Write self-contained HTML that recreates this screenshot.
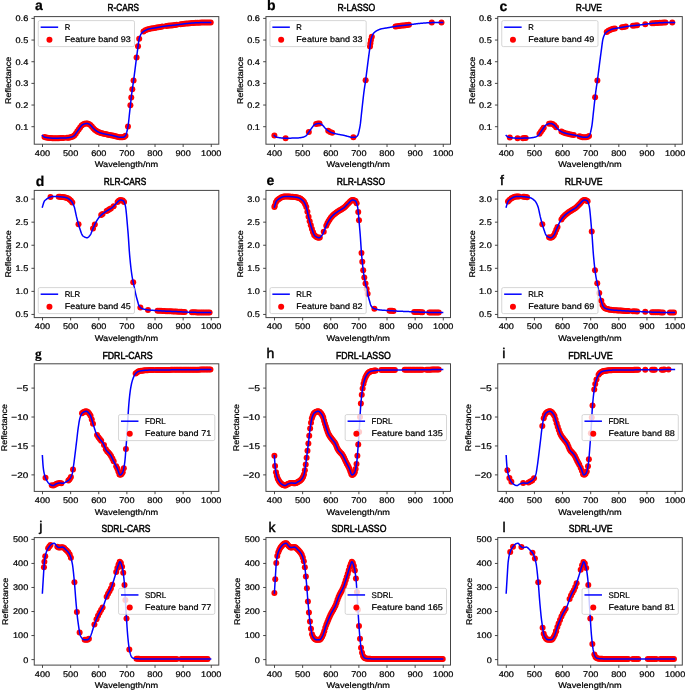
<!DOCTYPE html>
<html><head><meta charset="utf-8"><style>
html,body{margin:0;padding:0;background:#fff;}
svg{display:block;will-change:transform;}
text{text-rendering:geometricPrecision;font-family:"Liberation Sans",sans-serif;stroke:#000;stroke-width:0.22px;}
</style></head><body>
<svg width="685" height="690" viewBox="0 0 685 690" font-family="Liberation Sans, sans-serif" fill="#000">
<rect x="0" y="0" width="685" height="690" fill="#fff"/>
<clipPath id="clipa"><rect x="34.25" y="16.60" width="184.55" height="127.60"/></clipPath>
<g clip-path="url(#clipa)">
<circle cx="44.47" cy="137.12" r="3.0" fill="#f00"/>
<circle cx="46.06" cy="137.47" r="3.0" fill="#f00"/>
<circle cx="47.66" cy="137.74" r="3.0" fill="#f00"/>
<circle cx="49.25" cy="137.95" r="3.0" fill="#f00"/>
<circle cx="50.85" cy="138.09" r="3.0" fill="#f00"/>
<circle cx="52.44" cy="138.17" r="3.0" fill="#f00"/>
<circle cx="54.03" cy="138.18" r="3.0" fill="#f00"/>
<circle cx="55.63" cy="138.17" r="3.0" fill="#f00"/>
<circle cx="57.22" cy="138.16" r="3.0" fill="#f00"/>
<circle cx="58.82" cy="138.13" r="3.0" fill="#f00"/>
<circle cx="60.41" cy="138.10" r="3.0" fill="#f00"/>
<circle cx="62.00" cy="138.06" r="3.0" fill="#f00"/>
<circle cx="63.60" cy="138.02" r="3.0" fill="#f00"/>
<circle cx="66.97" cy="137.85" r="3.0" fill="#f00"/>
<circle cx="68.44" cy="137.66" r="3.0" fill="#f00"/>
<circle cx="69.90" cy="137.41" r="3.0" fill="#f00"/>
<circle cx="71.36" cy="137.09" r="3.0" fill="#f00"/>
<circle cx="72.82" cy="136.50" r="3.0" fill="#f00"/>
<circle cx="74.29" cy="135.57" r="3.0" fill="#f00"/>
<circle cx="75.75" cy="133.69" r="3.0" fill="#f00"/>
<circle cx="77.21" cy="131.57" r="3.0" fill="#f00"/>
<circle cx="78.68" cy="129.47" r="3.0" fill="#f00"/>
<circle cx="80.14" cy="127.49" r="3.0" fill="#f00"/>
<circle cx="81.60" cy="125.51" r="3.0" fill="#f00"/>
<circle cx="83.06" cy="124.39" r="3.0" fill="#f00"/>
<circle cx="84.53" cy="123.87" r="3.0" fill="#f00"/>
<circle cx="85.99" cy="123.53" r="3.0" fill="#f00"/>
<circle cx="87.45" cy="123.48" r="3.0" fill="#f00"/>
<circle cx="88.91" cy="124.06" r="3.0" fill="#f00"/>
<circle cx="90.38" cy="125.00" r="3.0" fill="#f00"/>
<circle cx="91.84" cy="126.62" r="3.0" fill="#f00"/>
<circle cx="93.30" cy="128.23" r="3.0" fill="#f00"/>
<circle cx="94.77" cy="129.66" r="3.0" fill="#f00"/>
<circle cx="96.23" cy="130.78" r="3.0" fill="#f00"/>
<circle cx="97.69" cy="131.66" r="3.0" fill="#f00"/>
<circle cx="99.15" cy="132.37" r="3.0" fill="#f00"/>
<circle cx="100.62" cy="132.92" r="3.0" fill="#f00"/>
<circle cx="102.08" cy="133.35" r="3.0" fill="#f00"/>
<circle cx="103.54" cy="133.72" r="3.0" fill="#f00"/>
<circle cx="105.00" cy="134.05" r="3.0" fill="#f00"/>
<circle cx="106.47" cy="134.36" r="3.0" fill="#f00"/>
<circle cx="107.93" cy="134.63" r="3.0" fill="#f00"/>
<circle cx="109.39" cy="134.88" r="3.0" fill="#f00"/>
<circle cx="110.86" cy="135.14" r="3.0" fill="#f00"/>
<circle cx="112.32" cy="135.44" r="3.0" fill="#f00"/>
<circle cx="113.78" cy="135.83" r="3.0" fill="#f00"/>
<circle cx="115.24" cy="136.23" r="3.0" fill="#f00"/>
<circle cx="116.71" cy="136.61" r="3.0" fill="#f00"/>
<circle cx="118.17" cy="137.01" r="3.0" fill="#f00"/>
<circle cx="119.63" cy="137.31" r="3.0" fill="#f00"/>
<circle cx="121.10" cy="137.35" r="3.0" fill="#f00"/>
<circle cx="122.56" cy="137.25" r="3.0" fill="#f00"/>
<circle cx="124.02" cy="136.93" r="3.0" fill="#f00"/>
<circle cx="125.48" cy="135.74" r="3.0" fill="#f00"/>
<circle cx="127.97" cy="126.48" r="3.0" fill="#f00"/>
<circle cx="130.40" cy="105.26" r="3.0" fill="#f00"/>
<circle cx="131.27" cy="97.46" r="3.0" fill="#f00"/>
<circle cx="132.31" cy="89.23" r="3.0" fill="#f00"/>
<circle cx="133.58" cy="80.56" r="3.0" fill="#f00"/>
<circle cx="136.57" cy="57.39" r="3.0" fill="#f00"/>
<circle cx="138.03" cy="46.34" r="3.0" fill="#f00"/>
<circle cx="139.21" cy="38.76" r="3.0" fill="#f00"/>
<circle cx="143.49" cy="31.50" r="3.0" fill="#f00"/>
<circle cx="145.37" cy="30.37" r="3.0" fill="#f00"/>
<circle cx="147.26" cy="29.49" r="3.0" fill="#f00"/>
<circle cx="149.14" cy="28.90" r="3.0" fill="#f00"/>
<circle cx="151.03" cy="28.50" r="3.0" fill="#f00"/>
<circle cx="152.91" cy="28.20" r="3.0" fill="#f00"/>
<circle cx="154.79" cy="27.91" r="3.0" fill="#f00"/>
<circle cx="156.68" cy="27.59" r="3.0" fill="#f00"/>
<circle cx="158.56" cy="27.25" r="3.0" fill="#f00"/>
<circle cx="160.45" cy="26.90" r="3.0" fill="#f00"/>
<circle cx="162.33" cy="26.57" r="3.0" fill="#f00"/>
<circle cx="166.27" cy="26.00" r="3.0" fill="#f00"/>
<circle cx="168.01" cy="25.79" r="3.0" fill="#f00"/>
<circle cx="169.74" cy="25.61" r="3.0" fill="#f00"/>
<circle cx="171.48" cy="25.43" r="3.0" fill="#f00"/>
<circle cx="173.21" cy="25.25" r="3.0" fill="#f00"/>
<circle cx="174.95" cy="25.07" r="3.0" fill="#f00"/>
<circle cx="176.68" cy="24.86" r="3.0" fill="#f00"/>
<circle cx="180.62" cy="24.33" r="3.0" fill="#f00"/>
<circle cx="182.50" cy="24.06" r="3.0" fill="#f00"/>
<circle cx="184.38" cy="23.80" r="3.0" fill="#f00"/>
<circle cx="186.26" cy="23.57" r="3.0" fill="#f00"/>
<circle cx="188.14" cy="23.38" r="3.0" fill="#f00"/>
<circle cx="190.02" cy="23.21" r="3.0" fill="#f00"/>
<circle cx="191.91" cy="23.06" r="3.0" fill="#f00"/>
<circle cx="193.79" cy="22.91" r="3.0" fill="#f00"/>
<circle cx="195.67" cy="22.79" r="3.0" fill="#f00"/>
<circle cx="197.55" cy="22.69" r="3.0" fill="#f00"/>
<circle cx="199.43" cy="22.63" r="3.0" fill="#f00"/>
<circle cx="201.31" cy="22.60" r="3.0" fill="#f00"/>
<circle cx="203.19" cy="22.57" r="3.0" fill="#f00"/>
<circle cx="205.07" cy="22.55" r="3.0" fill="#f00"/>
<circle cx="206.96" cy="22.53" r="3.0" fill="#f00"/>
<circle cx="208.84" cy="22.52" r="3.0" fill="#f00"/>
<circle cx="210.72" cy="22.52" r="3.0" fill="#f00"/>
<polyline points="42.39,135.55 42.67,135.81 42.95,136.07 43.23,136.32 43.51,136.55 43.79,136.75 44.08,136.93 44.36,137.07 44.64,137.18 44.92,137.24 45.20,137.30 45.48,137.36 45.76,137.42 46.04,137.47 46.33,137.52 46.61,137.57 46.89,137.62 47.17,137.67 47.45,137.71 47.73,137.76 48.01,137.80 48.29,137.83 48.58,137.87 48.86,137.90 49.14,137.94 49.42,137.97 49.70,138.00 49.98,138.02 50.26,138.05 50.55,138.07 50.83,138.09 51.11,138.11 51.39,138.12 51.67,138.14 51.95,138.15 52.23,138.16 52.51,138.17 52.80,138.17 53.08,138.18 53.36,138.18 53.64,138.18 53.92,138.18 54.20,138.18 54.48,138.18 54.76,138.18 55.05,138.18 55.33,138.17 55.61,138.17 55.89,138.17 56.17,138.17 56.45,138.17 56.73,138.16 57.02,138.16 57.30,138.16 57.58,138.15 57.86,138.15 58.14,138.14 58.42,138.14 58.70,138.14 58.98,138.13 59.27,138.13 59.55,138.12 59.83,138.12 60.11,138.11 60.39,138.10 60.67,138.10 60.95,138.09 61.23,138.08 61.52,138.08 61.80,138.07 62.08,138.06 62.36,138.06 62.64,138.05 62.92,138.04 63.20,138.03 63.48,138.02 63.77,138.01 64.05,138.01 64.33,138.00 64.61,137.99 64.89,137.98 65.17,137.97 65.45,137.96 65.74,137.94 66.02,137.93 66.30,137.91 66.58,137.88 66.86,137.86 67.14,137.83 67.42,137.80 67.70,137.77 67.99,137.73 68.27,137.69 68.55,137.65 68.83,137.60 69.11,137.56 69.39,137.51 69.67,137.46 69.95,137.40 70.24,137.35 70.52,137.29 70.80,137.23 71.08,137.17 71.36,137.09 71.64,137.00 71.92,136.90 72.21,136.79 72.49,136.67 72.77,136.53 73.05,136.38 73.33,136.22 73.61,136.05 73.89,135.87 74.17,135.67 74.46,135.41 74.74,135.10 75.02,134.74 75.30,134.35 75.58,133.94 75.86,133.52 76.14,133.09 76.42,132.67 76.71,132.27 76.99,131.88 77.27,131.49 77.55,131.09 77.83,130.69 78.11,130.28 78.39,129.87 78.68,129.47 78.96,129.07 79.24,128.68 79.52,128.30 79.80,127.93 80.08,127.56 80.36,127.18 80.64,126.79 80.93,126.40 81.21,126.01 81.49,125.65 81.77,125.31 82.05,125.02 82.33,124.77 82.61,124.59 82.89,124.46 83.18,124.35 83.46,124.24 83.74,124.13 84.02,124.03 84.30,123.94 84.58,123.85 84.86,123.77 85.15,123.70 85.43,123.63 85.71,123.58 85.99,123.53 86.27,123.50 86.55,123.47 86.83,123.46 87.11,123.45 87.40,123.47 87.68,123.53 87.96,123.61 88.24,123.72 88.52,123.85 88.80,124.00 89.08,124.16 89.36,124.33 89.65,124.50 89.93,124.68 90.21,124.87 90.49,125.10 90.77,125.37 91.05,125.68 91.33,126.00 91.61,126.35 91.90,126.69 92.18,127.03 92.46,127.36 92.74,127.67 93.02,127.95 93.30,128.23 93.58,128.51 93.87,128.79 94.15,129.07 94.43,129.34 94.71,129.60 94.99,129.86 95.27,130.09 95.55,130.32 95.83,130.52 96.12,130.71 96.40,130.89 96.68,131.07 96.96,131.24 97.24,131.40 97.52,131.56 97.80,131.72 98.08,131.86 98.37,132.01 98.65,132.14 98.93,132.27 99.21,132.39 99.49,132.51 99.77,132.62 100.05,132.73 100.34,132.82 100.62,132.92 100.90,133.01 101.18,133.09 101.46,133.18 101.74,133.26 102.02,133.34 102.30,133.41 102.59,133.49 102.87,133.56 103.15,133.63 103.43,133.70 103.71,133.76 103.99,133.83 104.27,133.89 104.55,133.95 104.84,134.02 105.12,134.08 105.40,134.14 105.68,134.20 105.96,134.26 106.24,134.32 106.52,134.37 106.81,134.43 107.09,134.48 107.37,134.53 107.65,134.58 107.93,134.63 108.21,134.68 108.49,134.73 108.77,134.78 109.06,134.82 109.34,134.87 109.62,134.92 109.90,134.97 110.18,135.01 110.46,135.06 110.74,135.12 111.02,135.17 111.31,135.22 111.59,135.28 111.87,135.34 112.15,135.40 112.43,135.47 112.71,135.54 112.99,135.61 113.28,135.69 113.56,135.77 113.84,135.84 114.12,135.92 114.40,136.00 114.68,136.08 114.96,136.16 115.24,136.23 115.53,136.31 115.81,136.38 116.09,136.44 116.37,136.52 116.65,136.59 116.93,136.67 117.21,136.75 117.49,136.83 117.78,136.91 118.06,136.98 118.34,137.06 118.62,137.12 118.90,137.18 119.18,137.24 119.46,137.28 119.74,137.32 120.03,137.34 120.31,137.36 120.59,137.36 120.87,137.35 121.15,137.34 121.43,137.33 121.71,137.32 122.00,137.30 122.28,137.28 122.56,137.25 122.84,137.23 123.12,137.20 123.40,137.16 123.68,137.08 123.96,136.96 124.25,136.81 124.53,136.62 124.81,136.40 125.09,136.15 125.37,135.87 125.65,135.49 125.93,134.92 126.21,134.16 126.50,133.24 126.78,132.17 127.06,130.99 127.34,129.69 127.62,128.31 127.90,126.86 128.18,125.26 128.47,123.17 128.75,120.69 129.03,117.99 129.31,115.22 129.59,112.55 129.87,110.05 130.15,107.52 130.43,104.97 130.72,102.41 131.00,99.87 131.28,97.39 131.56,94.99 131.84,92.71 132.12,90.56 132.40,88.56 132.68,86.65 132.97,84.79 133.25,82.90 133.53,80.95 133.81,78.88 134.09,76.73 134.37,74.52 134.65,72.29 134.94,70.04 135.22,67.81 135.50,65.62 135.78,63.45 136.06,61.27 136.34,59.11 136.62,56.96 136.90,54.83 137.19,52.74 137.47,50.70 137.75,48.55 138.03,46.31 138.31,44.12 138.59,42.08 138.87,40.32 139.15,38.97 139.44,37.99 139.72,37.10 140.00,36.30 140.28,35.59 140.56,34.95 140.84,34.39 141.12,33.91 141.41,33.49 141.69,33.14 141.97,32.82 142.25,32.52 142.53,32.26 142.81,32.01 143.09,31.79 143.37,31.58 143.66,31.39 143.94,31.20 144.22,31.03 144.50,30.86 144.78,30.70 145.06,30.54 145.34,30.39 145.62,30.24 145.91,30.09 146.19,29.96 146.47,29.82 146.75,29.70 147.03,29.58 147.31,29.47 147.59,29.36 147.87,29.26 148.16,29.17 148.44,29.08 148.72,29.01 149.00,28.93 149.28,28.87 149.56,28.80 149.84,28.74 150.13,28.68 150.41,28.62 150.69,28.57 150.97,28.51 151.25,28.46 151.53,28.42 151.81,28.37 152.09,28.32 152.38,28.28 152.66,28.24 152.94,28.19 153.22,28.15 153.50,28.11 153.78,28.07 154.06,28.02 154.34,27.98 154.63,27.94 154.91,27.90 155.19,27.85 155.47,27.80 155.75,27.76 156.03,27.71 156.31,27.66 156.60,27.61 156.88,27.56 157.16,27.51 157.44,27.46 157.72,27.40 158.00,27.35 158.28,27.30 158.56,27.25 158.85,27.19 159.13,27.14 159.41,27.09 159.69,27.04 159.97,26.99 160.25,26.93 160.53,26.88 160.81,26.83 161.10,26.78 161.38,26.73 161.66,26.68 161.94,26.63 162.22,26.59 162.50,26.54 162.78,26.49 163.07,26.45 163.35,26.40 163.63,26.36 163.91,26.31 164.19,26.27 164.47,26.23 164.75,26.19 165.03,26.16 165.32,26.12 165.60,26.08 165.88,26.05 166.16,26.01 166.44,25.98 166.72,25.94 167.00,25.91 167.28,25.88 167.57,25.84 167.85,25.81 168.13,25.78 168.41,25.75 168.69,25.72 168.97,25.69 169.25,25.66 169.54,25.63 169.82,25.60 170.10,25.57 170.38,25.54 170.66,25.51 170.94,25.48 171.22,25.45 171.50,25.43 171.79,25.40 172.07,25.37 172.35,25.34 172.63,25.31 172.91,25.28 173.19,25.25 173.47,25.22 173.75,25.19 174.04,25.16 174.32,25.13 174.60,25.10 174.88,25.07 175.16,25.04 175.44,25.01 175.72,24.98 176.00,24.94 176.29,24.91 176.57,24.88 176.85,24.84 177.13,24.81 177.41,24.77 177.69,24.73 177.97,24.70 178.26,24.66 178.54,24.62 178.82,24.58 179.10,24.54 179.38,24.50 179.66,24.46 179.94,24.42 180.22,24.38 180.51,24.34 180.79,24.30 181.07,24.26 181.35,24.22 181.63,24.18 181.91,24.14 182.19,24.10 182.47,24.06 182.76,24.02 183.04,23.98 183.32,23.94 183.60,23.90 183.88,23.86 184.16,23.83 184.44,23.79 184.73,23.75 185.01,23.72 185.29,23.68 185.57,23.65 185.85,23.61 186.13,23.58 186.41,23.55 186.69,23.52 186.98,23.49 187.26,23.46 187.54,23.43 187.82,23.41 188.10,23.38 188.38,23.36 188.66,23.33 188.94,23.31 189.23,23.28 189.51,23.26 189.79,23.24 190.07,23.21 190.35,23.19 190.63,23.16 190.91,23.14 191.20,23.12 191.48,23.09 191.76,23.07 192.04,23.05 192.32,23.02 192.60,23.00 192.88,22.98 193.16,22.96 193.45,22.94 193.73,22.92 194.01,22.90 194.29,22.88 194.57,22.86 194.85,22.84 195.13,22.82 195.41,22.80 195.70,22.78 195.98,22.77 196.26,22.75 196.54,22.74 196.82,22.72 197.10,22.71 197.38,22.70 197.67,22.69 197.95,22.67 198.23,22.66 198.51,22.65 198.79,22.65 199.07,22.64 199.35,22.63 199.63,22.63 199.92,22.62 200.20,22.62 200.48,22.61 200.76,22.61 201.04,22.60 201.32,22.60 201.60,22.59 201.88,22.59 202.17,22.59 202.45,22.58 202.73,22.58 203.01,22.57 203.29,22.57 203.57,22.57 203.85,22.56 204.13,22.56 204.42,22.56 204.70,22.55 204.98,22.55 205.26,22.55 205.54,22.54 205.82,22.54 206.10,22.54 206.39,22.54 206.67,22.53 206.95,22.53 207.23,22.53 207.51,22.53 207.79,22.52 208.07,22.52 208.35,22.52 208.64,22.52 208.92,22.52 209.20,22.52 209.48,22.52 209.76,22.52 210.04,22.52 210.32,22.52 210.60,22.52" fill="none" stroke="#00f" stroke-width="1.5" stroke-linejoin="round" stroke-linecap="square"/>
</g>
<rect x="34.25" y="16.60" width="184.55" height="127.60" fill="none" stroke="#444" stroke-width="1"/>
<line x1="42.50" y1="144.20" x2="42.50" y2="147.00" stroke="#333" stroke-width="0.9"/>
<text x="42.50" y="155.90" text-anchor="middle" font-size="8.2" textLength="15.27" lengthAdjust="spacingAndGlyphs" >400</text>
<line x1="70.63" y1="144.20" x2="70.63" y2="147.00" stroke="#333" stroke-width="0.9"/>
<text x="70.63" y="155.90" text-anchor="middle" font-size="8.2" textLength="15.27" lengthAdjust="spacingAndGlyphs" >500</text>
<line x1="98.76" y1="144.20" x2="98.76" y2="147.00" stroke="#333" stroke-width="0.9"/>
<text x="98.76" y="155.90" text-anchor="middle" font-size="8.2" textLength="15.27" lengthAdjust="spacingAndGlyphs" >600</text>
<line x1="126.89" y1="144.20" x2="126.89" y2="147.00" stroke="#333" stroke-width="0.9"/>
<text x="126.89" y="155.90" text-anchor="middle" font-size="8.2" textLength="15.27" lengthAdjust="spacingAndGlyphs" >700</text>
<line x1="155.02" y1="144.20" x2="155.02" y2="147.00" stroke="#333" stroke-width="0.9"/>
<text x="155.02" y="155.90" text-anchor="middle" font-size="8.2" textLength="15.27" lengthAdjust="spacingAndGlyphs" >800</text>
<line x1="183.15" y1="144.20" x2="183.15" y2="147.00" stroke="#333" stroke-width="0.9"/>
<text x="183.15" y="155.90" text-anchor="middle" font-size="8.2" textLength="15.27" lengthAdjust="spacingAndGlyphs" >900</text>
<line x1="211.28" y1="144.20" x2="211.28" y2="147.00" stroke="#333" stroke-width="0.9"/>
<text x="211.28" y="155.90" text-anchor="middle" font-size="8.2" textLength="20.36" lengthAdjust="spacingAndGlyphs" >1000</text>
<line x1="31.45" y1="126.70" x2="34.25" y2="126.70" stroke="#333" stroke-width="0.9"/>
<text x="28.25" y="129.60" text-anchor="end" font-size="8.2" textLength="12.72" lengthAdjust="spacingAndGlyphs" >0.1</text>
<line x1="31.45" y1="105.04" x2="34.25" y2="105.04" stroke="#333" stroke-width="0.9"/>
<text x="28.25" y="107.94" text-anchor="end" font-size="8.2" textLength="12.72" lengthAdjust="spacingAndGlyphs" >0.2</text>
<line x1="31.45" y1="83.38" x2="34.25" y2="83.38" stroke="#333" stroke-width="0.9"/>
<text x="28.25" y="86.28" text-anchor="end" font-size="8.2" textLength="12.72" lengthAdjust="spacingAndGlyphs" >0.3</text>
<line x1="31.45" y1="61.72" x2="34.25" y2="61.72" stroke="#333" stroke-width="0.9"/>
<text x="28.25" y="64.62" text-anchor="end" font-size="8.2" textLength="12.72" lengthAdjust="spacingAndGlyphs" >0.4</text>
<line x1="31.45" y1="40.06" x2="34.25" y2="40.06" stroke="#333" stroke-width="0.9"/>
<text x="28.25" y="42.96" text-anchor="end" font-size="8.2" textLength="12.72" lengthAdjust="spacingAndGlyphs" >0.5</text>
<line x1="31.45" y1="18.40" x2="34.25" y2="18.40" stroke="#333" stroke-width="0.9"/>
<text x="28.25" y="21.30" text-anchor="end" font-size="8.2" textLength="12.72" lengthAdjust="spacingAndGlyphs" >0.6</text>
<text x="126.53" y="167.40" text-anchor="middle" font-size="8.2" textLength="63.53" lengthAdjust="spacingAndGlyphs" >Wavelength/nm</text>
<text transform="translate(11.10,80.40) rotate(-90)" x="0" y="0" text-anchor="middle" font-size="8.2" textLength="47.27" lengthAdjust="spacingAndGlyphs">Reflectance</text>
<text x="107.60" y="10.85" font-size="10.3" font-weight="normal" style="stroke-width:0.5px" textLength="31.50" lengthAdjust="spacingAndGlyphs">R-CARS</text>
<text x="35.10" y="9.80" font-size="14" font-weight="bold">a</text>
<rect x="38.25" y="20.60" width="96.24" height="26.00" rx="1.6" fill="#fff" fill-opacity="0.8" stroke="#ccc" stroke-width="0.8"/>
<line x1="40.65" y1="27.20" x2="58.15" y2="27.20" stroke="#00f" stroke-width="1.5"/>
<circle cx="49.45" cy="39.80" r="3.0" fill="#f00"/>
<text x="64.65" y="30.20" text-anchor="start" font-size="8.2" textLength="5.56" lengthAdjust="spacingAndGlyphs" >R</text>
<text x="64.65" y="41.80" text-anchor="start" font-size="8.2" textLength="66.24" lengthAdjust="spacingAndGlyphs" >Feature band 93</text>
<clipPath id="clipb"><rect x="265.95" y="16.60" width="184.55" height="127.60"/></clipPath>
<g clip-path="url(#clipb)">
<circle cx="274.39" cy="135.55" r="3.0" fill="#f00"/>
<circle cx="285.61" cy="138.18" r="3.0" fill="#f00"/>
<circle cx="308.82" cy="132.12" r="3.0" fill="#f00"/>
<circle cx="316.13" cy="123.99" r="3.0" fill="#f00"/>
<circle cx="317.82" cy="123.56" r="3.0" fill="#f00"/>
<circle cx="319.51" cy="123.49" r="3.0" fill="#f00"/>
<circle cx="328.23" cy="130.78" r="3.0" fill="#f00"/>
<circle cx="330.20" cy="131.92" r="3.0" fill="#f00"/>
<circle cx="332.17" cy="132.76" r="3.0" fill="#f00"/>
<circle cx="353.40" cy="137.33" r="3.0" fill="#f00"/>
<circle cx="365.64" cy="80.13" r="3.0" fill="#f00"/>
<circle cx="370.00" cy="46.56" r="3.0" fill="#f00"/>
<circle cx="370.42" cy="43.31" r="3.0" fill="#f00"/>
<circle cx="370.92" cy="40.06" r="3.0" fill="#f00"/>
<circle cx="371.82" cy="36.81" r="3.0" fill="#f00"/>
<circle cx="395.46" cy="26.38" r="3.0" fill="#f00"/>
<circle cx="397.15" cy="26.14" r="3.0" fill="#f00"/>
<circle cx="398.83" cy="25.93" r="3.0" fill="#f00"/>
<circle cx="400.52" cy="25.74" r="3.0" fill="#f00"/>
<circle cx="402.21" cy="25.56" r="3.0" fill="#f00"/>
<circle cx="403.90" cy="25.39" r="3.0" fill="#f00"/>
<circle cx="405.59" cy="25.21" r="3.0" fill="#f00"/>
<circle cx="407.27" cy="25.03" r="3.0" fill="#f00"/>
<circle cx="408.96" cy="24.83" r="3.0" fill="#f00"/>
<circle cx="431.75" cy="22.62" r="3.0" fill="#f00"/>
<circle cx="441.48" cy="22.52" r="3.0" fill="#f00"/>
<polyline points="274.39,135.55 274.67,135.81 274.95,136.07 275.23,136.32 275.51,136.55 275.79,136.75 276.08,136.93 276.36,137.07 276.64,137.18 276.92,137.24 277.20,137.30 277.48,137.36 277.76,137.42 278.04,137.47 278.33,137.52 278.61,137.57 278.89,137.62 279.17,137.67 279.45,137.71 279.73,137.76 280.01,137.80 280.29,137.83 280.58,137.87 280.86,137.90 281.14,137.94 281.42,137.97 281.70,138.00 281.98,138.02 282.26,138.05 282.55,138.07 282.83,138.09 283.11,138.11 283.39,138.12 283.67,138.14 283.95,138.15 284.23,138.16 284.51,138.17 284.80,138.17 285.08,138.18 285.36,138.18 285.64,138.18 285.92,138.18 286.20,138.18 286.48,138.18 286.76,138.18 287.05,138.18 287.33,138.17 287.61,138.17 287.89,138.17 288.17,138.17 288.45,138.17 288.73,138.16 289.02,138.16 289.30,138.16 289.58,138.15 289.86,138.15 290.14,138.14 290.42,138.14 290.70,138.14 290.98,138.13 291.27,138.13 291.55,138.12 291.83,138.12 292.11,138.11 292.39,138.10 292.67,138.10 292.95,138.09 293.23,138.08 293.52,138.08 293.80,138.07 294.08,138.06 294.36,138.06 294.64,138.05 294.92,138.04 295.20,138.03 295.48,138.02 295.77,138.01 296.05,138.01 296.33,138.00 296.61,137.99 296.89,137.98 297.17,137.97 297.45,137.96 297.74,137.94 298.02,137.93 298.30,137.91 298.58,137.88 298.86,137.86 299.14,137.83 299.42,137.80 299.70,137.77 299.99,137.73 300.27,137.69 300.55,137.65 300.83,137.60 301.11,137.56 301.39,137.51 301.67,137.46 301.95,137.40 302.24,137.35 302.52,137.29 302.80,137.23 303.08,137.17 303.36,137.09 303.64,137.00 303.92,136.90 304.21,136.79 304.49,136.67 304.77,136.53 305.05,136.38 305.33,136.22 305.61,136.05 305.89,135.87 306.17,135.67 306.46,135.41 306.74,135.10 307.02,134.74 307.30,134.35 307.58,133.94 307.86,133.52 308.14,133.09 308.42,132.67 308.71,132.27 308.99,131.88 309.27,131.49 309.55,131.09 309.83,130.69 310.11,130.28 310.39,129.87 310.68,129.47 310.96,129.07 311.24,128.68 311.52,128.30 311.80,127.93 312.08,127.56 312.36,127.18 312.64,126.79 312.93,126.40 313.21,126.01 313.49,125.65 313.77,125.31 314.05,125.02 314.33,124.77 314.61,124.59 314.89,124.46 315.18,124.35 315.46,124.24 315.74,124.13 316.02,124.03 316.30,123.94 316.58,123.85 316.86,123.77 317.15,123.70 317.43,123.63 317.71,123.58 317.99,123.53 318.27,123.50 318.55,123.47 318.83,123.46 319.11,123.45 319.40,123.47 319.68,123.53 319.96,123.61 320.24,123.72 320.52,123.85 320.80,124.00 321.08,124.16 321.36,124.33 321.65,124.50 321.93,124.68 322.21,124.87 322.49,125.10 322.77,125.37 323.05,125.68 323.33,126.00 323.61,126.35 323.90,126.69 324.18,127.03 324.46,127.36 324.74,127.67 325.02,127.95 325.30,128.23 325.58,128.51 325.87,128.79 326.15,129.07 326.43,129.34 326.71,129.60 326.99,129.86 327.27,130.09 327.55,130.32 327.83,130.52 328.12,130.71 328.40,130.89 328.68,131.07 328.96,131.24 329.24,131.40 329.52,131.56 329.80,131.72 330.08,131.86 330.37,132.01 330.65,132.14 330.93,132.27 331.21,132.39 331.49,132.51 331.77,132.62 332.05,132.73 332.34,132.82 332.62,132.92 332.90,133.01 333.18,133.09 333.46,133.18 333.74,133.26 334.02,133.34 334.30,133.41 334.59,133.49 334.87,133.56 335.15,133.63 335.43,133.70 335.71,133.76 335.99,133.83 336.27,133.89 336.55,133.95 336.84,134.02 337.12,134.08 337.40,134.14 337.68,134.20 337.96,134.26 338.24,134.32 338.52,134.37 338.81,134.43 339.09,134.48 339.37,134.53 339.65,134.58 339.93,134.63 340.21,134.68 340.49,134.73 340.77,134.78 341.06,134.82 341.34,134.87 341.62,134.92 341.90,134.97 342.18,135.01 342.46,135.06 342.74,135.12 343.02,135.17 343.31,135.22 343.59,135.28 343.87,135.34 344.15,135.40 344.43,135.47 344.71,135.54 344.99,135.61 345.28,135.69 345.56,135.77 345.84,135.84 346.12,135.92 346.40,136.00 346.68,136.08 346.96,136.16 347.24,136.23 347.53,136.31 347.81,136.38 348.09,136.44 348.37,136.52 348.65,136.59 348.93,136.67 349.21,136.75 349.49,136.83 349.78,136.91 350.06,136.98 350.34,137.06 350.62,137.12 350.90,137.18 351.18,137.24 351.46,137.28 351.74,137.32 352.03,137.34 352.31,137.36 352.59,137.36 352.87,137.35 353.15,137.34 353.43,137.33 353.71,137.32 354.00,137.30 354.28,137.28 354.56,137.25 354.84,137.23 355.12,137.20 355.40,137.16 355.68,137.08 355.96,136.96 356.25,136.81 356.53,136.62 356.81,136.40 357.09,136.15 357.37,135.87 357.65,135.49 357.93,134.92 358.21,134.16 358.50,133.24 358.78,132.17 359.06,130.99 359.34,129.69 359.62,128.31 359.90,126.86 360.18,125.26 360.47,123.17 360.75,120.69 361.03,117.99 361.31,115.22 361.59,112.55 361.87,110.05 362.15,107.52 362.43,104.97 362.72,102.41 363.00,99.87 363.28,97.39 363.56,94.99 363.84,92.71 364.12,90.56 364.40,88.56 364.68,86.65 364.97,84.79 365.25,82.90 365.53,80.95 365.81,78.88 366.09,76.73 366.37,74.52 366.65,72.29 366.94,70.04 367.22,67.81 367.50,65.62 367.78,63.45 368.06,61.27 368.34,59.11 368.62,56.96 368.90,54.83 369.19,52.74 369.47,50.70 369.75,48.55 370.03,46.31 370.31,44.12 370.59,42.08 370.87,40.32 371.15,38.97 371.44,37.99 371.72,37.10 372.00,36.30 372.28,35.59 372.56,34.95 372.84,34.39 373.12,33.91 373.41,33.49 373.69,33.14 373.97,32.82 374.25,32.52 374.53,32.26 374.81,32.01 375.09,31.79 375.37,31.58 375.66,31.39 375.94,31.20 376.22,31.03 376.50,30.86 376.78,30.70 377.06,30.54 377.34,30.39 377.62,30.24 377.91,30.09 378.19,29.96 378.47,29.82 378.75,29.70 379.03,29.58 379.31,29.47 379.59,29.36 379.87,29.26 380.16,29.17 380.44,29.08 380.72,29.01 381.00,28.93 381.28,28.87 381.56,28.80 381.84,28.74 382.13,28.68 382.41,28.62 382.69,28.57 382.97,28.51 383.25,28.46 383.53,28.42 383.81,28.37 384.09,28.32 384.38,28.28 384.66,28.24 384.94,28.19 385.22,28.15 385.50,28.11 385.78,28.07 386.06,28.02 386.34,27.98 386.63,27.94 386.91,27.90 387.19,27.85 387.47,27.80 387.75,27.76 388.03,27.71 388.31,27.66 388.60,27.61 388.88,27.56 389.16,27.51 389.44,27.46 389.72,27.40 390.00,27.35 390.28,27.30 390.56,27.25 390.85,27.19 391.13,27.14 391.41,27.09 391.69,27.04 391.97,26.99 392.25,26.93 392.53,26.88 392.81,26.83 393.10,26.78 393.38,26.73 393.66,26.68 393.94,26.63 394.22,26.59 394.50,26.54 394.78,26.49 395.07,26.45 395.35,26.40 395.63,26.36 395.91,26.31 396.19,26.27 396.47,26.23 396.75,26.19 397.03,26.16 397.32,26.12 397.60,26.08 397.88,26.05 398.16,26.01 398.44,25.98 398.72,25.94 399.00,25.91 399.28,25.88 399.57,25.84 399.85,25.81 400.13,25.78 400.41,25.75 400.69,25.72 400.97,25.69 401.25,25.66 401.54,25.63 401.82,25.60 402.10,25.57 402.38,25.54 402.66,25.51 402.94,25.48 403.22,25.45 403.50,25.43 403.79,25.40 404.07,25.37 404.35,25.34 404.63,25.31 404.91,25.28 405.19,25.25 405.47,25.22 405.75,25.19 406.04,25.16 406.32,25.13 406.60,25.10 406.88,25.07 407.16,25.04 407.44,25.01 407.72,24.98 408.00,24.94 408.29,24.91 408.57,24.88 408.85,24.84 409.13,24.81 409.41,24.77 409.69,24.73 409.97,24.70 410.26,24.66 410.54,24.62 410.82,24.58 411.10,24.54 411.38,24.50 411.66,24.46 411.94,24.42 412.22,24.38 412.51,24.34 412.79,24.30 413.07,24.26 413.35,24.22 413.63,24.18 413.91,24.14 414.19,24.10 414.47,24.06 414.76,24.02 415.04,23.98 415.32,23.94 415.60,23.90 415.88,23.86 416.16,23.83 416.44,23.79 416.73,23.75 417.01,23.72 417.29,23.68 417.57,23.65 417.85,23.61 418.13,23.58 418.41,23.55 418.69,23.52 418.98,23.49 419.26,23.46 419.54,23.43 419.82,23.41 420.10,23.38 420.38,23.36 420.66,23.33 420.94,23.31 421.23,23.28 421.51,23.26 421.79,23.24 422.07,23.21 422.35,23.19 422.63,23.16 422.91,23.14 423.20,23.12 423.48,23.09 423.76,23.07 424.04,23.05 424.32,23.02 424.60,23.00 424.88,22.98 425.16,22.96 425.45,22.94 425.73,22.92 426.01,22.90 426.29,22.88 426.57,22.86 426.85,22.84 427.13,22.82 427.41,22.80 427.70,22.78 427.98,22.77 428.26,22.75 428.54,22.74 428.82,22.72 429.10,22.71 429.38,22.70 429.67,22.69 429.95,22.67 430.23,22.66 430.51,22.65 430.79,22.65 431.07,22.64 431.35,22.63 431.63,22.63 431.92,22.62 432.20,22.62 432.48,22.61 432.76,22.61 433.04,22.60 433.32,22.60 433.60,22.59 433.88,22.59 434.17,22.59 434.45,22.58 434.73,22.58 435.01,22.57 435.29,22.57 435.57,22.57 435.85,22.56 436.13,22.56 436.42,22.56 436.70,22.55 436.98,22.55 437.26,22.55 437.54,22.54 437.82,22.54 438.10,22.54 438.39,22.54 438.67,22.53 438.95,22.53 439.23,22.53 439.51,22.53 439.79,22.52 440.07,22.52 440.35,22.52 440.64,22.52 440.92,22.52 441.20,22.52 441.48,22.52 441.76,22.52 442.04,22.52 442.32,22.52 442.60,22.52" fill="none" stroke="#00f" stroke-width="1.5" stroke-linejoin="round" stroke-linecap="square"/>
</g>
<rect x="265.95" y="16.60" width="184.55" height="127.60" fill="none" stroke="#444" stroke-width="1"/>
<line x1="274.50" y1="144.20" x2="274.50" y2="147.00" stroke="#333" stroke-width="0.9"/>
<text x="274.50" y="155.90" text-anchor="middle" font-size="8.2" textLength="15.27" lengthAdjust="spacingAndGlyphs" >400</text>
<line x1="302.63" y1="144.20" x2="302.63" y2="147.00" stroke="#333" stroke-width="0.9"/>
<text x="302.63" y="155.90" text-anchor="middle" font-size="8.2" textLength="15.27" lengthAdjust="spacingAndGlyphs" >500</text>
<line x1="330.76" y1="144.20" x2="330.76" y2="147.00" stroke="#333" stroke-width="0.9"/>
<text x="330.76" y="155.90" text-anchor="middle" font-size="8.2" textLength="15.27" lengthAdjust="spacingAndGlyphs" >600</text>
<line x1="358.89" y1="144.20" x2="358.89" y2="147.00" stroke="#333" stroke-width="0.9"/>
<text x="358.89" y="155.90" text-anchor="middle" font-size="8.2" textLength="15.27" lengthAdjust="spacingAndGlyphs" >700</text>
<line x1="387.02" y1="144.20" x2="387.02" y2="147.00" stroke="#333" stroke-width="0.9"/>
<text x="387.02" y="155.90" text-anchor="middle" font-size="8.2" textLength="15.27" lengthAdjust="spacingAndGlyphs" >800</text>
<line x1="415.15" y1="144.20" x2="415.15" y2="147.00" stroke="#333" stroke-width="0.9"/>
<text x="415.15" y="155.90" text-anchor="middle" font-size="8.2" textLength="15.27" lengthAdjust="spacingAndGlyphs" >900</text>
<line x1="443.28" y1="144.20" x2="443.28" y2="147.00" stroke="#333" stroke-width="0.9"/>
<text x="443.28" y="155.90" text-anchor="middle" font-size="8.2" textLength="20.36" lengthAdjust="spacingAndGlyphs" >1000</text>
<line x1="263.15" y1="126.70" x2="265.95" y2="126.70" stroke="#333" stroke-width="0.9"/>
<text x="259.95" y="129.60" text-anchor="end" font-size="8.2" textLength="12.72" lengthAdjust="spacingAndGlyphs" >0.1</text>
<line x1="263.15" y1="105.04" x2="265.95" y2="105.04" stroke="#333" stroke-width="0.9"/>
<text x="259.95" y="107.94" text-anchor="end" font-size="8.2" textLength="12.72" lengthAdjust="spacingAndGlyphs" >0.2</text>
<line x1="263.15" y1="83.38" x2="265.95" y2="83.38" stroke="#333" stroke-width="0.9"/>
<text x="259.95" y="86.28" text-anchor="end" font-size="8.2" textLength="12.72" lengthAdjust="spacingAndGlyphs" >0.3</text>
<line x1="263.15" y1="61.72" x2="265.95" y2="61.72" stroke="#333" stroke-width="0.9"/>
<text x="259.95" y="64.62" text-anchor="end" font-size="8.2" textLength="12.72" lengthAdjust="spacingAndGlyphs" >0.4</text>
<line x1="263.15" y1="40.06" x2="265.95" y2="40.06" stroke="#333" stroke-width="0.9"/>
<text x="259.95" y="42.96" text-anchor="end" font-size="8.2" textLength="12.72" lengthAdjust="spacingAndGlyphs" >0.5</text>
<line x1="263.15" y1="18.40" x2="265.95" y2="18.40" stroke="#333" stroke-width="0.9"/>
<text x="259.95" y="21.30" text-anchor="end" font-size="8.2" textLength="12.72" lengthAdjust="spacingAndGlyphs" >0.6</text>
<text x="358.23" y="167.40" text-anchor="middle" font-size="8.2" textLength="63.53" lengthAdjust="spacingAndGlyphs" >Wavelength/nm</text>
<text transform="translate(242.80,80.40) rotate(-90)" x="0" y="0" text-anchor="middle" font-size="8.2" textLength="47.27" lengthAdjust="spacingAndGlyphs">Reflectance</text>
<text x="337.40" y="10.85" font-size="10.3" font-weight="normal" style="stroke-width:0.5px" textLength="37.90" lengthAdjust="spacingAndGlyphs">R-LASSO</text>
<text x="267.10" y="10.40" font-size="14" font-weight="bold">b</text>
<rect x="269.95" y="20.60" width="96.24" height="26.00" rx="1.6" fill="#fff" fill-opacity="0.8" stroke="#ccc" stroke-width="0.8"/>
<line x1="272.35" y1="27.20" x2="289.85" y2="27.20" stroke="#00f" stroke-width="1.5"/>
<circle cx="281.15" cy="39.80" r="3.0" fill="#f00"/>
<text x="296.35" y="30.20" text-anchor="start" font-size="8.2" textLength="5.56" lengthAdjust="spacingAndGlyphs" >R</text>
<text x="296.35" y="41.80" text-anchor="start" font-size="8.2" textLength="66.24" lengthAdjust="spacingAndGlyphs" >Feature band 33</text>
<clipPath id="clipc"><rect x="497.75" y="16.60" width="184.55" height="127.60"/></clipPath>
<g clip-path="url(#clipc)">
<circle cx="509.82" cy="137.47" r="3.0" fill="#f00"/>
<circle cx="517.55" cy="138.18" r="3.0" fill="#f00"/>
<circle cx="522.90" cy="138.13" r="3.0" fill="#f00"/>
<circle cx="524.30" cy="138.10" r="3.0" fill="#f00"/>
<circle cx="525.71" cy="138.07" r="3.0" fill="#f00"/>
<circle cx="539.49" cy="133.78" r="3.0" fill="#f00"/>
<circle cx="540.90" cy="131.73" r="3.0" fill="#f00"/>
<circle cx="542.31" cy="129.71" r="3.0" fill="#f00"/>
<circle cx="543.71" cy="127.78" r="3.0" fill="#f00"/>
<circle cx="549.06" cy="123.67" r="3.0" fill="#f00"/>
<circle cx="550.82" cy="123.45" r="3.0" fill="#f00"/>
<circle cx="552.57" cy="123.98" r="3.0" fill="#f00"/>
<circle cx="554.33" cy="125.14" r="3.0" fill="#f00"/>
<circle cx="556.09" cy="127.17" r="3.0" fill="#f00"/>
<circle cx="561.43" cy="131.62" r="3.0" fill="#f00"/>
<circle cx="563.50" cy="132.59" r="3.0" fill="#f00"/>
<circle cx="565.56" cy="133.27" r="3.0" fill="#f00"/>
<circle cx="567.62" cy="133.79" r="3.0" fill="#f00"/>
<circle cx="569.69" cy="134.24" r="3.0" fill="#f00"/>
<circle cx="571.75" cy="134.64" r="3.0" fill="#f00"/>
<circle cx="573.81" cy="134.99" r="3.0" fill="#f00"/>
<circle cx="579.44" cy="136.34" r="3.0" fill="#f00"/>
<circle cx="581.03" cy="136.75" r="3.0" fill="#f00"/>
<circle cx="582.63" cy="137.17" r="3.0" fill="#f00"/>
<circle cx="584.22" cy="137.36" r="3.0" fill="#f00"/>
<circle cx="585.81" cy="137.30" r="3.0" fill="#f00"/>
<circle cx="587.41" cy="137.10" r="3.0" fill="#f00"/>
<circle cx="589.00" cy="136.04" r="3.0" fill="#f00"/>
<circle cx="595.10" cy="97.24" r="3.0" fill="#f00"/>
<circle cx="597.38" cy="80.56" r="3.0" fill="#f00"/>
<circle cx="606.72" cy="31.92" r="3.0" fill="#f00"/>
<circle cx="608.36" cy="30.83" r="3.0" fill="#f00"/>
<circle cx="609.99" cy="29.96" r="3.0" fill="#f00"/>
<circle cx="611.62" cy="29.28" r="3.0" fill="#f00"/>
<circle cx="613.25" cy="28.83" r="3.0" fill="#f00"/>
<circle cx="614.88" cy="28.49" r="3.0" fill="#f00"/>
<circle cx="621.91" cy="27.33" r="3.0" fill="#f00"/>
<circle cx="623.88" cy="26.97" r="3.0" fill="#f00"/>
<circle cx="625.85" cy="26.61" r="3.0" fill="#f00"/>
<circle cx="632.88" cy="25.68" r="3.0" fill="#f00"/>
<circle cx="634.99" cy="25.46" r="3.0" fill="#f00"/>
<circle cx="637.10" cy="25.24" r="3.0" fill="#f00"/>
<circle cx="645.26" cy="24.20" r="3.0" fill="#f00"/>
<circle cx="652.01" cy="23.37" r="3.0" fill="#f00"/>
<circle cx="653.94" cy="23.20" r="3.0" fill="#f00"/>
<circle cx="655.87" cy="23.04" r="3.0" fill="#f00"/>
<circle cx="657.80" cy="22.90" r="3.0" fill="#f00"/>
<circle cx="659.73" cy="22.77" r="3.0" fill="#f00"/>
<circle cx="661.66" cy="22.68" r="3.0" fill="#f00"/>
<circle cx="663.59" cy="22.62" r="3.0" fill="#f00"/>
<circle cx="665.52" cy="22.59" r="3.0" fill="#f00"/>
<circle cx="672.27" cy="22.52" r="3.0" fill="#f00"/>
<polyline points="506.19,135.55 506.47,135.81 506.75,136.07 507.03,136.32 507.31,136.55 507.59,136.75 507.88,136.93 508.16,137.07 508.44,137.18 508.72,137.24 509.00,137.30 509.28,137.36 509.56,137.42 509.84,137.47 510.13,137.52 510.41,137.57 510.69,137.62 510.97,137.67 511.25,137.71 511.53,137.76 511.81,137.80 512.09,137.83 512.38,137.87 512.66,137.90 512.94,137.94 513.22,137.97 513.50,138.00 513.78,138.02 514.06,138.05 514.35,138.07 514.63,138.09 514.91,138.11 515.19,138.12 515.47,138.14 515.75,138.15 516.03,138.16 516.31,138.17 516.60,138.17 516.88,138.18 517.16,138.18 517.44,138.18 517.72,138.18 518.00,138.18 518.28,138.18 518.56,138.18 518.85,138.18 519.13,138.17 519.41,138.17 519.69,138.17 519.97,138.17 520.25,138.17 520.53,138.16 520.82,138.16 521.10,138.16 521.38,138.15 521.66,138.15 521.94,138.14 522.22,138.14 522.50,138.14 522.78,138.13 523.07,138.13 523.35,138.12 523.63,138.12 523.91,138.11 524.19,138.10 524.47,138.10 524.75,138.09 525.03,138.08 525.32,138.08 525.60,138.07 525.88,138.06 526.16,138.06 526.44,138.05 526.72,138.04 527.00,138.03 527.28,138.02 527.57,138.01 527.85,138.01 528.13,138.00 528.41,137.99 528.69,137.98 528.97,137.97 529.25,137.96 529.54,137.94 529.82,137.93 530.10,137.91 530.38,137.88 530.66,137.86 530.94,137.83 531.22,137.80 531.50,137.77 531.79,137.73 532.07,137.69 532.35,137.65 532.63,137.60 532.91,137.56 533.19,137.51 533.47,137.46 533.75,137.40 534.04,137.35 534.32,137.29 534.60,137.23 534.88,137.17 535.16,137.09 535.44,137.00 535.72,136.90 536.01,136.79 536.29,136.67 536.57,136.53 536.85,136.38 537.13,136.22 537.41,136.05 537.69,135.87 537.97,135.67 538.26,135.41 538.54,135.10 538.82,134.74 539.10,134.35 539.38,133.94 539.66,133.52 539.94,133.09 540.22,132.67 540.51,132.27 540.79,131.88 541.07,131.49 541.35,131.09 541.63,130.69 541.91,130.28 542.19,129.87 542.48,129.47 542.76,129.07 543.04,128.68 543.32,128.30 543.60,127.93 543.88,127.56 544.16,127.18 544.44,126.79 544.73,126.40 545.01,126.01 545.29,125.65 545.57,125.31 545.85,125.02 546.13,124.77 546.41,124.59 546.69,124.46 546.98,124.35 547.26,124.24 547.54,124.13 547.82,124.03 548.10,123.94 548.38,123.85 548.66,123.77 548.95,123.70 549.23,123.63 549.51,123.58 549.79,123.53 550.07,123.50 550.35,123.47 550.63,123.46 550.91,123.45 551.20,123.47 551.48,123.53 551.76,123.61 552.04,123.72 552.32,123.85 552.60,124.00 552.88,124.16 553.16,124.33 553.45,124.50 553.73,124.68 554.01,124.87 554.29,125.10 554.57,125.37 554.85,125.68 555.13,126.00 555.41,126.35 555.70,126.69 555.98,127.03 556.26,127.36 556.54,127.67 556.82,127.95 557.10,128.23 557.38,128.51 557.67,128.79 557.95,129.07 558.23,129.34 558.51,129.60 558.79,129.86 559.07,130.09 559.35,130.32 559.63,130.52 559.92,130.71 560.20,130.89 560.48,131.07 560.76,131.24 561.04,131.40 561.32,131.56 561.60,131.72 561.88,131.86 562.17,132.01 562.45,132.14 562.73,132.27 563.01,132.39 563.29,132.51 563.57,132.62 563.85,132.73 564.14,132.82 564.42,132.92 564.70,133.01 564.98,133.09 565.26,133.18 565.54,133.26 565.82,133.34 566.10,133.41 566.39,133.49 566.67,133.56 566.95,133.63 567.23,133.70 567.51,133.76 567.79,133.83 568.07,133.89 568.35,133.95 568.64,134.02 568.92,134.08 569.20,134.14 569.48,134.20 569.76,134.26 570.04,134.32 570.32,134.37 570.61,134.43 570.89,134.48 571.17,134.53 571.45,134.58 571.73,134.63 572.01,134.68 572.29,134.73 572.57,134.78 572.86,134.82 573.14,134.87 573.42,134.92 573.70,134.97 573.98,135.01 574.26,135.06 574.54,135.12 574.82,135.17 575.11,135.22 575.39,135.28 575.67,135.34 575.95,135.40 576.23,135.47 576.51,135.54 576.79,135.61 577.08,135.69 577.36,135.77 577.64,135.84 577.92,135.92 578.20,136.00 578.48,136.08 578.76,136.16 579.04,136.23 579.33,136.31 579.61,136.38 579.89,136.44 580.17,136.52 580.45,136.59 580.73,136.67 581.01,136.75 581.29,136.83 581.58,136.91 581.86,136.98 582.14,137.06 582.42,137.12 582.70,137.18 582.98,137.24 583.26,137.28 583.54,137.32 583.83,137.34 584.11,137.36 584.39,137.36 584.67,137.35 584.95,137.34 585.23,137.33 585.51,137.32 585.80,137.30 586.08,137.28 586.36,137.25 586.64,137.23 586.92,137.20 587.20,137.16 587.48,137.08 587.76,136.96 588.05,136.81 588.33,136.62 588.61,136.40 588.89,136.15 589.17,135.87 589.45,135.49 589.73,134.92 590.01,134.16 590.30,133.24 590.58,132.17 590.86,130.99 591.14,129.69 591.42,128.31 591.70,126.86 591.98,125.26 592.27,123.17 592.55,120.69 592.83,117.99 593.11,115.22 593.39,112.55 593.67,110.05 593.95,107.52 594.23,104.97 594.52,102.41 594.80,99.87 595.08,97.39 595.36,94.99 595.64,92.71 595.92,90.56 596.20,88.56 596.48,86.65 596.77,84.79 597.05,82.90 597.33,80.95 597.61,78.88 597.89,76.73 598.17,74.52 598.45,72.29 598.74,70.04 599.02,67.81 599.30,65.62 599.58,63.45 599.86,61.27 600.14,59.11 600.42,56.96 600.70,54.83 600.99,52.74 601.27,50.70 601.55,48.55 601.83,46.31 602.11,44.12 602.39,42.08 602.67,40.32 602.95,38.97 603.24,37.99 603.52,37.10 603.80,36.30 604.08,35.59 604.36,34.95 604.64,34.39 604.92,33.91 605.21,33.49 605.49,33.14 605.77,32.82 606.05,32.52 606.33,32.26 606.61,32.01 606.89,31.79 607.17,31.58 607.46,31.39 607.74,31.20 608.02,31.03 608.30,30.86 608.58,30.70 608.86,30.54 609.14,30.39 609.42,30.24 609.71,30.09 609.99,29.96 610.27,29.82 610.55,29.70 610.83,29.58 611.11,29.47 611.39,29.36 611.67,29.26 611.96,29.17 612.24,29.08 612.52,29.01 612.80,28.93 613.08,28.87 613.36,28.80 613.64,28.74 613.93,28.68 614.21,28.62 614.49,28.57 614.77,28.51 615.05,28.46 615.33,28.42 615.61,28.37 615.89,28.32 616.18,28.28 616.46,28.24 616.74,28.19 617.02,28.15 617.30,28.11 617.58,28.07 617.86,28.02 618.14,27.98 618.43,27.94 618.71,27.90 618.99,27.85 619.27,27.80 619.55,27.76 619.83,27.71 620.11,27.66 620.40,27.61 620.68,27.56 620.96,27.51 621.24,27.46 621.52,27.40 621.80,27.35 622.08,27.30 622.36,27.25 622.65,27.19 622.93,27.14 623.21,27.09 623.49,27.04 623.77,26.99 624.05,26.93 624.33,26.88 624.61,26.83 624.90,26.78 625.18,26.73 625.46,26.68 625.74,26.63 626.02,26.59 626.30,26.54 626.58,26.49 626.87,26.45 627.15,26.40 627.43,26.36 627.71,26.31 627.99,26.27 628.27,26.23 628.55,26.19 628.83,26.16 629.12,26.12 629.40,26.08 629.68,26.05 629.96,26.01 630.24,25.98 630.52,25.94 630.80,25.91 631.08,25.88 631.37,25.84 631.65,25.81 631.93,25.78 632.21,25.75 632.49,25.72 632.77,25.69 633.05,25.66 633.34,25.63 633.62,25.60 633.90,25.57 634.18,25.54 634.46,25.51 634.74,25.48 635.02,25.45 635.30,25.43 635.59,25.40 635.87,25.37 636.15,25.34 636.43,25.31 636.71,25.28 636.99,25.25 637.27,25.22 637.55,25.19 637.84,25.16 638.12,25.13 638.40,25.10 638.68,25.07 638.96,25.04 639.24,25.01 639.52,24.98 639.80,24.94 640.09,24.91 640.37,24.88 640.65,24.84 640.93,24.81 641.21,24.77 641.49,24.73 641.77,24.70 642.06,24.66 642.34,24.62 642.62,24.58 642.90,24.54 643.18,24.50 643.46,24.46 643.74,24.42 644.02,24.38 644.31,24.34 644.59,24.30 644.87,24.26 645.15,24.22 645.43,24.18 645.71,24.14 645.99,24.10 646.27,24.06 646.56,24.02 646.84,23.98 647.12,23.94 647.40,23.90 647.68,23.86 647.96,23.83 648.24,23.79 648.53,23.75 648.81,23.72 649.09,23.68 649.37,23.65 649.65,23.61 649.93,23.58 650.21,23.55 650.49,23.52 650.78,23.49 651.06,23.46 651.34,23.43 651.62,23.41 651.90,23.38 652.18,23.36 652.46,23.33 652.74,23.31 653.03,23.28 653.31,23.26 653.59,23.24 653.87,23.21 654.15,23.19 654.43,23.16 654.71,23.14 655.00,23.12 655.28,23.09 655.56,23.07 655.84,23.05 656.12,23.02 656.40,23.00 656.68,22.98 656.96,22.96 657.25,22.94 657.53,22.92 657.81,22.90 658.09,22.88 658.37,22.86 658.65,22.84 658.93,22.82 659.21,22.80 659.50,22.78 659.78,22.77 660.06,22.75 660.34,22.74 660.62,22.72 660.90,22.71 661.18,22.70 661.47,22.69 661.75,22.67 662.03,22.66 662.31,22.65 662.59,22.65 662.87,22.64 663.15,22.63 663.43,22.63 663.72,22.62 664.00,22.62 664.28,22.61 664.56,22.61 664.84,22.60 665.12,22.60 665.40,22.59 665.68,22.59 665.97,22.59 666.25,22.58 666.53,22.58 666.81,22.57 667.09,22.57 667.37,22.57 667.65,22.56 667.93,22.56 668.22,22.56 668.50,22.55 668.78,22.55 669.06,22.55 669.34,22.54 669.62,22.54 669.90,22.54 670.19,22.54 670.47,22.53 670.75,22.53 671.03,22.53 671.31,22.53 671.59,22.52 671.87,22.52 672.15,22.52 672.44,22.52 672.72,22.52 673.00,22.52 673.28,22.52 673.56,22.52 673.84,22.52 674.12,22.52 674.40,22.52" fill="none" stroke="#00f" stroke-width="1.5" stroke-linejoin="round" stroke-linecap="square"/>
</g>
<rect x="497.75" y="16.60" width="184.55" height="127.60" fill="none" stroke="#444" stroke-width="1"/>
<line x1="506.30" y1="144.20" x2="506.30" y2="147.00" stroke="#333" stroke-width="0.9"/>
<text x="506.30" y="155.90" text-anchor="middle" font-size="8.2" textLength="15.27" lengthAdjust="spacingAndGlyphs" >400</text>
<line x1="534.43" y1="144.20" x2="534.43" y2="147.00" stroke="#333" stroke-width="0.9"/>
<text x="534.43" y="155.90" text-anchor="middle" font-size="8.2" textLength="15.27" lengthAdjust="spacingAndGlyphs" >500</text>
<line x1="562.56" y1="144.20" x2="562.56" y2="147.00" stroke="#333" stroke-width="0.9"/>
<text x="562.56" y="155.90" text-anchor="middle" font-size="8.2" textLength="15.27" lengthAdjust="spacingAndGlyphs" >600</text>
<line x1="590.69" y1="144.20" x2="590.69" y2="147.00" stroke="#333" stroke-width="0.9"/>
<text x="590.69" y="155.90" text-anchor="middle" font-size="8.2" textLength="15.27" lengthAdjust="spacingAndGlyphs" >700</text>
<line x1="618.82" y1="144.20" x2="618.82" y2="147.00" stroke="#333" stroke-width="0.9"/>
<text x="618.82" y="155.90" text-anchor="middle" font-size="8.2" textLength="15.27" lengthAdjust="spacingAndGlyphs" >800</text>
<line x1="646.95" y1="144.20" x2="646.95" y2="147.00" stroke="#333" stroke-width="0.9"/>
<text x="646.95" y="155.90" text-anchor="middle" font-size="8.2" textLength="15.27" lengthAdjust="spacingAndGlyphs" >900</text>
<line x1="675.08" y1="144.20" x2="675.08" y2="147.00" stroke="#333" stroke-width="0.9"/>
<text x="675.08" y="155.90" text-anchor="middle" font-size="8.2" textLength="20.36" lengthAdjust="spacingAndGlyphs" >1000</text>
<line x1="494.95" y1="126.70" x2="497.75" y2="126.70" stroke="#333" stroke-width="0.9"/>
<text x="491.75" y="129.60" text-anchor="end" font-size="8.2" textLength="12.72" lengthAdjust="spacingAndGlyphs" >0.1</text>
<line x1="494.95" y1="105.04" x2="497.75" y2="105.04" stroke="#333" stroke-width="0.9"/>
<text x="491.75" y="107.94" text-anchor="end" font-size="8.2" textLength="12.72" lengthAdjust="spacingAndGlyphs" >0.2</text>
<line x1="494.95" y1="83.38" x2="497.75" y2="83.38" stroke="#333" stroke-width="0.9"/>
<text x="491.75" y="86.28" text-anchor="end" font-size="8.2" textLength="12.72" lengthAdjust="spacingAndGlyphs" >0.3</text>
<line x1="494.95" y1="61.72" x2="497.75" y2="61.72" stroke="#333" stroke-width="0.9"/>
<text x="491.75" y="64.62" text-anchor="end" font-size="8.2" textLength="12.72" lengthAdjust="spacingAndGlyphs" >0.4</text>
<line x1="494.95" y1="40.06" x2="497.75" y2="40.06" stroke="#333" stroke-width="0.9"/>
<text x="491.75" y="42.96" text-anchor="end" font-size="8.2" textLength="12.72" lengthAdjust="spacingAndGlyphs" >0.5</text>
<line x1="494.95" y1="18.40" x2="497.75" y2="18.40" stroke="#333" stroke-width="0.9"/>
<text x="491.75" y="21.30" text-anchor="end" font-size="8.2" textLength="12.72" lengthAdjust="spacingAndGlyphs" >0.6</text>
<text x="590.02" y="167.40" text-anchor="middle" font-size="8.2" textLength="63.53" lengthAdjust="spacingAndGlyphs" >Wavelength/nm</text>
<text transform="translate(474.60,80.40) rotate(-90)" x="0" y="0" text-anchor="middle" font-size="8.2" textLength="47.27" lengthAdjust="spacingAndGlyphs">Reflectance</text>
<text x="575.80" y="10.85" font-size="10.3" font-weight="normal" style="stroke-width:0.5px" textLength="26.20" lengthAdjust="spacingAndGlyphs">R-UVE</text>
<text x="499.40" y="10.50" font-size="14" font-weight="bold">c</text>
<rect x="501.75" y="20.60" width="96.24" height="26.00" rx="1.6" fill="#fff" fill-opacity="0.8" stroke="#ccc" stroke-width="0.8"/>
<line x1="504.15" y1="27.20" x2="521.65" y2="27.20" stroke="#00f" stroke-width="1.5"/>
<circle cx="512.95" cy="39.80" r="3.0" fill="#f00"/>
<text x="528.15" y="30.20" text-anchor="start" font-size="8.2" textLength="5.56" lengthAdjust="spacingAndGlyphs" >R</text>
<text x="528.15" y="41.80" text-anchor="start" font-size="8.2" textLength="66.24" lengthAdjust="spacingAndGlyphs" >Feature band 49</text>
<clipPath id="clipd"><rect x="34.25" y="190.40" width="184.55" height="127.20"/></clipPath>
<g clip-path="url(#clipd)">
<circle cx="50.52" cy="196.95" r="3.0" fill="#f00"/>
<circle cx="58.70" cy="196.64" r="3.0" fill="#f00"/>
<circle cx="60.06" cy="196.76" r="3.0" fill="#f00"/>
<circle cx="61.43" cy="196.89" r="3.0" fill="#f00"/>
<circle cx="62.79" cy="197.06" r="3.0" fill="#f00"/>
<circle cx="64.15" cy="197.24" r="3.0" fill="#f00"/>
<circle cx="65.51" cy="197.45" r="3.0" fill="#f00"/>
<circle cx="66.87" cy="197.88" r="3.0" fill="#f00"/>
<circle cx="68.23" cy="198.59" r="3.0" fill="#f00"/>
<circle cx="69.59" cy="199.55" r="3.0" fill="#f00"/>
<circle cx="70.96" cy="200.70" r="3.0" fill="#f00"/>
<circle cx="72.32" cy="202.54" r="3.0" fill="#f00"/>
<circle cx="78.51" cy="224.37" r="3.0" fill="#f00"/>
<circle cx="92.99" cy="228.60" r="3.0" fill="#f00"/>
<circle cx="94.82" cy="224.38" r="3.0" fill="#f00"/>
<circle cx="101.21" cy="215.11" r="3.0" fill="#f00"/>
<circle cx="102.59" cy="213.93" r="3.0" fill="#f00"/>
<circle cx="106.64" cy="211.02" r="3.0" fill="#f00"/>
<circle cx="108.04" cy="210.17" r="3.0" fill="#f00"/>
<circle cx="109.45" cy="209.36" r="3.0" fill="#f00"/>
<circle cx="110.86" cy="208.51" r="3.0" fill="#f00"/>
<circle cx="113.67" cy="206.15" r="3.0" fill="#f00"/>
<circle cx="117.61" cy="202.06" r="3.0" fill="#f00"/>
<circle cx="118.90" cy="200.75" r="3.0" fill="#f00"/>
<circle cx="120.20" cy="200.05" r="3.0" fill="#f00"/>
<circle cx="121.49" cy="200.14" r="3.0" fill="#f00"/>
<circle cx="122.78" cy="200.55" r="3.0" fill="#f00"/>
<circle cx="124.08" cy="201.90" r="3.0" fill="#f00"/>
<circle cx="133.21" cy="282.15" r="3.0" fill="#f00"/>
<circle cx="140.39" cy="307.51" r="3.0" fill="#f00"/>
<circle cx="147.99" cy="309.94" r="3.0" fill="#f00"/>
<circle cx="157.55" cy="310.63" r="3.0" fill="#f00"/>
<circle cx="159.26" cy="310.75" r="3.0" fill="#f00"/>
<circle cx="160.96" cy="310.87" r="3.0" fill="#f00"/>
<circle cx="162.67" cy="310.98" r="3.0" fill="#f00"/>
<circle cx="164.37" cy="311.08" r="3.0" fill="#f00"/>
<circle cx="166.08" cy="311.16" r="3.0" fill="#f00"/>
<circle cx="167.78" cy="311.24" r="3.0" fill="#f00"/>
<circle cx="169.49" cy="311.31" r="3.0" fill="#f00"/>
<circle cx="171.19" cy="311.37" r="3.0" fill="#f00"/>
<circle cx="172.90" cy="311.44" r="3.0" fill="#f00"/>
<circle cx="174.61" cy="311.51" r="3.0" fill="#f00"/>
<circle cx="176.31" cy="311.58" r="3.0" fill="#f00"/>
<circle cx="178.02" cy="311.66" r="3.0" fill="#f00"/>
<circle cx="179.72" cy="311.75" r="3.0" fill="#f00"/>
<circle cx="181.43" cy="311.84" r="3.0" fill="#f00"/>
<circle cx="183.13" cy="311.93" r="3.0" fill="#f00"/>
<circle cx="184.84" cy="312.02" r="3.0" fill="#f00"/>
<circle cx="191.87" cy="312.27" r="3.0" fill="#f00"/>
<circle cx="193.64" cy="312.32" r="3.0" fill="#f00"/>
<circle cx="195.41" cy="312.36" r="3.0" fill="#f00"/>
<circle cx="197.19" cy="312.40" r="3.0" fill="#f00"/>
<circle cx="198.96" cy="312.42" r="3.0" fill="#f00"/>
<circle cx="200.73" cy="312.43" r="3.0" fill="#f00"/>
<circle cx="202.50" cy="312.44" r="3.0" fill="#f00"/>
<circle cx="204.28" cy="312.45" r="3.0" fill="#f00"/>
<circle cx="206.05" cy="312.46" r="3.0" fill="#f00"/>
<circle cx="207.82" cy="312.46" r="3.0" fill="#f00"/>
<circle cx="209.59" cy="312.47" r="3.0" fill="#f00"/>
<polyline points="42.39,207.05 42.67,206.09 42.95,205.12 43.23,204.19 43.51,203.30 43.79,202.49 44.08,201.78 44.36,201.20 44.64,200.78 44.92,200.51 45.20,200.26 45.48,200.01 45.76,199.78 46.04,199.55 46.33,199.33 46.61,199.11 46.89,198.90 47.17,198.70 47.45,198.51 47.73,198.33 48.01,198.15 48.29,197.98 48.58,197.82 48.86,197.67 49.14,197.53 49.42,197.39 49.70,197.27 49.98,197.15 50.26,197.04 50.55,196.94 50.83,196.85 51.11,196.77 51.39,196.70 51.67,196.63 51.95,196.58 52.23,196.53 52.51,196.50 52.80,196.47 53.08,196.45 53.36,196.44 53.64,196.44 53.92,196.44 54.20,196.45 54.48,196.45 54.76,196.45 55.05,196.46 55.33,196.47 55.61,196.48 55.89,196.49 56.17,196.50 56.45,196.51 56.73,196.52 57.02,196.53 57.30,196.55 57.58,196.57 57.86,196.58 58.14,196.60 58.42,196.62 58.70,196.64 58.98,196.66 59.27,196.69 59.55,196.71 59.83,196.73 60.11,196.76 60.39,196.79 60.67,196.81 60.95,196.84 61.23,196.87 61.52,196.90 61.80,196.94 62.08,196.97 62.36,197.00 62.64,197.04 62.92,197.07 63.20,197.11 63.48,197.15 63.77,197.19 64.05,197.23 64.33,197.27 64.61,197.31 64.89,197.35 65.17,197.40 65.45,197.44 65.74,197.50 66.02,197.58 66.30,197.66 66.58,197.76 66.86,197.87 67.14,198.00 67.42,198.13 67.70,198.28 67.99,198.44 68.27,198.61 68.55,198.79 68.83,198.98 69.11,199.18 69.39,199.39 69.67,199.61 69.95,199.83 70.24,200.07 70.52,200.31 70.80,200.56 71.08,200.82 71.36,201.13 71.64,201.49 71.92,201.90 72.21,202.34 72.49,202.84 72.77,203.37 73.05,203.94 73.33,204.55 73.61,205.19 73.89,205.87 74.17,206.61 74.46,207.54 74.74,208.65 75.02,209.86 75.30,211.16 75.58,212.50 75.86,213.83 76.14,215.14 76.42,216.39 76.71,217.56 76.99,218.65 77.27,219.74 77.55,220.82 77.83,221.89 78.11,222.94 78.39,223.97 78.68,224.97 78.96,225.93 79.24,226.86 79.52,227.75 79.80,228.59 80.08,229.40 80.36,230.23 80.64,231.08 80.93,231.92 81.21,232.72 81.49,233.47 81.77,234.14 82.05,234.73 82.33,235.21 82.61,235.57 82.89,235.81 83.18,236.04 83.46,236.25 83.74,236.45 84.02,236.64 84.30,236.82 84.58,236.98 84.86,237.13 85.15,237.27 85.43,237.39 85.71,237.49 85.99,237.57 86.27,237.64 86.55,237.69 86.83,237.72 87.11,237.73 87.40,237.69 87.68,237.59 87.96,237.43 88.24,237.23 88.52,236.99 88.80,236.71 89.08,236.40 89.36,236.08 89.65,235.74 89.93,235.39 90.21,235.03 90.49,234.57 90.77,234.03 91.05,233.41 91.33,232.74 91.61,232.03 91.90,231.29 92.18,230.56 92.46,229.84 92.74,229.17 93.02,228.53 93.30,227.89 93.58,227.24 93.87,226.59 94.15,225.93 94.43,225.28 94.71,224.64 94.99,224.01 95.27,223.41 95.55,222.85 95.83,222.32 96.12,221.83 96.40,221.35 96.68,220.89 96.96,220.43 97.24,219.98 97.52,219.55 97.80,219.12 98.08,218.71 98.37,218.32 98.65,217.93 98.93,217.56 99.21,217.21 99.49,216.87 99.77,216.54 100.05,216.24 100.34,215.95 100.62,215.67 100.90,215.40 101.18,215.13 101.46,214.88 101.74,214.63 102.02,214.39 102.30,214.16 102.59,213.93 102.87,213.71 103.15,213.49 103.43,213.28 103.71,213.07 103.99,212.86 104.27,212.66 104.55,212.46 104.84,212.27 105.12,212.07 105.40,211.87 105.68,211.68 105.96,211.48 106.24,211.29 106.52,211.10 106.81,210.91 107.09,210.74 107.37,210.56 107.65,210.40 107.93,210.23 108.21,210.07 108.49,209.91 108.77,209.75 109.06,209.59 109.34,209.43 109.62,209.27 109.90,209.10 110.18,208.93 110.46,208.76 110.74,208.58 111.02,208.40 111.31,208.21 111.59,208.01 111.87,207.80 112.15,207.57 112.43,207.34 112.71,207.09 112.99,206.82 113.28,206.55 113.56,206.26 113.84,205.97 114.12,205.68 114.40,205.38 114.68,205.09 114.96,204.80 115.24,204.51 115.53,204.23 115.81,203.97 116.09,203.70 116.37,203.43 116.65,203.13 116.93,202.82 117.21,202.51 117.49,202.19 117.78,201.88 118.06,201.57 118.34,201.27 118.62,201.00 118.90,200.75 119.18,200.52 119.46,200.33 119.74,200.19 120.03,200.08 120.31,200.03 120.59,200.03 120.87,200.05 121.15,200.08 121.43,200.13 121.71,200.19 122.00,200.27 122.28,200.36 122.56,200.46 122.84,200.57 123.12,200.70 123.40,200.86 123.68,201.19 123.96,201.66 124.25,202.29 124.53,203.03 124.81,203.89 125.09,204.84 125.37,205.88 125.65,207.25 125.93,209.27 126.21,211.80 126.50,214.70 126.78,217.84 127.06,221.11 127.34,224.42 127.62,227.72 127.90,230.93 128.18,234.25 128.47,238.25 128.75,242.58 129.03,246.88 129.31,250.90 129.59,254.48 129.87,257.59 130.15,260.54 130.43,263.34 130.72,265.98 131.00,268.46 131.28,270.76 131.56,272.88 131.84,274.82 132.12,276.57 132.40,278.14 132.68,279.58 132.97,280.96 133.25,282.31 133.53,283.67 133.81,285.06 134.09,286.47 134.37,287.87 134.65,289.24 134.94,290.58 135.22,291.88 135.50,293.12 135.78,294.31 136.06,295.48 136.34,296.61 136.62,297.71 136.90,298.77 137.19,299.79 137.47,300.77 137.75,301.77 138.03,302.79 138.31,303.78 138.59,304.67 138.87,305.43 139.15,306.00 139.44,306.41 139.72,306.78 140.00,307.11 140.28,307.41 140.56,307.66 140.84,307.89 141.12,308.09 141.41,308.25 141.69,308.40 141.97,308.53 142.25,308.64 142.53,308.75 142.81,308.85 143.09,308.93 143.37,309.02 143.66,309.09 143.94,309.16 144.22,309.23 144.50,309.30 144.78,309.36 145.06,309.43 145.34,309.49 145.62,309.54 145.91,309.60 146.19,309.65 146.47,309.70 146.75,309.75 147.03,309.80 147.31,309.84 147.59,309.89 147.87,309.92 148.16,309.96 148.44,309.99 148.72,310.02 149.00,310.05 149.28,310.08 149.56,310.10 149.84,310.13 150.13,310.15 150.41,310.17 150.69,310.19 150.97,310.21 151.25,310.23 151.53,310.25 151.81,310.27 152.09,310.29 152.38,310.30 152.66,310.32 152.94,310.34 153.22,310.35 153.50,310.37 153.78,310.38 154.06,310.40 154.34,310.42 154.63,310.43 154.91,310.45 155.19,310.47 155.47,310.48 155.75,310.50 156.03,310.52 156.31,310.54 156.60,310.56 156.88,310.58 157.16,310.60 157.44,310.62 157.72,310.64 158.00,310.66 158.28,310.68 158.56,310.70 158.85,310.72 159.13,310.74 159.41,310.76 159.69,310.78 159.97,310.80 160.25,310.82 160.53,310.84 160.81,310.86 161.10,310.87 161.38,310.89 161.66,310.91 161.94,310.93 162.22,310.95 162.50,310.97 162.78,310.98 163.07,311.00 163.35,311.02 163.63,311.04 163.91,311.05 164.19,311.07 164.47,311.08 164.75,311.10 165.03,311.11 165.32,311.13 165.60,311.14 165.88,311.15 166.16,311.17 166.44,311.18 166.72,311.19 167.00,311.20 167.28,311.22 167.57,311.23 167.85,311.24 168.13,311.25 168.41,311.26 168.69,311.28 168.97,311.29 169.25,311.30 169.54,311.31 169.82,311.32 170.10,311.33 170.38,311.34 170.66,311.35 170.94,311.36 171.22,311.38 171.50,311.39 171.79,311.40 172.07,311.41 172.35,311.42 172.63,311.43 172.91,311.44 173.19,311.45 173.47,311.46 173.75,311.47 174.04,311.48 174.32,311.50 174.60,311.51 174.88,311.52 175.16,311.53 175.44,311.54 175.72,311.55 176.00,311.57 176.29,311.58 176.57,311.59 176.85,311.60 177.13,311.62 177.41,311.63 177.69,311.64 177.97,311.66 178.26,311.67 178.54,311.69 178.82,311.70 179.10,311.72 179.38,311.73 179.66,311.75 179.94,311.76 180.22,311.78 180.51,311.79 180.79,311.81 181.07,311.82 181.35,311.84 181.63,311.85 181.91,311.87 182.19,311.88 182.47,311.90 182.76,311.91 183.04,311.93 183.32,311.94 183.60,311.95 183.88,311.97 184.16,311.98 184.44,312.00 184.73,312.01 185.01,312.02 185.29,312.04 185.57,312.05 185.85,312.06 186.13,312.07 186.41,312.09 186.69,312.10 186.98,312.11 187.26,312.12 187.54,312.13 187.82,312.14 188.10,312.15 188.38,312.16 188.66,312.17 188.94,312.17 189.23,312.18 189.51,312.19 189.79,312.20 190.07,312.21 190.35,312.22 190.63,312.23 190.91,312.24 191.20,312.25 191.48,312.25 191.76,312.26 192.04,312.27 192.32,312.28 192.60,312.29 192.88,312.30 193.16,312.30 193.45,312.31 193.73,312.32 194.01,312.33 194.29,312.33 194.57,312.34 194.85,312.35 195.13,312.35 195.41,312.36 195.70,312.37 195.98,312.37 196.26,312.38 196.54,312.38 196.82,312.39 197.10,312.39 197.38,312.40 197.67,312.40 197.95,312.41 198.23,312.41 198.51,312.41 198.79,312.42 199.07,312.42 199.35,312.42 199.63,312.43 199.92,312.43 200.20,312.43 200.48,312.43 200.76,312.43 201.04,312.43 201.32,312.44 201.60,312.44 201.88,312.44 202.17,312.44 202.45,312.44 202.73,312.44 203.01,312.44 203.29,312.45 203.57,312.45 203.85,312.45 204.13,312.45 204.42,312.45 204.70,312.45 204.98,312.45 205.26,312.45 205.54,312.46 205.82,312.46 206.10,312.46 206.39,312.46 206.67,312.46 206.95,312.46 207.23,312.46 207.51,312.46 207.79,312.46 208.07,312.46 208.35,312.46 208.64,312.46 208.92,312.46 209.20,312.46 209.48,312.47 209.76,312.47 210.04,312.47 210.32,312.47 210.60,312.47" fill="none" stroke="#00f" stroke-width="1.5" stroke-linejoin="round" stroke-linecap="square"/>
</g>
<rect x="34.25" y="190.40" width="184.55" height="127.20" fill="none" stroke="#444" stroke-width="1"/>
<line x1="42.50" y1="317.60" x2="42.50" y2="320.40" stroke="#333" stroke-width="0.9"/>
<text x="42.50" y="329.30" text-anchor="middle" font-size="8.2" textLength="15.27" lengthAdjust="spacingAndGlyphs" >400</text>
<line x1="70.63" y1="317.60" x2="70.63" y2="320.40" stroke="#333" stroke-width="0.9"/>
<text x="70.63" y="329.30" text-anchor="middle" font-size="8.2" textLength="15.27" lengthAdjust="spacingAndGlyphs" >500</text>
<line x1="98.76" y1="317.60" x2="98.76" y2="320.40" stroke="#333" stroke-width="0.9"/>
<text x="98.76" y="329.30" text-anchor="middle" font-size="8.2" textLength="15.27" lengthAdjust="spacingAndGlyphs" >600</text>
<line x1="126.89" y1="317.60" x2="126.89" y2="320.40" stroke="#333" stroke-width="0.9"/>
<text x="126.89" y="329.30" text-anchor="middle" font-size="8.2" textLength="15.27" lengthAdjust="spacingAndGlyphs" >700</text>
<line x1="155.02" y1="317.60" x2="155.02" y2="320.40" stroke="#333" stroke-width="0.9"/>
<text x="155.02" y="329.30" text-anchor="middle" font-size="8.2" textLength="15.27" lengthAdjust="spacingAndGlyphs" >800</text>
<line x1="183.15" y1="317.60" x2="183.15" y2="320.40" stroke="#333" stroke-width="0.9"/>
<text x="183.15" y="329.30" text-anchor="middle" font-size="8.2" textLength="15.27" lengthAdjust="spacingAndGlyphs" >900</text>
<line x1="211.28" y1="317.60" x2="211.28" y2="320.40" stroke="#333" stroke-width="0.9"/>
<text x="211.28" y="329.30" text-anchor="middle" font-size="8.2" textLength="20.36" lengthAdjust="spacingAndGlyphs" >1000</text>
<line x1="31.45" y1="314.45" x2="34.25" y2="314.45" stroke="#333" stroke-width="0.9"/>
<text x="28.25" y="317.35" text-anchor="end" font-size="8.2" textLength="12.72" lengthAdjust="spacingAndGlyphs" >0.5</text>
<line x1="31.45" y1="291.38" x2="34.25" y2="291.38" stroke="#333" stroke-width="0.9"/>
<text x="28.25" y="294.28" text-anchor="end" font-size="8.2" textLength="12.72" lengthAdjust="spacingAndGlyphs" >1.0</text>
<line x1="31.45" y1="268.31" x2="34.25" y2="268.31" stroke="#333" stroke-width="0.9"/>
<text x="28.25" y="271.21" text-anchor="end" font-size="8.2" textLength="12.72" lengthAdjust="spacingAndGlyphs" >1.5</text>
<line x1="31.45" y1="245.24" x2="34.25" y2="245.24" stroke="#333" stroke-width="0.9"/>
<text x="28.25" y="248.14" text-anchor="end" font-size="8.2" textLength="12.72" lengthAdjust="spacingAndGlyphs" >2.0</text>
<line x1="31.45" y1="222.17" x2="34.25" y2="222.17" stroke="#333" stroke-width="0.9"/>
<text x="28.25" y="225.07" text-anchor="end" font-size="8.2" textLength="12.72" lengthAdjust="spacingAndGlyphs" >2.5</text>
<line x1="31.45" y1="199.10" x2="34.25" y2="199.10" stroke="#333" stroke-width="0.9"/>
<text x="28.25" y="202.00" text-anchor="end" font-size="8.2" textLength="12.72" lengthAdjust="spacingAndGlyphs" >3.0</text>
<text x="126.53" y="340.80" text-anchor="middle" font-size="8.2" textLength="63.53" lengthAdjust="spacingAndGlyphs" >Wavelength/nm</text>
<text transform="translate(11.10,254.00) rotate(-90)" x="0" y="0" text-anchor="middle" font-size="8.2" textLength="47.27" lengthAdjust="spacingAndGlyphs">Reflectance</text>
<text x="103.80" y="185.15" font-size="10.3" font-weight="normal" style="stroke-width:0.5px" textLength="42.40" lengthAdjust="spacingAndGlyphs">RLR-CARS</text>
<text x="35.80" y="185.70" font-size="14" font-weight="bold">d</text>
<rect x="38.25" y="287.60" width="96.24" height="26.00" rx="1.6" fill="#fff" fill-opacity="0.8" stroke="#ccc" stroke-width="0.8"/>
<line x1="40.65" y1="294.20" x2="58.15" y2="294.20" stroke="#00f" stroke-width="1.5"/>
<circle cx="49.45" cy="306.80" r="3.0" fill="#f00"/>
<text x="64.65" y="297.20" text-anchor="start" font-size="8.2" textLength="15.57" lengthAdjust="spacingAndGlyphs" >RLR</text>
<text x="64.65" y="308.80" text-anchor="start" font-size="8.2" textLength="66.24" lengthAdjust="spacingAndGlyphs" >Feature band 45</text>
<clipPath id="clipe"><rect x="265.95" y="190.40" width="184.55" height="127.20"/></clipPath>
<g clip-path="url(#clipe)">
<circle cx="274.39" cy="207.05" r="3.0" fill="#f00"/>
<circle cx="274.78" cy="205.70" r="3.0" fill="#f00"/>
<circle cx="275.91" cy="202.19" r="3.0" fill="#f00"/>
<circle cx="277.03" cy="200.41" r="3.0" fill="#f00"/>
<circle cx="278.16" cy="199.46" r="3.0" fill="#f00"/>
<circle cx="279.28" cy="198.63" r="3.0" fill="#f00"/>
<circle cx="280.41" cy="197.92" r="3.0" fill="#f00"/>
<circle cx="281.53" cy="197.34" r="3.0" fill="#f00"/>
<circle cx="282.66" cy="196.91" r="3.0" fill="#f00"/>
<circle cx="283.78" cy="196.61" r="3.0" fill="#f00"/>
<circle cx="284.91" cy="196.46" r="3.0" fill="#f00"/>
<circle cx="286.03" cy="196.44" r="3.0" fill="#f00"/>
<circle cx="287.16" cy="196.46" r="3.0" fill="#f00"/>
<circle cx="288.28" cy="196.50" r="3.0" fill="#f00"/>
<circle cx="289.41" cy="196.56" r="3.0" fill="#f00"/>
<circle cx="290.53" cy="196.63" r="3.0" fill="#f00"/>
<circle cx="291.66" cy="196.72" r="3.0" fill="#f00"/>
<circle cx="292.78" cy="196.83" r="3.0" fill="#f00"/>
<circle cx="293.91" cy="196.95" r="3.0" fill="#f00"/>
<circle cx="295.03" cy="197.09" r="3.0" fill="#f00"/>
<circle cx="296.16" cy="197.24" r="3.0" fill="#f00"/>
<circle cx="297.29" cy="197.41" r="3.0" fill="#f00"/>
<circle cx="298.41" cy="197.70" r="3.0" fill="#f00"/>
<circle cx="299.54" cy="198.19" r="3.0" fill="#f00"/>
<circle cx="300.66" cy="198.87" r="3.0" fill="#f00"/>
<circle cx="301.79" cy="199.70" r="3.0" fill="#f00"/>
<circle cx="302.91" cy="200.66" r="3.0" fill="#f00"/>
<circle cx="304.04" cy="202.07" r="3.0" fill="#f00"/>
<circle cx="305.16" cy="204.18" r="3.0" fill="#f00"/>
<circle cx="306.29" cy="206.96" r="3.0" fill="#f00"/>
<circle cx="307.41" cy="211.69" r="3.0" fill="#f00"/>
<circle cx="308.54" cy="216.87" r="3.0" fill="#f00"/>
<circle cx="309.66" cy="221.25" r="3.0" fill="#f00"/>
<circle cx="310.79" cy="225.36" r="3.0" fill="#f00"/>
<circle cx="311.91" cy="228.91" r="3.0" fill="#f00"/>
<circle cx="313.04" cy="232.24" r="3.0" fill="#f00"/>
<circle cx="314.16" cy="234.94" r="3.0" fill="#f00"/>
<circle cx="315.29" cy="236.12" r="3.0" fill="#f00"/>
<circle cx="316.41" cy="236.89" r="3.0" fill="#f00"/>
<circle cx="317.54" cy="237.43" r="3.0" fill="#f00"/>
<circle cx="318.66" cy="237.70" r="3.0" fill="#f00"/>
<circle cx="319.79" cy="237.53" r="3.0" fill="#f00"/>
<circle cx="323.73" cy="231.74" r="3.0" fill="#f00"/>
<circle cx="326.26" cy="225.67" r="3.0" fill="#f00"/>
<circle cx="327.38" cy="223.18" r="3.0" fill="#f00"/>
<circle cx="328.51" cy="221.17" r="3.0" fill="#f00"/>
<circle cx="329.63" cy="219.38" r="3.0" fill="#f00"/>
<circle cx="330.76" cy="217.78" r="3.0" fill="#f00"/>
<circle cx="331.89" cy="216.42" r="3.0" fill="#f00"/>
<circle cx="333.01" cy="215.29" r="3.0" fill="#f00"/>
<circle cx="334.14" cy="214.30" r="3.0" fill="#f00"/>
<circle cx="335.26" cy="213.40" r="3.0" fill="#f00"/>
<circle cx="336.39" cy="212.58" r="3.0" fill="#f00"/>
<circle cx="337.51" cy="211.79" r="3.0" fill="#f00"/>
<circle cx="338.64" cy="211.02" r="3.0" fill="#f00"/>
<circle cx="339.76" cy="210.33" r="3.0" fill="#f00"/>
<circle cx="340.89" cy="209.69" r="3.0" fill="#f00"/>
<circle cx="342.01" cy="209.04" r="3.0" fill="#f00"/>
<circle cx="343.14" cy="208.32" r="3.0" fill="#f00"/>
<circle cx="344.26" cy="207.48" r="3.0" fill="#f00"/>
<circle cx="345.39" cy="206.43" r="3.0" fill="#f00"/>
<circle cx="346.51" cy="205.27" r="3.0" fill="#f00"/>
<circle cx="347.64" cy="204.12" r="3.0" fill="#f00"/>
<circle cx="348.76" cy="203.01" r="3.0" fill="#f00"/>
<circle cx="349.89" cy="201.75" r="3.0" fill="#f00"/>
<circle cx="351.01" cy="200.65" r="3.0" fill="#f00"/>
<circle cx="352.14" cy="200.06" r="3.0" fill="#f00"/>
<circle cx="353.26" cy="200.10" r="3.0" fill="#f00"/>
<circle cx="354.39" cy="200.40" r="3.0" fill="#f00"/>
<circle cx="355.51" cy="200.97" r="3.0" fill="#f00"/>
<circle cx="356.64" cy="203.36" r="3.0" fill="#f00"/>
<circle cx="358.24" cy="212.02" r="3.0" fill="#f00"/>
<circle cx="358.99" cy="220.32" r="3.0" fill="#f00"/>
<circle cx="361.48" cy="253.08" r="3.0" fill="#f00"/>
<circle cx="362.28" cy="261.85" r="3.0" fill="#f00"/>
<circle cx="363.20" cy="270.16" r="3.0" fill="#f00"/>
<circle cx="364.29" cy="277.54" r="3.0" fill="#f00"/>
<circle cx="365.50" cy="283.54" r="3.0" fill="#f00"/>
<circle cx="366.62" cy="289.07" r="3.0" fill="#f00"/>
<circle cx="367.63" cy="293.69" r="3.0" fill="#f00"/>
<circle cx="374.36" cy="308.69" r="3.0" fill="#f00"/>
<circle cx="389.55" cy="310.63" r="3.0" fill="#f00"/>
<circle cx="390.86" cy="310.72" r="3.0" fill="#f00"/>
<circle cx="392.18" cy="310.81" r="3.0" fill="#f00"/>
<circle cx="393.49" cy="310.90" r="3.0" fill="#f00"/>
<circle cx="414.19" cy="311.88" r="3.0" fill="#f00"/>
<circle cx="415.85" cy="311.97" r="3.0" fill="#f00"/>
<circle cx="417.50" cy="312.05" r="3.0" fill="#f00"/>
<circle cx="419.16" cy="312.11" r="3.0" fill="#f00"/>
<circle cx="420.81" cy="312.17" r="3.0" fill="#f00"/>
<circle cx="422.46" cy="312.22" r="3.0" fill="#f00"/>
<circle cx="429.22" cy="312.40" r="3.0" fill="#f00"/>
<circle cx="430.81" cy="312.42" r="3.0" fill="#f00"/>
<circle cx="432.40" cy="312.43" r="3.0" fill="#f00"/>
<circle cx="434.00" cy="312.44" r="3.0" fill="#f00"/>
<circle cx="435.59" cy="312.45" r="3.0" fill="#f00"/>
<circle cx="437.19" cy="312.45" r="3.0" fill="#f00"/>
<circle cx="438.78" cy="312.46" r="3.0" fill="#f00"/>
<polyline points="274.39,207.05 274.67,206.09 274.95,205.12 275.23,204.19 275.51,203.30 275.79,202.49 276.08,201.78 276.36,201.20 276.64,200.78 276.92,200.51 277.20,200.26 277.48,200.01 277.76,199.78 278.04,199.55 278.33,199.33 278.61,199.11 278.89,198.90 279.17,198.70 279.45,198.51 279.73,198.33 280.01,198.15 280.29,197.98 280.58,197.82 280.86,197.67 281.14,197.53 281.42,197.39 281.70,197.27 281.98,197.15 282.26,197.04 282.55,196.94 282.83,196.85 283.11,196.77 283.39,196.70 283.67,196.63 283.95,196.58 284.23,196.53 284.51,196.50 284.80,196.47 285.08,196.45 285.36,196.44 285.64,196.44 285.92,196.44 286.20,196.45 286.48,196.45 286.76,196.45 287.05,196.46 287.33,196.47 287.61,196.48 287.89,196.49 288.17,196.50 288.45,196.51 288.73,196.52 289.02,196.53 289.30,196.55 289.58,196.57 289.86,196.58 290.14,196.60 290.42,196.62 290.70,196.64 290.98,196.66 291.27,196.69 291.55,196.71 291.83,196.73 292.11,196.76 292.39,196.79 292.67,196.81 292.95,196.84 293.23,196.87 293.52,196.90 293.80,196.94 294.08,196.97 294.36,197.00 294.64,197.04 294.92,197.07 295.20,197.11 295.48,197.15 295.77,197.19 296.05,197.23 296.33,197.27 296.61,197.31 296.89,197.35 297.17,197.40 297.45,197.44 297.74,197.50 298.02,197.58 298.30,197.66 298.58,197.76 298.86,197.87 299.14,198.00 299.42,198.13 299.70,198.28 299.99,198.44 300.27,198.61 300.55,198.79 300.83,198.98 301.11,199.18 301.39,199.39 301.67,199.61 301.95,199.83 302.24,200.07 302.52,200.31 302.80,200.56 303.08,200.82 303.36,201.13 303.64,201.49 303.92,201.90 304.21,202.34 304.49,202.84 304.77,203.37 305.05,203.94 305.33,204.55 305.61,205.19 305.89,205.87 306.17,206.61 306.46,207.54 306.74,208.65 307.02,209.86 307.30,211.16 307.58,212.50 307.86,213.83 308.14,215.14 308.42,216.39 308.71,217.56 308.99,218.65 309.27,219.74 309.55,220.82 309.83,221.89 310.11,222.94 310.39,223.97 310.68,224.97 310.96,225.93 311.24,226.86 311.52,227.75 311.80,228.59 312.08,229.40 312.36,230.23 312.64,231.08 312.93,231.92 313.21,232.72 313.49,233.47 313.77,234.14 314.05,234.73 314.33,235.21 314.61,235.57 314.89,235.81 315.18,236.04 315.46,236.25 315.74,236.45 316.02,236.64 316.30,236.82 316.58,236.98 316.86,237.13 317.15,237.27 317.43,237.39 317.71,237.49 317.99,237.57 318.27,237.64 318.55,237.69 318.83,237.72 319.11,237.73 319.40,237.69 319.68,237.59 319.96,237.43 320.24,237.23 320.52,236.99 320.80,236.71 321.08,236.40 321.36,236.08 321.65,235.74 321.93,235.39 322.21,235.03 322.49,234.57 322.77,234.03 323.05,233.41 323.33,232.74 323.61,232.03 323.90,231.29 324.18,230.56 324.46,229.84 324.74,229.17 325.02,228.53 325.30,227.89 325.58,227.24 325.87,226.59 326.15,225.93 326.43,225.28 326.71,224.64 326.99,224.01 327.27,223.41 327.55,222.85 327.83,222.32 328.12,221.83 328.40,221.35 328.68,220.89 328.96,220.43 329.24,219.98 329.52,219.55 329.80,219.12 330.08,218.71 330.37,218.32 330.65,217.93 330.93,217.56 331.21,217.21 331.49,216.87 331.77,216.54 332.05,216.24 332.34,215.95 332.62,215.67 332.90,215.40 333.18,215.13 333.46,214.88 333.74,214.63 334.02,214.39 334.30,214.16 334.59,213.93 334.87,213.71 335.15,213.49 335.43,213.28 335.71,213.07 335.99,212.86 336.27,212.66 336.55,212.46 336.84,212.27 337.12,212.07 337.40,211.87 337.68,211.68 337.96,211.48 338.24,211.29 338.52,211.10 338.81,210.91 339.09,210.74 339.37,210.56 339.65,210.40 339.93,210.23 340.21,210.07 340.49,209.91 340.77,209.75 341.06,209.59 341.34,209.43 341.62,209.27 341.90,209.10 342.18,208.93 342.46,208.76 342.74,208.58 343.02,208.40 343.31,208.21 343.59,208.01 343.87,207.80 344.15,207.57 344.43,207.34 344.71,207.09 344.99,206.82 345.28,206.55 345.56,206.26 345.84,205.97 346.12,205.68 346.40,205.38 346.68,205.09 346.96,204.80 347.24,204.51 347.53,204.23 347.81,203.97 348.09,203.70 348.37,203.43 348.65,203.13 348.93,202.82 349.21,202.51 349.49,202.19 349.78,201.88 350.06,201.57 350.34,201.27 350.62,201.00 350.90,200.75 351.18,200.52 351.46,200.33 351.74,200.19 352.03,200.08 352.31,200.03 352.59,200.03 352.87,200.05 353.15,200.08 353.43,200.13 353.71,200.19 354.00,200.27 354.28,200.36 354.56,200.46 354.84,200.57 355.12,200.70 355.40,200.86 355.68,201.19 355.96,201.66 356.25,202.29 356.53,203.03 356.81,203.89 357.09,204.84 357.37,205.88 357.65,207.25 357.93,209.27 358.21,211.80 358.50,214.70 358.78,217.84 359.06,221.11 359.34,224.42 359.62,227.72 359.90,230.93 360.18,234.25 360.47,238.25 360.75,242.58 361.03,246.88 361.31,250.90 361.59,254.48 361.87,257.59 362.15,260.54 362.43,263.34 362.72,265.98 363.00,268.46 363.28,270.76 363.56,272.88 363.84,274.82 364.12,276.57 364.40,278.14 364.68,279.58 364.97,280.96 365.25,282.31 365.53,283.67 365.81,285.06 366.09,286.47 366.37,287.87 366.65,289.24 366.94,290.58 367.22,291.88 367.50,293.12 367.78,294.31 368.06,295.48 368.34,296.61 368.62,297.71 368.90,298.77 369.19,299.79 369.47,300.77 369.75,301.77 370.03,302.79 370.31,303.78 370.59,304.67 370.87,305.43 371.15,306.00 371.44,306.41 371.72,306.78 372.00,307.11 372.28,307.41 372.56,307.66 372.84,307.89 373.12,308.09 373.41,308.25 373.69,308.40 373.97,308.53 374.25,308.64 374.53,308.75 374.81,308.85 375.09,308.93 375.37,309.02 375.66,309.09 375.94,309.16 376.22,309.23 376.50,309.30 376.78,309.36 377.06,309.43 377.34,309.49 377.62,309.54 377.91,309.60 378.19,309.65 378.47,309.70 378.75,309.75 379.03,309.80 379.31,309.84 379.59,309.89 379.87,309.92 380.16,309.96 380.44,309.99 380.72,310.02 381.00,310.05 381.28,310.08 381.56,310.10 381.84,310.13 382.13,310.15 382.41,310.17 382.69,310.19 382.97,310.21 383.25,310.23 383.53,310.25 383.81,310.27 384.09,310.29 384.38,310.30 384.66,310.32 384.94,310.34 385.22,310.35 385.50,310.37 385.78,310.38 386.06,310.40 386.34,310.42 386.63,310.43 386.91,310.45 387.19,310.47 387.47,310.48 387.75,310.50 388.03,310.52 388.31,310.54 388.60,310.56 388.88,310.58 389.16,310.60 389.44,310.62 389.72,310.64 390.00,310.66 390.28,310.68 390.56,310.70 390.85,310.72 391.13,310.74 391.41,310.76 391.69,310.78 391.97,310.80 392.25,310.82 392.53,310.84 392.81,310.86 393.10,310.87 393.38,310.89 393.66,310.91 393.94,310.93 394.22,310.95 394.50,310.97 394.78,310.98 395.07,311.00 395.35,311.02 395.63,311.04 395.91,311.05 396.19,311.07 396.47,311.08 396.75,311.10 397.03,311.11 397.32,311.13 397.60,311.14 397.88,311.15 398.16,311.17 398.44,311.18 398.72,311.19 399.00,311.20 399.28,311.22 399.57,311.23 399.85,311.24 400.13,311.25 400.41,311.26 400.69,311.28 400.97,311.29 401.25,311.30 401.54,311.31 401.82,311.32 402.10,311.33 402.38,311.34 402.66,311.35 402.94,311.36 403.22,311.38 403.50,311.39 403.79,311.40 404.07,311.41 404.35,311.42 404.63,311.43 404.91,311.44 405.19,311.45 405.47,311.46 405.75,311.47 406.04,311.48 406.32,311.50 406.60,311.51 406.88,311.52 407.16,311.53 407.44,311.54 407.72,311.55 408.00,311.57 408.29,311.58 408.57,311.59 408.85,311.60 409.13,311.62 409.41,311.63 409.69,311.64 409.97,311.66 410.26,311.67 410.54,311.69 410.82,311.70 411.10,311.72 411.38,311.73 411.66,311.75 411.94,311.76 412.22,311.78 412.51,311.79 412.79,311.81 413.07,311.82 413.35,311.84 413.63,311.85 413.91,311.87 414.19,311.88 414.47,311.90 414.76,311.91 415.04,311.93 415.32,311.94 415.60,311.95 415.88,311.97 416.16,311.98 416.44,312.00 416.73,312.01 417.01,312.02 417.29,312.04 417.57,312.05 417.85,312.06 418.13,312.07 418.41,312.09 418.69,312.10 418.98,312.11 419.26,312.12 419.54,312.13 419.82,312.14 420.10,312.15 420.38,312.16 420.66,312.17 420.94,312.17 421.23,312.18 421.51,312.19 421.79,312.20 422.07,312.21 422.35,312.22 422.63,312.23 422.91,312.24 423.20,312.25 423.48,312.25 423.76,312.26 424.04,312.27 424.32,312.28 424.60,312.29 424.88,312.30 425.16,312.30 425.45,312.31 425.73,312.32 426.01,312.33 426.29,312.33 426.57,312.34 426.85,312.35 427.13,312.35 427.41,312.36 427.70,312.37 427.98,312.37 428.26,312.38 428.54,312.38 428.82,312.39 429.10,312.39 429.38,312.40 429.67,312.40 429.95,312.41 430.23,312.41 430.51,312.41 430.79,312.42 431.07,312.42 431.35,312.42 431.63,312.43 431.92,312.43 432.20,312.43 432.48,312.43 432.76,312.43 433.04,312.43 433.32,312.44 433.60,312.44 433.88,312.44 434.17,312.44 434.45,312.44 434.73,312.44 435.01,312.44 435.29,312.45 435.57,312.45 435.85,312.45 436.13,312.45 436.42,312.45 436.70,312.45 436.98,312.45 437.26,312.45 437.54,312.46 437.82,312.46 438.10,312.46 438.39,312.46 438.67,312.46 438.95,312.46 439.23,312.46 439.51,312.46 439.79,312.46 440.07,312.46 440.35,312.46 440.64,312.46 440.92,312.46 441.20,312.46 441.48,312.47 441.76,312.47 442.04,312.47 442.32,312.47 442.60,312.47" fill="none" stroke="#00f" stroke-width="1.5" stroke-linejoin="round" stroke-linecap="square"/>
</g>
<rect x="265.95" y="190.40" width="184.55" height="127.20" fill="none" stroke="#444" stroke-width="1"/>
<line x1="274.50" y1="317.60" x2="274.50" y2="320.40" stroke="#333" stroke-width="0.9"/>
<text x="274.50" y="329.30" text-anchor="middle" font-size="8.2" textLength="15.27" lengthAdjust="spacingAndGlyphs" >400</text>
<line x1="302.63" y1="317.60" x2="302.63" y2="320.40" stroke="#333" stroke-width="0.9"/>
<text x="302.63" y="329.30" text-anchor="middle" font-size="8.2" textLength="15.27" lengthAdjust="spacingAndGlyphs" >500</text>
<line x1="330.76" y1="317.60" x2="330.76" y2="320.40" stroke="#333" stroke-width="0.9"/>
<text x="330.76" y="329.30" text-anchor="middle" font-size="8.2" textLength="15.27" lengthAdjust="spacingAndGlyphs" >600</text>
<line x1="358.89" y1="317.60" x2="358.89" y2="320.40" stroke="#333" stroke-width="0.9"/>
<text x="358.89" y="329.30" text-anchor="middle" font-size="8.2" textLength="15.27" lengthAdjust="spacingAndGlyphs" >700</text>
<line x1="387.02" y1="317.60" x2="387.02" y2="320.40" stroke="#333" stroke-width="0.9"/>
<text x="387.02" y="329.30" text-anchor="middle" font-size="8.2" textLength="15.27" lengthAdjust="spacingAndGlyphs" >800</text>
<line x1="415.15" y1="317.60" x2="415.15" y2="320.40" stroke="#333" stroke-width="0.9"/>
<text x="415.15" y="329.30" text-anchor="middle" font-size="8.2" textLength="15.27" lengthAdjust="spacingAndGlyphs" >900</text>
<line x1="443.28" y1="317.60" x2="443.28" y2="320.40" stroke="#333" stroke-width="0.9"/>
<text x="443.28" y="329.30" text-anchor="middle" font-size="8.2" textLength="20.36" lengthAdjust="spacingAndGlyphs" >1000</text>
<line x1="263.15" y1="314.45" x2="265.95" y2="314.45" stroke="#333" stroke-width="0.9"/>
<text x="259.95" y="317.35" text-anchor="end" font-size="8.2" textLength="12.72" lengthAdjust="spacingAndGlyphs" >0.5</text>
<line x1="263.15" y1="291.38" x2="265.95" y2="291.38" stroke="#333" stroke-width="0.9"/>
<text x="259.95" y="294.28" text-anchor="end" font-size="8.2" textLength="12.72" lengthAdjust="spacingAndGlyphs" >1.0</text>
<line x1="263.15" y1="268.31" x2="265.95" y2="268.31" stroke="#333" stroke-width="0.9"/>
<text x="259.95" y="271.21" text-anchor="end" font-size="8.2" textLength="12.72" lengthAdjust="spacingAndGlyphs" >1.5</text>
<line x1="263.15" y1="245.24" x2="265.95" y2="245.24" stroke="#333" stroke-width="0.9"/>
<text x="259.95" y="248.14" text-anchor="end" font-size="8.2" textLength="12.72" lengthAdjust="spacingAndGlyphs" >2.0</text>
<line x1="263.15" y1="222.17" x2="265.95" y2="222.17" stroke="#333" stroke-width="0.9"/>
<text x="259.95" y="225.07" text-anchor="end" font-size="8.2" textLength="12.72" lengthAdjust="spacingAndGlyphs" >2.5</text>
<line x1="263.15" y1="199.10" x2="265.95" y2="199.10" stroke="#333" stroke-width="0.9"/>
<text x="259.95" y="202.00" text-anchor="end" font-size="8.2" textLength="12.72" lengthAdjust="spacingAndGlyphs" >3.0</text>
<text x="358.23" y="340.80" text-anchor="middle" font-size="8.2" textLength="63.53" lengthAdjust="spacingAndGlyphs" >Wavelength/nm</text>
<text transform="translate(242.80,254.00) rotate(-90)" x="0" y="0" text-anchor="middle" font-size="8.2" textLength="47.27" lengthAdjust="spacingAndGlyphs">Reflectance</text>
<text x="336.80" y="185.15" font-size="10.3" font-weight="normal" style="stroke-width:0.5px" textLength="48.20" lengthAdjust="spacingAndGlyphs">RLR-LASSO</text>
<text x="266.40" y="184.80" font-size="14" font-weight="bold">e</text>
<rect x="269.95" y="287.60" width="96.24" height="26.00" rx="1.6" fill="#fff" fill-opacity="0.8" stroke="#ccc" stroke-width="0.8"/>
<line x1="272.35" y1="294.20" x2="289.85" y2="294.20" stroke="#00f" stroke-width="1.5"/>
<circle cx="281.15" cy="306.80" r="3.0" fill="#f00"/>
<text x="296.35" y="297.20" text-anchor="start" font-size="8.2" textLength="15.57" lengthAdjust="spacingAndGlyphs" >RLR</text>
<text x="296.35" y="308.80" text-anchor="start" font-size="8.2" textLength="66.24" lengthAdjust="spacingAndGlyphs" >Feature band 82</text>
<clipPath id="clipf"><rect x="497.75" y="190.40" width="184.55" height="127.20"/></clipPath>
<g clip-path="url(#clipf)">
<circle cx="507.99" cy="201.53" r="3.0" fill="#f00"/>
<circle cx="509.36" cy="199.95" r="3.0" fill="#f00"/>
<circle cx="510.73" cy="198.87" r="3.0" fill="#f00"/>
<circle cx="512.10" cy="197.98" r="3.0" fill="#f00"/>
<circle cx="513.47" cy="197.28" r="3.0" fill="#f00"/>
<circle cx="514.84" cy="196.79" r="3.0" fill="#f00"/>
<circle cx="516.22" cy="196.51" r="3.0" fill="#f00"/>
<circle cx="517.59" cy="196.44" r="3.0" fill="#f00"/>
<circle cx="518.96" cy="196.46" r="3.0" fill="#f00"/>
<circle cx="523.18" cy="196.69" r="3.0" fill="#f00"/>
<circle cx="524.49" cy="196.82" r="3.0" fill="#f00"/>
<circle cx="525.80" cy="196.96" r="3.0" fill="#f00"/>
<circle cx="527.12" cy="197.13" r="3.0" fill="#f00"/>
<circle cx="542.31" cy="224.37" r="3.0" fill="#f00"/>
<circle cx="549.06" cy="237.32" r="3.0" fill="#f00"/>
<circle cx="550.26" cy="237.68" r="3.0" fill="#f00"/>
<circle cx="551.47" cy="237.59" r="3.0" fill="#f00"/>
<circle cx="552.67" cy="236.63" r="3.0" fill="#f00"/>
<circle cx="553.88" cy="235.20" r="3.0" fill="#f00"/>
<circle cx="555.09" cy="232.86" r="3.0" fill="#f00"/>
<circle cx="556.29" cy="229.76" r="3.0" fill="#f00"/>
<circle cx="557.50" cy="226.98" r="3.0" fill="#f00"/>
<circle cx="561.43" cy="219.38" r="3.0" fill="#f00"/>
<circle cx="562.68" cy="217.62" r="3.0" fill="#f00"/>
<circle cx="563.93" cy="216.16" r="3.0" fill="#f00"/>
<circle cx="565.17" cy="214.96" r="3.0" fill="#f00"/>
<circle cx="566.42" cy="213.90" r="3.0" fill="#f00"/>
<circle cx="567.66" cy="212.96" r="3.0" fill="#f00"/>
<circle cx="568.91" cy="212.07" r="3.0" fill="#f00"/>
<circle cx="570.16" cy="211.21" r="3.0" fill="#f00"/>
<circle cx="571.40" cy="210.42" r="3.0" fill="#f00"/>
<circle cx="572.65" cy="209.71" r="3.0" fill="#f00"/>
<circle cx="573.89" cy="208.99" r="3.0" fill="#f00"/>
<circle cx="575.14" cy="208.18" r="3.0" fill="#f00"/>
<circle cx="576.38" cy="207.20" r="3.0" fill="#f00"/>
<circle cx="577.63" cy="205.98" r="3.0" fill="#f00"/>
<circle cx="578.88" cy="204.68" r="3.0" fill="#f00"/>
<circle cx="580.12" cy="203.47" r="3.0" fill="#f00"/>
<circle cx="581.37" cy="202.11" r="3.0" fill="#f00"/>
<circle cx="582.61" cy="200.82" r="3.0" fill="#f00"/>
<circle cx="583.86" cy="200.08" r="3.0" fill="#f00"/>
<circle cx="585.10" cy="200.11" r="3.0" fill="#f00"/>
<circle cx="586.35" cy="200.46" r="3.0" fill="#f00"/>
<circle cx="587.60" cy="201.36" r="3.0" fill="#f00"/>
<circle cx="591.74" cy="231.40" r="3.0" fill="#f00"/>
<circle cx="595.00" cy="270.16" r="3.0" fill="#f00"/>
<circle cx="597.25" cy="283.31" r="3.0" fill="#f00"/>
<circle cx="599.25" cy="292.90" r="3.0" fill="#f00"/>
<circle cx="601.30" cy="300.87" r="3.0" fill="#f00"/>
<circle cx="602.54" cy="305.08" r="3.0" fill="#f00"/>
<circle cx="603.78" cy="307.10" r="3.0" fill="#f00"/>
<circle cx="605.03" cy="308.15" r="3.0" fill="#f00"/>
<circle cx="606.27" cy="308.73" r="3.0" fill="#f00"/>
<circle cx="607.52" cy="309.11" r="3.0" fill="#f00"/>
<circle cx="608.76" cy="309.40" r="3.0" fill="#f00"/>
<circle cx="610.00" cy="309.66" r="3.0" fill="#f00"/>
<circle cx="611.25" cy="309.86" r="3.0" fill="#f00"/>
<circle cx="612.49" cy="310.02" r="3.0" fill="#f00"/>
<circle cx="613.74" cy="310.13" r="3.0" fill="#f00"/>
<circle cx="614.98" cy="310.23" r="3.0" fill="#f00"/>
<circle cx="616.22" cy="310.31" r="3.0" fill="#f00"/>
<circle cx="617.47" cy="310.38" r="3.0" fill="#f00"/>
<circle cx="618.71" cy="310.45" r="3.0" fill="#f00"/>
<circle cx="619.96" cy="310.53" r="3.0" fill="#f00"/>
<circle cx="621.20" cy="310.62" r="3.0" fill="#f00"/>
<circle cx="622.44" cy="310.70" r="3.0" fill="#f00"/>
<circle cx="623.69" cy="310.79" r="3.0" fill="#f00"/>
<circle cx="624.93" cy="310.88" r="3.0" fill="#f00"/>
<circle cx="626.18" cy="310.96" r="3.0" fill="#f00"/>
<circle cx="627.42" cy="311.03" r="3.0" fill="#f00"/>
<circle cx="628.67" cy="311.10" r="3.0" fill="#f00"/>
<circle cx="632.88" cy="311.29" r="3.0" fill="#f00"/>
<circle cx="634.99" cy="311.37" r="3.0" fill="#f00"/>
<circle cx="637.10" cy="311.46" r="3.0" fill="#f00"/>
<circle cx="645.26" cy="311.84" r="3.0" fill="#f00"/>
<circle cx="652.01" cy="312.15" r="3.0" fill="#f00"/>
<circle cx="653.84" cy="312.21" r="3.0" fill="#f00"/>
<circle cx="655.67" cy="312.27" r="3.0" fill="#f00"/>
<circle cx="657.50" cy="312.32" r="3.0" fill="#f00"/>
<circle cx="659.33" cy="312.36" r="3.0" fill="#f00"/>
<circle cx="661.16" cy="312.40" r="3.0" fill="#f00"/>
<circle cx="662.98" cy="312.42" r="3.0" fill="#f00"/>
<circle cx="669.88" cy="312.46" r="3.0" fill="#f00"/>
<circle cx="671.92" cy="312.46" r="3.0" fill="#f00"/>
<circle cx="673.95" cy="312.47" r="3.0" fill="#f00"/>
<polyline points="506.19,207.05 506.47,206.09 506.75,205.12 507.03,204.19 507.31,203.30 507.59,202.49 507.88,201.78 508.16,201.20 508.44,200.78 508.72,200.51 509.00,200.26 509.28,200.01 509.56,199.78 509.84,199.55 510.13,199.33 510.41,199.11 510.69,198.90 510.97,198.70 511.25,198.51 511.53,198.33 511.81,198.15 512.09,197.98 512.38,197.82 512.66,197.67 512.94,197.53 513.22,197.39 513.50,197.27 513.78,197.15 514.06,197.04 514.35,196.94 514.63,196.85 514.91,196.77 515.19,196.70 515.47,196.63 515.75,196.58 516.03,196.53 516.31,196.50 516.60,196.47 516.88,196.45 517.16,196.44 517.44,196.44 517.72,196.44 518.00,196.45 518.28,196.45 518.56,196.45 518.85,196.46 519.13,196.47 519.41,196.48 519.69,196.49 519.97,196.50 520.25,196.51 520.53,196.52 520.82,196.53 521.10,196.55 521.38,196.57 521.66,196.58 521.94,196.60 522.22,196.62 522.50,196.64 522.78,196.66 523.07,196.69 523.35,196.71 523.63,196.73 523.91,196.76 524.19,196.79 524.47,196.81 524.75,196.84 525.03,196.87 525.32,196.90 525.60,196.94 525.88,196.97 526.16,197.00 526.44,197.04 526.72,197.07 527.00,197.11 527.28,197.15 527.57,197.19 527.85,197.23 528.13,197.27 528.41,197.31 528.69,197.35 528.97,197.40 529.25,197.44 529.54,197.50 529.82,197.58 530.10,197.66 530.38,197.76 530.66,197.87 530.94,198.00 531.22,198.13 531.50,198.28 531.79,198.44 532.07,198.61 532.35,198.79 532.63,198.98 532.91,199.18 533.19,199.39 533.47,199.61 533.75,199.83 534.04,200.07 534.32,200.31 534.60,200.56 534.88,200.82 535.16,201.13 535.44,201.49 535.72,201.90 536.01,202.34 536.29,202.84 536.57,203.37 536.85,203.94 537.13,204.55 537.41,205.19 537.69,205.87 537.97,206.61 538.26,207.54 538.54,208.65 538.82,209.86 539.10,211.16 539.38,212.50 539.66,213.83 539.94,215.14 540.22,216.39 540.51,217.56 540.79,218.65 541.07,219.74 541.35,220.82 541.63,221.89 541.91,222.94 542.19,223.97 542.48,224.97 542.76,225.93 543.04,226.86 543.32,227.75 543.60,228.59 543.88,229.40 544.16,230.23 544.44,231.08 544.73,231.92 545.01,232.72 545.29,233.47 545.57,234.14 545.85,234.73 546.13,235.21 546.41,235.57 546.69,235.81 546.98,236.04 547.26,236.25 547.54,236.45 547.82,236.64 548.10,236.82 548.38,236.98 548.66,237.13 548.95,237.27 549.23,237.39 549.51,237.49 549.79,237.57 550.07,237.64 550.35,237.69 550.63,237.72 550.91,237.73 551.20,237.69 551.48,237.59 551.76,237.43 552.04,237.23 552.32,236.99 552.60,236.71 552.88,236.40 553.16,236.08 553.45,235.74 553.73,235.39 554.01,235.03 554.29,234.57 554.57,234.03 554.85,233.41 555.13,232.74 555.41,232.03 555.70,231.29 555.98,230.56 556.26,229.84 556.54,229.17 556.82,228.53 557.10,227.89 557.38,227.24 557.67,226.59 557.95,225.93 558.23,225.28 558.51,224.64 558.79,224.01 559.07,223.41 559.35,222.85 559.63,222.32 559.92,221.83 560.20,221.35 560.48,220.89 560.76,220.43 561.04,219.98 561.32,219.55 561.60,219.12 561.88,218.71 562.17,218.32 562.45,217.93 562.73,217.56 563.01,217.21 563.29,216.87 563.57,216.54 563.85,216.24 564.14,215.95 564.42,215.67 564.70,215.40 564.98,215.13 565.26,214.88 565.54,214.63 565.82,214.39 566.10,214.16 566.39,213.93 566.67,213.71 566.95,213.49 567.23,213.28 567.51,213.07 567.79,212.86 568.07,212.66 568.35,212.46 568.64,212.27 568.92,212.07 569.20,211.87 569.48,211.68 569.76,211.48 570.04,211.29 570.32,211.10 570.61,210.91 570.89,210.74 571.17,210.56 571.45,210.40 571.73,210.23 572.01,210.07 572.29,209.91 572.57,209.75 572.86,209.59 573.14,209.43 573.42,209.27 573.70,209.10 573.98,208.93 574.26,208.76 574.54,208.58 574.82,208.40 575.11,208.21 575.39,208.01 575.67,207.80 575.95,207.57 576.23,207.34 576.51,207.09 576.79,206.82 577.08,206.55 577.36,206.26 577.64,205.97 577.92,205.68 578.20,205.38 578.48,205.09 578.76,204.80 579.04,204.51 579.33,204.23 579.61,203.97 579.89,203.70 580.17,203.43 580.45,203.13 580.73,202.82 581.01,202.51 581.29,202.19 581.58,201.88 581.86,201.57 582.14,201.27 582.42,201.00 582.70,200.75 582.98,200.52 583.26,200.33 583.54,200.19 583.83,200.08 584.11,200.03 584.39,200.03 584.67,200.05 584.95,200.08 585.23,200.13 585.51,200.19 585.80,200.27 586.08,200.36 586.36,200.46 586.64,200.57 586.92,200.70 587.20,200.86 587.48,201.19 587.76,201.66 588.05,202.29 588.33,203.03 588.61,203.89 588.89,204.84 589.17,205.88 589.45,207.25 589.73,209.27 590.01,211.80 590.30,214.70 590.58,217.84 590.86,221.11 591.14,224.42 591.42,227.72 591.70,230.93 591.98,234.25 592.27,238.25 592.55,242.58 592.83,246.88 593.11,250.90 593.39,254.48 593.67,257.59 593.95,260.54 594.23,263.34 594.52,265.98 594.80,268.46 595.08,270.76 595.36,272.88 595.64,274.82 595.92,276.57 596.20,278.14 596.48,279.58 596.77,280.96 597.05,282.31 597.33,283.67 597.61,285.06 597.89,286.47 598.17,287.87 598.45,289.24 598.74,290.58 599.02,291.88 599.30,293.12 599.58,294.31 599.86,295.48 600.14,296.61 600.42,297.71 600.70,298.77 600.99,299.79 601.27,300.77 601.55,301.77 601.83,302.79 602.11,303.78 602.39,304.67 602.67,305.43 602.95,306.00 603.24,306.41 603.52,306.78 603.80,307.11 604.08,307.41 604.36,307.66 604.64,307.89 604.92,308.09 605.21,308.25 605.49,308.40 605.77,308.53 606.05,308.64 606.33,308.75 606.61,308.85 606.89,308.93 607.17,309.02 607.46,309.09 607.74,309.16 608.02,309.23 608.30,309.30 608.58,309.36 608.86,309.43 609.14,309.49 609.42,309.54 609.71,309.60 609.99,309.65 610.27,309.70 610.55,309.75 610.83,309.80 611.11,309.84 611.39,309.89 611.67,309.92 611.96,309.96 612.24,309.99 612.52,310.02 612.80,310.05 613.08,310.08 613.36,310.10 613.64,310.13 613.93,310.15 614.21,310.17 614.49,310.19 614.77,310.21 615.05,310.23 615.33,310.25 615.61,310.27 615.89,310.29 616.18,310.30 616.46,310.32 616.74,310.34 617.02,310.35 617.30,310.37 617.58,310.38 617.86,310.40 618.14,310.42 618.43,310.43 618.71,310.45 618.99,310.47 619.27,310.48 619.55,310.50 619.83,310.52 620.11,310.54 620.40,310.56 620.68,310.58 620.96,310.60 621.24,310.62 621.52,310.64 621.80,310.66 622.08,310.68 622.36,310.70 622.65,310.72 622.93,310.74 623.21,310.76 623.49,310.78 623.77,310.80 624.05,310.82 624.33,310.84 624.61,310.86 624.90,310.87 625.18,310.89 625.46,310.91 625.74,310.93 626.02,310.95 626.30,310.97 626.58,310.98 626.87,311.00 627.15,311.02 627.43,311.04 627.71,311.05 627.99,311.07 628.27,311.08 628.55,311.10 628.83,311.11 629.12,311.13 629.40,311.14 629.68,311.15 629.96,311.17 630.24,311.18 630.52,311.19 630.80,311.20 631.08,311.22 631.37,311.23 631.65,311.24 631.93,311.25 632.21,311.26 632.49,311.28 632.77,311.29 633.05,311.30 633.34,311.31 633.62,311.32 633.90,311.33 634.18,311.34 634.46,311.35 634.74,311.36 635.02,311.38 635.30,311.39 635.59,311.40 635.87,311.41 636.15,311.42 636.43,311.43 636.71,311.44 636.99,311.45 637.27,311.46 637.55,311.47 637.84,311.48 638.12,311.50 638.40,311.51 638.68,311.52 638.96,311.53 639.24,311.54 639.52,311.55 639.80,311.57 640.09,311.58 640.37,311.59 640.65,311.60 640.93,311.62 641.21,311.63 641.49,311.64 641.77,311.66 642.06,311.67 642.34,311.69 642.62,311.70 642.90,311.72 643.18,311.73 643.46,311.75 643.74,311.76 644.02,311.78 644.31,311.79 644.59,311.81 644.87,311.82 645.15,311.84 645.43,311.85 645.71,311.87 645.99,311.88 646.27,311.90 646.56,311.91 646.84,311.93 647.12,311.94 647.40,311.95 647.68,311.97 647.96,311.98 648.24,312.00 648.53,312.01 648.81,312.02 649.09,312.04 649.37,312.05 649.65,312.06 649.93,312.07 650.21,312.09 650.49,312.10 650.78,312.11 651.06,312.12 651.34,312.13 651.62,312.14 651.90,312.15 652.18,312.16 652.46,312.17 652.74,312.17 653.03,312.18 653.31,312.19 653.59,312.20 653.87,312.21 654.15,312.22 654.43,312.23 654.71,312.24 655.00,312.25 655.28,312.25 655.56,312.26 655.84,312.27 656.12,312.28 656.40,312.29 656.68,312.30 656.96,312.30 657.25,312.31 657.53,312.32 657.81,312.33 658.09,312.33 658.37,312.34 658.65,312.35 658.93,312.35 659.21,312.36 659.50,312.37 659.78,312.37 660.06,312.38 660.34,312.38 660.62,312.39 660.90,312.39 661.18,312.40 661.47,312.40 661.75,312.41 662.03,312.41 662.31,312.41 662.59,312.42 662.87,312.42 663.15,312.42 663.43,312.43 663.72,312.43 664.00,312.43 664.28,312.43 664.56,312.43 664.84,312.43 665.12,312.44 665.40,312.44 665.68,312.44 665.97,312.44 666.25,312.44 666.53,312.44 666.81,312.44 667.09,312.45 667.37,312.45 667.65,312.45 667.93,312.45 668.22,312.45 668.50,312.45 668.78,312.45 669.06,312.45 669.34,312.46 669.62,312.46 669.90,312.46 670.19,312.46 670.47,312.46 670.75,312.46 671.03,312.46 671.31,312.46 671.59,312.46 671.87,312.46 672.15,312.46 672.44,312.46 672.72,312.46 673.00,312.46 673.28,312.47 673.56,312.47 673.84,312.47 674.12,312.47 674.40,312.47" fill="none" stroke="#00f" stroke-width="1.5" stroke-linejoin="round" stroke-linecap="square"/>
</g>
<rect x="497.75" y="190.40" width="184.55" height="127.20" fill="none" stroke="#444" stroke-width="1"/>
<line x1="506.30" y1="317.60" x2="506.30" y2="320.40" stroke="#333" stroke-width="0.9"/>
<text x="506.30" y="329.30" text-anchor="middle" font-size="8.2" textLength="15.27" lengthAdjust="spacingAndGlyphs" >400</text>
<line x1="534.43" y1="317.60" x2="534.43" y2="320.40" stroke="#333" stroke-width="0.9"/>
<text x="534.43" y="329.30" text-anchor="middle" font-size="8.2" textLength="15.27" lengthAdjust="spacingAndGlyphs" >500</text>
<line x1="562.56" y1="317.60" x2="562.56" y2="320.40" stroke="#333" stroke-width="0.9"/>
<text x="562.56" y="329.30" text-anchor="middle" font-size="8.2" textLength="15.27" lengthAdjust="spacingAndGlyphs" >600</text>
<line x1="590.69" y1="317.60" x2="590.69" y2="320.40" stroke="#333" stroke-width="0.9"/>
<text x="590.69" y="329.30" text-anchor="middle" font-size="8.2" textLength="15.27" lengthAdjust="spacingAndGlyphs" >700</text>
<line x1="618.82" y1="317.60" x2="618.82" y2="320.40" stroke="#333" stroke-width="0.9"/>
<text x="618.82" y="329.30" text-anchor="middle" font-size="8.2" textLength="15.27" lengthAdjust="spacingAndGlyphs" >800</text>
<line x1="646.95" y1="317.60" x2="646.95" y2="320.40" stroke="#333" stroke-width="0.9"/>
<text x="646.95" y="329.30" text-anchor="middle" font-size="8.2" textLength="15.27" lengthAdjust="spacingAndGlyphs" >900</text>
<line x1="675.08" y1="317.60" x2="675.08" y2="320.40" stroke="#333" stroke-width="0.9"/>
<text x="675.08" y="329.30" text-anchor="middle" font-size="8.2" textLength="20.36" lengthAdjust="spacingAndGlyphs" >1000</text>
<line x1="494.95" y1="314.45" x2="497.75" y2="314.45" stroke="#333" stroke-width="0.9"/>
<text x="491.75" y="317.35" text-anchor="end" font-size="8.2" textLength="12.72" lengthAdjust="spacingAndGlyphs" >0.5</text>
<line x1="494.95" y1="291.38" x2="497.75" y2="291.38" stroke="#333" stroke-width="0.9"/>
<text x="491.75" y="294.28" text-anchor="end" font-size="8.2" textLength="12.72" lengthAdjust="spacingAndGlyphs" >1.0</text>
<line x1="494.95" y1="268.31" x2="497.75" y2="268.31" stroke="#333" stroke-width="0.9"/>
<text x="491.75" y="271.21" text-anchor="end" font-size="8.2" textLength="12.72" lengthAdjust="spacingAndGlyphs" >1.5</text>
<line x1="494.95" y1="245.24" x2="497.75" y2="245.24" stroke="#333" stroke-width="0.9"/>
<text x="491.75" y="248.14" text-anchor="end" font-size="8.2" textLength="12.72" lengthAdjust="spacingAndGlyphs" >2.0</text>
<line x1="494.95" y1="222.17" x2="497.75" y2="222.17" stroke="#333" stroke-width="0.9"/>
<text x="491.75" y="225.07" text-anchor="end" font-size="8.2" textLength="12.72" lengthAdjust="spacingAndGlyphs" >2.5</text>
<line x1="494.95" y1="199.10" x2="497.75" y2="199.10" stroke="#333" stroke-width="0.9"/>
<text x="491.75" y="202.00" text-anchor="end" font-size="8.2" textLength="12.72" lengthAdjust="spacingAndGlyphs" >3.0</text>
<text x="590.02" y="340.80" text-anchor="middle" font-size="8.2" textLength="63.53" lengthAdjust="spacingAndGlyphs" >Wavelength/nm</text>
<text transform="translate(474.60,254.00) rotate(-90)" x="0" y="0" text-anchor="middle" font-size="8.2" textLength="47.27" lengthAdjust="spacingAndGlyphs">Reflectance</text>
<text x="564.70" y="185.15" font-size="10.3" font-weight="normal" style="stroke-width:0.5px" textLength="37.70" lengthAdjust="spacingAndGlyphs">RLR-UVE</text>
<text x="500.00" y="184.60" font-size="14" font-weight="normal" style="stroke-width:0.45px">f</text>
<rect x="501.75" y="287.60" width="96.24" height="26.00" rx="1.6" fill="#fff" fill-opacity="0.8" stroke="#ccc" stroke-width="0.8"/>
<line x1="504.15" y1="294.20" x2="521.65" y2="294.20" stroke="#00f" stroke-width="1.5"/>
<circle cx="512.95" cy="306.80" r="3.0" fill="#f00"/>
<text x="528.15" y="297.20" text-anchor="start" font-size="8.2" textLength="15.57" lengthAdjust="spacingAndGlyphs" >RLR</text>
<text x="528.15" y="308.80" text-anchor="start" font-size="8.2" textLength="66.24" lengthAdjust="spacingAndGlyphs" >Feature band 69</text>
<clipPath id="clipg"><rect x="34.25" y="363.80" width="184.55" height="127.60"/></clipPath>
<g clip-path="url(#clipg)">
<circle cx="45.51" cy="477.84" r="3.0" fill="#f00"/>
<circle cx="51.78" cy="485.32" r="3.0" fill="#f00"/>
<circle cx="53.38" cy="485.55" r="3.0" fill="#f00"/>
<circle cx="54.97" cy="484.64" r="3.0" fill="#f00"/>
<circle cx="56.56" cy="483.76" r="3.0" fill="#f00"/>
<circle cx="58.16" cy="483.21" r="3.0" fill="#f00"/>
<circle cx="59.75" cy="482.99" r="3.0" fill="#f00"/>
<circle cx="61.35" cy="483.16" r="3.0" fill="#f00"/>
<circle cx="68.38" cy="480.38" r="3.0" fill="#f00"/>
<circle cx="69.65" cy="479.14" r="3.0" fill="#f00"/>
<circle cx="70.91" cy="477.12" r="3.0" fill="#f00"/>
<circle cx="72.99" cy="469.42" r="3.0" fill="#f00"/>
<circle cx="82.02" cy="413.26" r="3.0" fill="#f00"/>
<circle cx="83.24" cy="412.31" r="3.0" fill="#f00"/>
<circle cx="84.46" cy="411.64" r="3.0" fill="#f00"/>
<circle cx="85.68" cy="411.28" r="3.0" fill="#f00"/>
<circle cx="86.90" cy="411.40" r="3.0" fill="#f00"/>
<circle cx="88.12" cy="412.33" r="3.0" fill="#f00"/>
<circle cx="89.34" cy="413.84" r="3.0" fill="#f00"/>
<circle cx="90.56" cy="415.76" r="3.0" fill="#f00"/>
<circle cx="91.77" cy="419.40" r="3.0" fill="#f00"/>
<circle cx="92.99" cy="423.78" r="3.0" fill="#f00"/>
<circle cx="97.07" cy="435.10" r="3.0" fill="#f00"/>
<circle cx="98.45" cy="437.20" r="3.0" fill="#f00"/>
<circle cx="99.83" cy="439.06" r="3.0" fill="#f00"/>
<circle cx="101.21" cy="440.74" r="3.0" fill="#f00"/>
<circle cx="103.99" cy="445.11" r="3.0" fill="#f00"/>
<circle cx="105.79" cy="449.28" r="3.0" fill="#f00"/>
<circle cx="107.11" cy="451.19" r="3.0" fill="#f00"/>
<circle cx="108.42" cy="452.56" r="3.0" fill="#f00"/>
<circle cx="109.73" cy="453.99" r="3.0" fill="#f00"/>
<circle cx="111.04" cy="456.00" r="3.0" fill="#f00"/>
<circle cx="112.36" cy="458.58" r="3.0" fill="#f00"/>
<circle cx="113.67" cy="461.32" r="3.0" fill="#f00"/>
<circle cx="116.20" cy="466.22" r="3.0" fill="#f00"/>
<circle cx="117.29" cy="468.44" r="3.0" fill="#f00"/>
<circle cx="118.37" cy="471.52" r="3.0" fill="#f00"/>
<circle cx="119.46" cy="474.40" r="3.0" fill="#f00"/>
<circle cx="120.54" cy="474.77" r="3.0" fill="#f00"/>
<circle cx="121.63" cy="473.96" r="3.0" fill="#f00"/>
<circle cx="122.71" cy="472.26" r="3.0" fill="#f00"/>
<circle cx="123.80" cy="468.25" r="3.0" fill="#f00"/>
<circle cx="125.91" cy="449.08" r="3.0" fill="#f00"/>
<circle cx="135.61" cy="373.62" r="3.0" fill="#f00"/>
<circle cx="136.94" cy="372.38" r="3.0" fill="#f00"/>
<circle cx="138.26" cy="371.50" r="3.0" fill="#f00"/>
<circle cx="139.59" cy="371.10" r="3.0" fill="#f00"/>
<circle cx="140.91" cy="370.85" r="3.0" fill="#f00"/>
<circle cx="142.24" cy="370.65" r="3.0" fill="#f00"/>
<circle cx="143.57" cy="370.47" r="3.0" fill="#f00"/>
<circle cx="144.89" cy="370.34" r="3.0" fill="#f00"/>
<circle cx="146.30" cy="370.23" r="3.0" fill="#f00"/>
<circle cx="147.71" cy="370.15" r="3.0" fill="#f00"/>
<circle cx="149.11" cy="370.11" r="3.0" fill="#f00"/>
<circle cx="150.52" cy="370.08" r="3.0" fill="#f00"/>
<circle cx="151.93" cy="370.05" r="3.0" fill="#f00"/>
<circle cx="153.33" cy="370.03" r="3.0" fill="#f00"/>
<circle cx="155.86" cy="369.99" r="3.0" fill="#f00"/>
<circle cx="157.25" cy="369.98" r="3.0" fill="#f00"/>
<circle cx="158.63" cy="369.96" r="3.0" fill="#f00"/>
<circle cx="160.01" cy="369.95" r="3.0" fill="#f00"/>
<circle cx="161.40" cy="369.94" r="3.0" fill="#f00"/>
<circle cx="162.78" cy="369.93" r="3.0" fill="#f00"/>
<circle cx="164.16" cy="369.92" r="3.0" fill="#f00"/>
<circle cx="165.55" cy="369.91" r="3.0" fill="#f00"/>
<circle cx="166.93" cy="369.90" r="3.0" fill="#f00"/>
<circle cx="168.31" cy="369.89" r="3.0" fill="#f00"/>
<circle cx="169.69" cy="369.88" r="3.0" fill="#f00"/>
<circle cx="171.08" cy="369.87" r="3.0" fill="#f00"/>
<circle cx="172.46" cy="369.86" r="3.0" fill="#f00"/>
<circle cx="174.15" cy="369.85" r="3.0" fill="#f00"/>
<circle cx="175.54" cy="369.84" r="3.0" fill="#f00"/>
<circle cx="176.94" cy="369.83" r="3.0" fill="#f00"/>
<circle cx="178.34" cy="369.82" r="3.0" fill="#f00"/>
<circle cx="179.73" cy="369.80" r="3.0" fill="#f00"/>
<circle cx="181.13" cy="369.79" r="3.0" fill="#f00"/>
<circle cx="182.52" cy="369.78" r="3.0" fill="#f00"/>
<circle cx="183.92" cy="369.76" r="3.0" fill="#f00"/>
<circle cx="185.31" cy="369.75" r="3.0" fill="#f00"/>
<circle cx="186.71" cy="369.74" r="3.0" fill="#f00"/>
<circle cx="188.11" cy="369.73" r="3.0" fill="#f00"/>
<circle cx="189.50" cy="369.71" r="3.0" fill="#f00"/>
<circle cx="190.90" cy="369.70" r="3.0" fill="#f00"/>
<circle cx="192.29" cy="369.69" r="3.0" fill="#f00"/>
<circle cx="193.69" cy="369.68" r="3.0" fill="#f00"/>
<circle cx="195.08" cy="369.66" r="3.0" fill="#f00"/>
<circle cx="196.48" cy="369.65" r="3.0" fill="#f00"/>
<circle cx="197.87" cy="369.64" r="3.0" fill="#f00"/>
<circle cx="199.27" cy="369.63" r="3.0" fill="#f00"/>
<circle cx="200.67" cy="369.61" r="3.0" fill="#f00"/>
<circle cx="202.06" cy="369.60" r="3.0" fill="#f00"/>
<circle cx="203.46" cy="369.59" r="3.0" fill="#f00"/>
<circle cx="204.85" cy="369.58" r="3.0" fill="#f00"/>
<circle cx="206.25" cy="369.57" r="3.0" fill="#f00"/>
<circle cx="207.64" cy="369.55" r="3.0" fill="#f00"/>
<circle cx="209.04" cy="369.54" r="3.0" fill="#f00"/>
<circle cx="210.44" cy="369.53" r="3.0" fill="#f00"/>
<polyline points="42.39,455.70 42.67,460.34 42.95,464.38 43.23,467.47 43.51,469.60 43.79,471.35 44.08,472.80 44.36,474.03 44.64,475.09 44.92,476.07 45.20,476.95 45.48,477.76 45.76,478.50 46.04,479.15 46.33,479.73 46.61,480.25 46.89,480.72 47.17,481.18 47.45,481.61 47.73,482.02 48.01,482.41 48.29,482.76 48.58,483.09 48.86,483.39 49.14,483.66 49.42,483.90 49.70,484.11 49.98,484.30 50.26,484.48 50.55,484.66 50.83,484.83 51.11,484.99 51.39,485.14 51.67,485.27 51.95,485.38 52.23,485.48 52.51,485.54 52.80,485.58 53.08,485.59 53.36,485.55 53.64,485.46 53.92,485.33 54.20,485.17 54.48,484.99 54.76,484.79 55.05,484.59 55.33,484.39 55.61,484.20 55.89,484.04 56.17,483.90 56.45,483.80 56.73,483.69 57.02,483.59 57.30,483.49 57.58,483.39 57.86,483.30 58.14,483.21 58.42,483.14 58.70,483.08 58.98,483.03 59.27,483.00 59.55,482.99 59.83,483.00 60.11,483.01 60.39,483.04 60.67,483.07 60.95,483.11 61.23,483.15 61.52,483.18 61.80,483.22 62.08,483.25 62.36,483.27 62.64,483.28 62.92,483.27 63.20,483.24 63.48,483.17 63.77,483.07 64.05,482.96 64.33,482.82 64.61,482.68 64.89,482.52 65.17,482.35 65.45,482.19 65.74,482.02 66.02,481.86 66.30,481.71 66.58,481.56 66.86,481.40 67.14,481.23 67.42,481.06 67.70,480.87 67.99,480.68 68.27,480.47 68.55,480.24 68.83,479.99 69.11,479.72 69.39,479.43 69.67,479.10 69.95,478.73 70.24,478.32 70.52,477.86 70.80,477.34 71.08,476.76 71.36,476.12 71.64,475.42 71.92,474.64 72.21,473.73 72.49,472.44 72.77,470.84 73.05,469.05 73.33,467.15 73.61,465.24 73.89,463.29 74.17,461.17 74.46,458.95 74.74,456.67 75.02,454.41 75.30,452.15 75.58,449.86 75.86,447.53 76.14,445.19 76.42,442.85 76.71,440.47 76.99,437.99 77.27,435.47 77.55,433.01 77.83,430.69 78.11,428.60 78.39,426.66 78.68,424.74 78.96,422.92 79.24,421.24 79.52,419.78 79.80,418.58 80.08,417.65 80.36,416.80 80.64,416.01 80.93,415.28 81.21,414.63 81.49,414.07 81.77,413.60 82.05,413.22 82.33,412.96 82.61,412.74 82.89,412.54 83.18,412.35 83.46,412.17 83.74,412.00 84.02,411.85 84.30,411.71 84.58,411.59 84.86,411.48 85.15,411.40 85.43,411.33 85.71,411.28 85.99,411.25 86.27,411.25 86.55,411.28 86.83,411.37 87.11,411.51 87.40,411.69 87.68,411.91 87.96,412.17 88.24,412.46 88.52,412.78 88.80,413.13 89.08,413.49 89.36,413.88 89.65,414.28 89.93,414.70 90.21,415.12 90.49,415.62 90.77,416.27 91.05,417.04 91.33,417.90 91.61,418.84 91.90,419.84 92.18,420.86 92.46,421.89 92.74,422.90 93.02,423.87 93.30,424.79 93.58,425.64 93.87,426.51 94.15,427.39 94.43,428.28 94.71,429.16 94.99,430.03 95.27,430.88 95.55,431.69 95.83,432.45 96.12,433.16 96.40,433.81 96.68,434.38 96.96,434.90 97.24,435.39 97.52,435.85 97.80,436.28 98.08,436.69 98.37,437.09 98.65,437.47 98.93,437.85 99.21,438.22 99.49,438.60 99.77,438.98 100.05,439.36 100.34,439.71 100.62,440.05 100.90,440.38 101.18,440.71 101.46,441.04 101.74,441.37 102.02,441.72 102.30,442.08 102.59,442.47 102.87,442.89 103.15,443.35 103.43,443.88 103.71,444.48 103.99,445.11 104.27,445.78 104.55,446.47 104.84,447.15 105.12,447.82 105.40,448.46 105.68,449.06 105.96,449.59 106.24,450.05 106.52,450.46 106.81,450.83 107.09,451.17 107.37,451.49 107.65,451.79 107.93,452.08 108.21,452.36 108.49,452.64 108.77,452.92 109.06,453.22 109.34,453.53 109.62,453.86 109.90,454.21 110.18,454.60 110.46,455.02 110.74,455.48 111.02,455.97 111.31,456.49 111.59,457.03 111.87,457.58 112.15,458.16 112.43,458.74 112.71,459.33 112.99,459.92 113.28,460.51 113.56,461.09 113.84,461.66 114.12,462.22 114.40,462.76 114.68,463.30 114.96,463.84 115.24,464.37 115.53,464.91 115.81,465.45 116.09,465.99 116.37,466.55 116.65,467.11 116.93,467.69 117.21,468.28 117.49,468.92 117.78,469.68 118.06,470.53 118.34,471.42 118.62,472.30 118.90,473.13 119.18,473.85 119.46,474.41 119.74,474.78 120.03,474.89 120.31,474.85 120.59,474.75 120.87,474.59 121.15,474.39 121.43,474.15 121.71,473.87 122.00,473.57 122.28,473.21 122.56,472.64 122.84,471.91 123.12,471.06 123.40,470.03 123.68,468.80 123.96,467.36 124.25,465.74 124.53,463.92 124.81,461.87 125.09,459.19 125.37,455.97 125.65,452.42 125.93,448.73 126.21,445.08 126.50,441.26 126.78,437.24 127.06,433.05 127.34,428.74 127.62,423.99 127.90,418.87 128.18,413.78 128.47,409.12 128.75,405.28 129.03,401.99 129.31,398.98 129.59,396.27 129.87,393.83 130.15,391.68 130.43,389.72 130.72,387.91 131.00,386.26 131.28,384.80 131.56,383.53 131.84,382.41 132.12,381.36 132.40,380.39 132.68,379.48 132.97,378.65 133.25,377.89 133.53,377.20 133.81,376.58 134.09,376.03 134.37,375.50 134.65,375.01 134.94,374.56 135.22,374.14 135.50,373.76 135.78,373.42 136.06,373.13 136.34,372.87 136.62,372.63 136.90,372.40 137.19,372.18 137.47,371.98 137.75,371.79 138.03,371.63 138.31,371.48 138.59,371.36 138.87,371.26 139.15,371.19 139.44,371.13 139.72,371.08 140.00,371.02 140.28,370.97 140.56,370.92 140.84,370.87 141.12,370.82 141.41,370.77 141.69,370.73 141.97,370.69 142.25,370.64 142.53,370.61 142.81,370.57 143.09,370.53 143.37,370.50 143.66,370.46 143.94,370.43 144.22,370.40 144.50,370.37 144.78,370.35 145.06,370.32 145.34,370.30 145.62,370.27 145.91,370.25 146.19,370.23 146.47,370.22 146.75,370.20 147.03,370.18 147.31,370.17 147.59,370.15 147.87,370.14 148.16,370.13 148.44,370.12 148.72,370.11 149.00,370.11 149.28,370.10 149.56,370.10 149.84,370.09 150.13,370.09 150.41,370.08 150.69,370.07 150.97,370.07 151.25,370.06 151.53,370.06 151.81,370.05 152.09,370.05 152.38,370.04 152.66,370.04 152.94,370.04 153.22,370.03 153.50,370.03 153.78,370.02 154.06,370.02 154.34,370.01 154.63,370.01 154.91,370.01 155.19,370.00 155.47,370.00 155.75,370.00 156.03,369.99 156.31,369.99 156.60,369.98 156.88,369.98 157.16,369.98 157.44,369.97 157.72,369.97 158.00,369.97 158.28,369.97 158.56,369.96 158.85,369.96 159.13,369.96 159.41,369.95 159.69,369.95 159.97,369.95 160.25,369.95 160.53,369.94 160.81,369.94 161.10,369.94 161.38,369.94 161.66,369.93 161.94,369.93 162.22,369.93 162.50,369.93 162.78,369.93 163.07,369.92 163.35,369.92 163.63,369.92 163.91,369.92 164.19,369.92 164.47,369.91 164.75,369.91 165.03,369.91 165.32,369.91 165.60,369.91 165.88,369.90 166.16,369.90 166.44,369.90 166.72,369.90 167.00,369.90 167.28,369.89 167.57,369.89 167.85,369.89 168.13,369.89 168.41,369.89 168.69,369.89 168.97,369.88 169.25,369.88 169.54,369.88 169.82,369.88 170.10,369.88 170.38,369.88 170.66,369.87 170.94,369.87 171.22,369.87 171.50,369.87 171.79,369.87 172.07,369.86 172.35,369.86 172.63,369.86 172.91,369.86 173.19,369.86 173.47,369.86 173.75,369.85 174.04,369.85 174.32,369.85 174.60,369.85 174.88,369.85 175.16,369.84 175.44,369.84 175.72,369.84 176.00,369.84 176.29,369.83 176.57,369.83 176.85,369.83 177.13,369.83 177.41,369.82 177.69,369.82 177.97,369.82 178.26,369.82 178.54,369.81 178.82,369.81 179.10,369.81 179.38,369.81 179.66,369.80 179.94,369.80 180.22,369.80 180.51,369.80 180.79,369.79 181.07,369.79 181.35,369.79 181.63,369.79 181.91,369.78 182.19,369.78 182.47,369.78 182.76,369.78 183.04,369.77 183.32,369.77 183.60,369.77 183.88,369.76 184.16,369.76 184.44,369.76 184.73,369.76 185.01,369.75 185.29,369.75 185.57,369.75 185.85,369.75 186.13,369.74 186.41,369.74 186.69,369.74 186.98,369.74 187.26,369.73 187.54,369.73 187.82,369.73 188.10,369.73 188.38,369.72 188.66,369.72 188.94,369.72 189.23,369.72 189.51,369.71 189.79,369.71 190.07,369.71 190.35,369.71 190.63,369.70 190.91,369.70 191.20,369.70 191.48,369.70 191.76,369.69 192.04,369.69 192.32,369.69 192.60,369.69 192.88,369.68 193.16,369.68 193.45,369.68 193.73,369.68 194.01,369.67 194.29,369.67 194.57,369.67 194.85,369.66 195.13,369.66 195.41,369.66 195.70,369.66 195.98,369.65 196.26,369.65 196.54,369.65 196.82,369.65 197.10,369.64 197.38,369.64 197.67,369.64 197.95,369.64 198.23,369.63 198.51,369.63 198.79,369.63 199.07,369.63 199.35,369.63 199.63,369.62 199.92,369.62 200.20,369.62 200.48,369.62 200.76,369.61 201.04,369.61 201.32,369.61 201.60,369.61 201.88,369.60 202.17,369.60 202.45,369.60 202.73,369.60 203.01,369.59 203.29,369.59 203.57,369.59 203.85,369.59 204.13,369.58 204.42,369.58 204.70,369.58 204.98,369.58 205.26,369.57 205.54,369.57 205.82,369.57 206.10,369.57 206.39,369.56 206.67,369.56 206.95,369.56 207.23,369.56 207.51,369.55 207.79,369.55 208.07,369.55 208.35,369.55 208.64,369.54 208.92,369.54 209.20,369.54 209.48,369.54 209.76,369.54 210.04,369.53 210.32,369.53 210.60,369.53" fill="none" stroke="#00f" stroke-width="1.5" stroke-linejoin="round" stroke-linecap="square"/>
</g>
<rect x="34.25" y="363.80" width="184.55" height="127.60" fill="none" stroke="#444" stroke-width="1"/>
<line x1="42.50" y1="491.40" x2="42.50" y2="494.20" stroke="#333" stroke-width="0.9"/>
<text x="42.50" y="503.10" text-anchor="middle" font-size="8.2" textLength="15.27" lengthAdjust="spacingAndGlyphs" >400</text>
<line x1="70.63" y1="491.40" x2="70.63" y2="494.20" stroke="#333" stroke-width="0.9"/>
<text x="70.63" y="503.10" text-anchor="middle" font-size="8.2" textLength="15.27" lengthAdjust="spacingAndGlyphs" >500</text>
<line x1="98.76" y1="491.40" x2="98.76" y2="494.20" stroke="#333" stroke-width="0.9"/>
<text x="98.76" y="503.10" text-anchor="middle" font-size="8.2" textLength="15.27" lengthAdjust="spacingAndGlyphs" >600</text>
<line x1="126.89" y1="491.40" x2="126.89" y2="494.20" stroke="#333" stroke-width="0.9"/>
<text x="126.89" y="503.10" text-anchor="middle" font-size="8.2" textLength="15.27" lengthAdjust="spacingAndGlyphs" >700</text>
<line x1="155.02" y1="491.40" x2="155.02" y2="494.20" stroke="#333" stroke-width="0.9"/>
<text x="155.02" y="503.10" text-anchor="middle" font-size="8.2" textLength="15.27" lengthAdjust="spacingAndGlyphs" >800</text>
<line x1="183.15" y1="491.40" x2="183.15" y2="494.20" stroke="#333" stroke-width="0.9"/>
<text x="183.15" y="503.10" text-anchor="middle" font-size="8.2" textLength="15.27" lengthAdjust="spacingAndGlyphs" >900</text>
<line x1="211.28" y1="491.40" x2="211.28" y2="494.20" stroke="#333" stroke-width="0.9"/>
<text x="211.28" y="503.10" text-anchor="middle" font-size="8.2" textLength="20.36" lengthAdjust="spacingAndGlyphs" >1000</text>
<line x1="31.45" y1="474.89" x2="34.25" y2="474.89" stroke="#333" stroke-width="0.9"/>
<text x="28.25" y="477.79" text-anchor="end" font-size="8.2" textLength="16.88" lengthAdjust="spacingAndGlyphs" >−20</text>
<line x1="31.45" y1="445.96" x2="34.25" y2="445.96" stroke="#333" stroke-width="0.9"/>
<text x="28.25" y="448.86" text-anchor="end" font-size="8.2" textLength="16.88" lengthAdjust="spacingAndGlyphs" >−15</text>
<line x1="31.45" y1="417.03" x2="34.25" y2="417.03" stroke="#333" stroke-width="0.9"/>
<text x="28.25" y="419.93" text-anchor="end" font-size="8.2" textLength="16.88" lengthAdjust="spacingAndGlyphs" >−10</text>
<line x1="31.45" y1="388.10" x2="34.25" y2="388.10" stroke="#333" stroke-width="0.9"/>
<text x="28.25" y="391.00" text-anchor="end" font-size="8.2" textLength="11.79" lengthAdjust="spacingAndGlyphs" >−5</text>
<text x="126.53" y="514.60" text-anchor="middle" font-size="8.2" textLength="63.53" lengthAdjust="spacingAndGlyphs" >Wavelength/nm</text>
<text transform="translate(7.20,427.60) rotate(-90)" x="0" y="0" text-anchor="middle" font-size="8.2" textLength="47.27" lengthAdjust="spacingAndGlyphs">Reflectance</text>
<text x="102.40" y="358.55" font-size="10.3" font-weight="normal" style="stroke-width:0.5px" textLength="50.20" lengthAdjust="spacingAndGlyphs">FDRL-CARS</text>
<text x="35.10" y="358.00" font-size="13.3" font-weight="bold" style="font-family:Liberation Serif,serif">g</text>
<rect x="118.56" y="414.60" width="96.24" height="26.00" rx="1.6" fill="#fff" fill-opacity="0.8" stroke="#ccc" stroke-width="0.8"/>
<line x1="120.96" y1="421.20" x2="138.46" y2="421.20" stroke="#00f" stroke-width="1.5"/>
<circle cx="129.76" cy="433.80" r="3.0" fill="#f00"/>
<text x="144.96" y="424.20" text-anchor="start" font-size="8.2" textLength="20.78" lengthAdjust="spacingAndGlyphs" >FDRL</text>
<text x="144.96" y="435.80" text-anchor="start" font-size="8.2" textLength="66.24" lengthAdjust="spacingAndGlyphs" >Feature band 71</text>
<clipPath id="cliph"><rect x="265.95" y="363.80" width="184.55" height="127.60"/></clipPath>
<g clip-path="url(#cliph)">
<circle cx="274.39" cy="455.70" r="3.0" fill="#f00"/>
<circle cx="275.09" cy="466.11" r="3.0" fill="#f00"/>
<circle cx="275.97" cy="472.28" r="3.0" fill="#f00"/>
<circle cx="276.84" cy="475.82" r="3.0" fill="#f00"/>
<circle cx="277.72" cy="478.39" r="3.0" fill="#f00"/>
<circle cx="278.60" cy="480.23" r="3.0" fill="#f00"/>
<circle cx="279.47" cy="481.64" r="3.0" fill="#f00"/>
<circle cx="280.35" cy="482.83" r="3.0" fill="#f00"/>
<circle cx="281.22" cy="483.74" r="3.0" fill="#f00"/>
<circle cx="282.10" cy="484.37" r="3.0" fill="#f00"/>
<circle cx="282.97" cy="484.91" r="3.0" fill="#f00"/>
<circle cx="283.85" cy="485.34" r="3.0" fill="#f00"/>
<circle cx="284.72" cy="485.58" r="3.0" fill="#f00"/>
<circle cx="285.60" cy="485.48" r="3.0" fill="#f00"/>
<circle cx="286.47" cy="484.99" r="3.0" fill="#f00"/>
<circle cx="287.35" cy="484.37" r="3.0" fill="#f00"/>
<circle cx="288.23" cy="483.88" r="3.0" fill="#f00"/>
<circle cx="289.10" cy="483.56" r="3.0" fill="#f00"/>
<circle cx="289.98" cy="483.26" r="3.0" fill="#f00"/>
<circle cx="290.85" cy="483.05" r="3.0" fill="#f00"/>
<circle cx="291.73" cy="482.99" r="3.0" fill="#f00"/>
<circle cx="292.60" cy="483.06" r="3.0" fill="#f00"/>
<circle cx="293.48" cy="483.18" r="3.0" fill="#f00"/>
<circle cx="294.35" cy="483.27" r="3.0" fill="#f00"/>
<circle cx="295.23" cy="483.23" r="3.0" fill="#f00"/>
<circle cx="296.10" cy="482.93" r="3.0" fill="#f00"/>
<circle cx="296.98" cy="482.47" r="3.0" fill="#f00"/>
<circle cx="297.86" cy="481.95" r="3.0" fill="#f00"/>
<circle cx="298.73" cy="481.47" r="3.0" fill="#f00"/>
<circle cx="299.61" cy="480.94" r="3.0" fill="#f00"/>
<circle cx="300.48" cy="480.29" r="3.0" fill="#f00"/>
<circle cx="301.36" cy="479.47" r="3.0" fill="#f00"/>
<circle cx="302.23" cy="478.33" r="3.0" fill="#f00"/>
<circle cx="303.11" cy="476.70" r="3.0" fill="#f00"/>
<circle cx="303.98" cy="474.47" r="3.0" fill="#f00"/>
<circle cx="304.86" cy="470.28" r="3.0" fill="#f00"/>
<circle cx="305.73" cy="464.42" r="3.0" fill="#f00"/>
<circle cx="306.61" cy="457.71" r="3.0" fill="#f00"/>
<circle cx="307.48" cy="450.64" r="3.0" fill="#f00"/>
<circle cx="308.36" cy="443.39" r="3.0" fill="#f00"/>
<circle cx="309.24" cy="435.77" r="3.0" fill="#f00"/>
<circle cx="310.11" cy="428.61" r="3.0" fill="#f00"/>
<circle cx="310.99" cy="422.73" r="3.0" fill="#f00"/>
<circle cx="311.86" cy="418.36" r="3.0" fill="#f00"/>
<circle cx="312.74" cy="415.76" r="3.0" fill="#f00"/>
<circle cx="313.61" cy="413.85" r="3.0" fill="#f00"/>
<circle cx="314.49" cy="412.84" r="3.0" fill="#f00"/>
<circle cx="315.36" cy="412.23" r="3.0" fill="#f00"/>
<circle cx="316.24" cy="411.74" r="3.0" fill="#f00"/>
<circle cx="317.11" cy="411.41" r="3.0" fill="#f00"/>
<circle cx="317.99" cy="411.25" r="3.0" fill="#f00"/>
<circle cx="318.87" cy="411.39" r="3.0" fill="#f00"/>
<circle cx="319.74" cy="411.97" r="3.0" fill="#f00"/>
<circle cx="320.62" cy="412.89" r="3.0" fill="#f00"/>
<circle cx="321.49" cy="414.06" r="3.0" fill="#f00"/>
<circle cx="322.37" cy="415.39" r="3.0" fill="#f00"/>
<circle cx="323.24" cy="417.61" r="3.0" fill="#f00"/>
<circle cx="324.12" cy="420.64" r="3.0" fill="#f00"/>
<circle cx="324.99" cy="423.78" r="3.0" fill="#f00"/>
<circle cx="325.87" cy="426.52" r="3.0" fill="#f00"/>
<circle cx="326.74" cy="429.27" r="3.0" fill="#f00"/>
<circle cx="327.62" cy="431.87" r="3.0" fill="#f00"/>
<circle cx="328.50" cy="434.01" r="3.0" fill="#f00"/>
<circle cx="329.37" cy="435.60" r="3.0" fill="#f00"/>
<circle cx="330.25" cy="436.92" r="3.0" fill="#f00"/>
<circle cx="331.12" cy="438.10" r="3.0" fill="#f00"/>
<circle cx="332.00" cy="439.28" r="3.0" fill="#f00"/>
<circle cx="332.87" cy="440.35" r="3.0" fill="#f00"/>
<circle cx="333.75" cy="441.38" r="3.0" fill="#f00"/>
<circle cx="334.62" cy="442.53" r="3.0" fill="#f00"/>
<circle cx="335.50" cy="444.02" r="3.0" fill="#f00"/>
<circle cx="336.37" cy="446.03" r="3.0" fill="#f00"/>
<circle cx="337.25" cy="448.13" r="3.0" fill="#f00"/>
<circle cx="338.12" cy="449.87" r="3.0" fill="#f00"/>
<circle cx="339.00" cy="451.07" r="3.0" fill="#f00"/>
<circle cx="339.88" cy="452.02" r="3.0" fill="#f00"/>
<circle cx="340.75" cy="452.90" r="3.0" fill="#f00"/>
<circle cx="341.63" cy="453.87" r="3.0" fill="#f00"/>
<circle cx="342.50" cy="455.08" r="3.0" fill="#f00"/>
<circle cx="343.38" cy="456.62" r="3.0" fill="#f00"/>
<circle cx="344.25" cy="458.37" r="3.0" fill="#f00"/>
<circle cx="345.13" cy="460.20" r="3.0" fill="#f00"/>
<circle cx="346.00" cy="461.99" r="3.0" fill="#f00"/>
<circle cx="346.88" cy="463.68" r="3.0" fill="#f00"/>
<circle cx="347.75" cy="465.35" r="3.0" fill="#f00"/>
<circle cx="348.63" cy="467.07" r="3.0" fill="#f00"/>
<circle cx="349.51" cy="468.95" r="3.0" fill="#f00"/>
<circle cx="350.38" cy="471.55" r="3.0" fill="#f00"/>
<circle cx="351.26" cy="474.01" r="3.0" fill="#f00"/>
<circle cx="352.13" cy="474.88" r="3.0" fill="#f00"/>
<circle cx="353.01" cy="474.50" r="3.0" fill="#f00"/>
<circle cx="353.88" cy="473.69" r="3.0" fill="#f00"/>
<circle cx="354.76" cy="472.14" r="3.0" fill="#f00"/>
<circle cx="355.63" cy="469.03" r="3.0" fill="#f00"/>
<circle cx="356.51" cy="464.05" r="3.0" fill="#f00"/>
<circle cx="357.38" cy="455.81" r="3.0" fill="#f00"/>
<circle cx="358.26" cy="444.49" r="3.0" fill="#f00"/>
<circle cx="359.13" cy="431.90" r="3.0" fill="#f00"/>
<circle cx="360.01" cy="416.89" r="3.0" fill="#f00"/>
<circle cx="360.89" cy="403.62" r="3.0" fill="#f00"/>
<circle cx="361.76" cy="394.76" r="3.0" fill="#f00"/>
<circle cx="362.64" cy="388.40" r="3.0" fill="#f00"/>
<circle cx="363.51" cy="383.73" r="3.0" fill="#f00"/>
<circle cx="364.39" cy="380.44" r="3.0" fill="#f00"/>
<circle cx="365.26" cy="377.85" r="3.0" fill="#f00"/>
<circle cx="366.14" cy="375.94" r="3.0" fill="#f00"/>
<circle cx="367.01" cy="374.44" r="3.0" fill="#f00"/>
<circle cx="367.89" cy="373.30" r="3.0" fill="#f00"/>
<circle cx="368.76" cy="372.52" r="3.0" fill="#f00"/>
<circle cx="369.64" cy="371.86" r="3.0" fill="#f00"/>
<circle cx="370.52" cy="371.39" r="3.0" fill="#f00"/>
<circle cx="371.39" cy="371.14" r="3.0" fill="#f00"/>
<circle cx="372.27" cy="370.97" r="3.0" fill="#f00"/>
<circle cx="373.14" cy="370.82" r="3.0" fill="#f00"/>
<circle cx="374.02" cy="370.68" r="3.0" fill="#f00"/>
<circle cx="374.89" cy="370.56" r="3.0" fill="#f00"/>
<circle cx="375.77" cy="370.45" r="3.0" fill="#f00"/>
<circle cx="381.28" cy="370.10" r="3.0" fill="#f00"/>
<circle cx="382.64" cy="370.08" r="3.0" fill="#f00"/>
<circle cx="384.00" cy="370.05" r="3.0" fill="#f00"/>
<circle cx="385.37" cy="370.03" r="3.0" fill="#f00"/>
<circle cx="386.73" cy="370.01" r="3.0" fill="#f00"/>
<circle cx="388.09" cy="369.99" r="3.0" fill="#f00"/>
<circle cx="389.45" cy="369.97" r="3.0" fill="#f00"/>
<circle cx="390.81" cy="369.96" r="3.0" fill="#f00"/>
<circle cx="392.17" cy="369.95" r="3.0" fill="#f00"/>
<circle cx="393.53" cy="369.94" r="3.0" fill="#f00"/>
<circle cx="394.90" cy="369.92" r="3.0" fill="#f00"/>
<circle cx="404.63" cy="369.86" r="3.0" fill="#f00"/>
<circle cx="406.00" cy="369.85" r="3.0" fill="#f00"/>
<circle cx="407.37" cy="369.84" r="3.0" fill="#f00"/>
<circle cx="408.75" cy="369.83" r="3.0" fill="#f00"/>
<circle cx="410.12" cy="369.82" r="3.0" fill="#f00"/>
<circle cx="411.49" cy="369.81" r="3.0" fill="#f00"/>
<circle cx="412.86" cy="369.79" r="3.0" fill="#f00"/>
<circle cx="414.23" cy="369.78" r="3.0" fill="#f00"/>
<circle cx="415.60" cy="369.77" r="3.0" fill="#f00"/>
<circle cx="416.98" cy="369.75" r="3.0" fill="#f00"/>
<circle cx="418.35" cy="369.74" r="3.0" fill="#f00"/>
<circle cx="419.72" cy="369.73" r="3.0" fill="#f00"/>
<circle cx="421.09" cy="369.72" r="3.0" fill="#f00"/>
<circle cx="422.46" cy="369.70" r="3.0" fill="#f00"/>
<circle cx="426.40" cy="369.67" r="3.0" fill="#f00"/>
<circle cx="427.78" cy="369.66" r="3.0" fill="#f00"/>
<circle cx="429.15" cy="369.64" r="3.0" fill="#f00"/>
<circle cx="430.53" cy="369.63" r="3.0" fill="#f00"/>
<circle cx="431.90" cy="369.62" r="3.0" fill="#f00"/>
<circle cx="433.28" cy="369.61" r="3.0" fill="#f00"/>
<circle cx="434.65" cy="369.60" r="3.0" fill="#f00"/>
<circle cx="436.03" cy="369.58" r="3.0" fill="#f00"/>
<circle cx="437.40" cy="369.57" r="3.0" fill="#f00"/>
<circle cx="438.78" cy="369.56" r="3.0" fill="#f00"/>
<polyline points="274.39,455.70 274.67,460.34 274.95,464.38 275.23,467.47 275.51,469.60 275.79,471.35 276.08,472.80 276.36,474.03 276.64,475.09 276.92,476.07 277.20,476.95 277.48,477.76 277.76,478.50 278.04,479.15 278.33,479.73 278.61,480.25 278.89,480.72 279.17,481.18 279.45,481.61 279.73,482.02 280.01,482.41 280.29,482.76 280.58,483.09 280.86,483.39 281.14,483.66 281.42,483.90 281.70,484.11 281.98,484.30 282.26,484.48 282.55,484.66 282.83,484.83 283.11,484.99 283.39,485.14 283.67,485.27 283.95,485.38 284.23,485.48 284.51,485.54 284.80,485.58 285.08,485.59 285.36,485.55 285.64,485.46 285.92,485.33 286.20,485.17 286.48,484.99 286.76,484.79 287.05,484.59 287.33,484.39 287.61,484.20 287.89,484.04 288.17,483.90 288.45,483.80 288.73,483.69 289.02,483.59 289.30,483.49 289.58,483.39 289.86,483.30 290.14,483.21 290.42,483.14 290.70,483.08 290.98,483.03 291.27,483.00 291.55,482.99 291.83,483.00 292.11,483.01 292.39,483.04 292.67,483.07 292.95,483.11 293.23,483.15 293.52,483.18 293.80,483.22 294.08,483.25 294.36,483.27 294.64,483.28 294.92,483.27 295.20,483.24 295.48,483.17 295.77,483.07 296.05,482.96 296.33,482.82 296.61,482.68 296.89,482.52 297.17,482.35 297.45,482.19 297.74,482.02 298.02,481.86 298.30,481.71 298.58,481.56 298.86,481.40 299.14,481.23 299.42,481.06 299.70,480.87 299.99,480.68 300.27,480.47 300.55,480.24 300.83,479.99 301.11,479.72 301.39,479.43 301.67,479.10 301.95,478.73 302.24,478.32 302.52,477.86 302.80,477.34 303.08,476.76 303.36,476.12 303.64,475.42 303.92,474.64 304.21,473.73 304.49,472.44 304.77,470.84 305.05,469.05 305.33,467.15 305.61,465.24 305.89,463.29 306.17,461.17 306.46,458.95 306.74,456.67 307.02,454.41 307.30,452.15 307.58,449.86 307.86,447.53 308.14,445.19 308.42,442.85 308.71,440.47 308.99,437.99 309.27,435.47 309.55,433.01 309.83,430.69 310.11,428.60 310.39,426.66 310.68,424.74 310.96,422.92 311.24,421.24 311.52,419.78 311.80,418.58 312.08,417.65 312.36,416.80 312.64,416.01 312.93,415.28 313.21,414.63 313.49,414.07 313.77,413.60 314.05,413.22 314.33,412.96 314.61,412.74 314.89,412.54 315.18,412.35 315.46,412.17 315.74,412.00 316.02,411.85 316.30,411.71 316.58,411.59 316.86,411.48 317.15,411.40 317.43,411.33 317.71,411.28 317.99,411.25 318.27,411.25 318.55,411.28 318.83,411.37 319.11,411.51 319.40,411.69 319.68,411.91 319.96,412.17 320.24,412.46 320.52,412.78 320.80,413.13 321.08,413.49 321.36,413.88 321.65,414.28 321.93,414.70 322.21,415.12 322.49,415.62 322.77,416.27 323.05,417.04 323.33,417.90 323.61,418.84 323.90,419.84 324.18,420.86 324.46,421.89 324.74,422.90 325.02,423.87 325.30,424.79 325.58,425.64 325.87,426.51 326.15,427.39 326.43,428.28 326.71,429.16 326.99,430.03 327.27,430.88 327.55,431.69 327.83,432.45 328.12,433.16 328.40,433.81 328.68,434.38 328.96,434.90 329.24,435.39 329.52,435.85 329.80,436.28 330.08,436.69 330.37,437.09 330.65,437.47 330.93,437.85 331.21,438.22 331.49,438.60 331.77,438.98 332.05,439.36 332.34,439.71 332.62,440.05 332.90,440.38 333.18,440.71 333.46,441.04 333.74,441.37 334.02,441.72 334.30,442.08 334.59,442.47 334.87,442.89 335.15,443.35 335.43,443.88 335.71,444.48 335.99,445.11 336.27,445.78 336.55,446.47 336.84,447.15 337.12,447.82 337.40,448.46 337.68,449.06 337.96,449.59 338.24,450.05 338.52,450.46 338.81,450.83 339.09,451.17 339.37,451.49 339.65,451.79 339.93,452.08 340.21,452.36 340.49,452.64 340.77,452.92 341.06,453.22 341.34,453.53 341.62,453.86 341.90,454.21 342.18,454.60 342.46,455.02 342.74,455.48 343.02,455.97 343.31,456.49 343.59,457.03 343.87,457.58 344.15,458.16 344.43,458.74 344.71,459.33 344.99,459.92 345.28,460.51 345.56,461.09 345.84,461.66 346.12,462.22 346.40,462.76 346.68,463.30 346.96,463.84 347.24,464.37 347.53,464.91 347.81,465.45 348.09,465.99 348.37,466.55 348.65,467.11 348.93,467.69 349.21,468.28 349.49,468.92 349.78,469.68 350.06,470.53 350.34,471.42 350.62,472.30 350.90,473.13 351.18,473.85 351.46,474.41 351.74,474.78 352.03,474.89 352.31,474.85 352.59,474.75 352.87,474.59 353.15,474.39 353.43,474.15 353.71,473.87 354.00,473.57 354.28,473.21 354.56,472.64 354.84,471.91 355.12,471.06 355.40,470.03 355.68,468.80 355.96,467.36 356.25,465.74 356.53,463.92 356.81,461.87 357.09,459.19 357.37,455.97 357.65,452.42 357.93,448.73 358.21,445.08 358.50,441.26 358.78,437.24 359.06,433.05 359.34,428.74 359.62,423.99 359.90,418.87 360.18,413.78 360.47,409.12 360.75,405.28 361.03,401.99 361.31,398.98 361.59,396.27 361.87,393.83 362.15,391.68 362.43,389.72 362.72,387.91 363.00,386.26 363.28,384.80 363.56,383.53 363.84,382.41 364.12,381.36 364.40,380.39 364.68,379.48 364.97,378.65 365.25,377.89 365.53,377.20 365.81,376.58 366.09,376.03 366.37,375.50 366.65,375.01 366.94,374.56 367.22,374.14 367.50,373.76 367.78,373.42 368.06,373.13 368.34,372.87 368.62,372.63 368.90,372.40 369.19,372.18 369.47,371.98 369.75,371.79 370.03,371.63 370.31,371.48 370.59,371.36 370.87,371.26 371.15,371.19 371.44,371.13 371.72,371.08 372.00,371.02 372.28,370.97 372.56,370.92 372.84,370.87 373.12,370.82 373.41,370.77 373.69,370.73 373.97,370.69 374.25,370.64 374.53,370.61 374.81,370.57 375.09,370.53 375.37,370.50 375.66,370.46 375.94,370.43 376.22,370.40 376.50,370.37 376.78,370.35 377.06,370.32 377.34,370.30 377.62,370.27 377.91,370.25 378.19,370.23 378.47,370.22 378.75,370.20 379.03,370.18 379.31,370.17 379.59,370.15 379.87,370.14 380.16,370.13 380.44,370.12 380.72,370.11 381.00,370.11 381.28,370.10 381.56,370.10 381.84,370.09 382.13,370.09 382.41,370.08 382.69,370.07 382.97,370.07 383.25,370.06 383.53,370.06 383.81,370.05 384.09,370.05 384.38,370.04 384.66,370.04 384.94,370.04 385.22,370.03 385.50,370.03 385.78,370.02 386.06,370.02 386.34,370.01 386.63,370.01 386.91,370.01 387.19,370.00 387.47,370.00 387.75,370.00 388.03,369.99 388.31,369.99 388.60,369.98 388.88,369.98 389.16,369.98 389.44,369.97 389.72,369.97 390.00,369.97 390.28,369.97 390.56,369.96 390.85,369.96 391.13,369.96 391.41,369.95 391.69,369.95 391.97,369.95 392.25,369.95 392.53,369.94 392.81,369.94 393.10,369.94 393.38,369.94 393.66,369.93 393.94,369.93 394.22,369.93 394.50,369.93 394.78,369.93 395.07,369.92 395.35,369.92 395.63,369.92 395.91,369.92 396.19,369.92 396.47,369.91 396.75,369.91 397.03,369.91 397.32,369.91 397.60,369.91 397.88,369.90 398.16,369.90 398.44,369.90 398.72,369.90 399.00,369.90 399.28,369.89 399.57,369.89 399.85,369.89 400.13,369.89 400.41,369.89 400.69,369.89 400.97,369.88 401.25,369.88 401.54,369.88 401.82,369.88 402.10,369.88 402.38,369.88 402.66,369.87 402.94,369.87 403.22,369.87 403.50,369.87 403.79,369.87 404.07,369.86 404.35,369.86 404.63,369.86 404.91,369.86 405.19,369.86 405.47,369.86 405.75,369.85 406.04,369.85 406.32,369.85 406.60,369.85 406.88,369.85 407.16,369.84 407.44,369.84 407.72,369.84 408.00,369.84 408.29,369.83 408.57,369.83 408.85,369.83 409.13,369.83 409.41,369.82 409.69,369.82 409.97,369.82 410.26,369.82 410.54,369.81 410.82,369.81 411.10,369.81 411.38,369.81 411.66,369.80 411.94,369.80 412.22,369.80 412.51,369.80 412.79,369.79 413.07,369.79 413.35,369.79 413.63,369.79 413.91,369.78 414.19,369.78 414.47,369.78 414.76,369.78 415.04,369.77 415.32,369.77 415.60,369.77 415.88,369.76 416.16,369.76 416.44,369.76 416.73,369.76 417.01,369.75 417.29,369.75 417.57,369.75 417.85,369.75 418.13,369.74 418.41,369.74 418.69,369.74 418.98,369.74 419.26,369.73 419.54,369.73 419.82,369.73 420.10,369.73 420.38,369.72 420.66,369.72 420.94,369.72 421.23,369.72 421.51,369.71 421.79,369.71 422.07,369.71 422.35,369.71 422.63,369.70 422.91,369.70 423.20,369.70 423.48,369.70 423.76,369.69 424.04,369.69 424.32,369.69 424.60,369.69 424.88,369.68 425.16,369.68 425.45,369.68 425.73,369.68 426.01,369.67 426.29,369.67 426.57,369.67 426.85,369.66 427.13,369.66 427.41,369.66 427.70,369.66 427.98,369.65 428.26,369.65 428.54,369.65 428.82,369.65 429.10,369.64 429.38,369.64 429.67,369.64 429.95,369.64 430.23,369.63 430.51,369.63 430.79,369.63 431.07,369.63 431.35,369.63 431.63,369.62 431.92,369.62 432.20,369.62 432.48,369.62 432.76,369.61 433.04,369.61 433.32,369.61 433.60,369.61 433.88,369.60 434.17,369.60 434.45,369.60 434.73,369.60 435.01,369.59 435.29,369.59 435.57,369.59 435.85,369.59 436.13,369.58 436.42,369.58 436.70,369.58 436.98,369.58 437.26,369.57 437.54,369.57 437.82,369.57 438.10,369.57 438.39,369.56 438.67,369.56 438.95,369.56 439.23,369.56 439.51,369.55 439.79,369.55 440.07,369.55 440.35,369.55 440.64,369.54 440.92,369.54 441.20,369.54 441.48,369.54 441.76,369.54 442.04,369.53 442.32,369.53 442.60,369.53" fill="none" stroke="#00f" stroke-width="1.5" stroke-linejoin="round" stroke-linecap="square"/>
</g>
<rect x="265.95" y="363.80" width="184.55" height="127.60" fill="none" stroke="#444" stroke-width="1"/>
<line x1="274.50" y1="491.40" x2="274.50" y2="494.20" stroke="#333" stroke-width="0.9"/>
<text x="274.50" y="503.10" text-anchor="middle" font-size="8.2" textLength="15.27" lengthAdjust="spacingAndGlyphs" >400</text>
<line x1="302.63" y1="491.40" x2="302.63" y2="494.20" stroke="#333" stroke-width="0.9"/>
<text x="302.63" y="503.10" text-anchor="middle" font-size="8.2" textLength="15.27" lengthAdjust="spacingAndGlyphs" >500</text>
<line x1="330.76" y1="491.40" x2="330.76" y2="494.20" stroke="#333" stroke-width="0.9"/>
<text x="330.76" y="503.10" text-anchor="middle" font-size="8.2" textLength="15.27" lengthAdjust="spacingAndGlyphs" >600</text>
<line x1="358.89" y1="491.40" x2="358.89" y2="494.20" stroke="#333" stroke-width="0.9"/>
<text x="358.89" y="503.10" text-anchor="middle" font-size="8.2" textLength="15.27" lengthAdjust="spacingAndGlyphs" >700</text>
<line x1="387.02" y1="491.40" x2="387.02" y2="494.20" stroke="#333" stroke-width="0.9"/>
<text x="387.02" y="503.10" text-anchor="middle" font-size="8.2" textLength="15.27" lengthAdjust="spacingAndGlyphs" >800</text>
<line x1="415.15" y1="491.40" x2="415.15" y2="494.20" stroke="#333" stroke-width="0.9"/>
<text x="415.15" y="503.10" text-anchor="middle" font-size="8.2" textLength="15.27" lengthAdjust="spacingAndGlyphs" >900</text>
<line x1="443.28" y1="491.40" x2="443.28" y2="494.20" stroke="#333" stroke-width="0.9"/>
<text x="443.28" y="503.10" text-anchor="middle" font-size="8.2" textLength="20.36" lengthAdjust="spacingAndGlyphs" >1000</text>
<line x1="263.15" y1="474.89" x2="265.95" y2="474.89" stroke="#333" stroke-width="0.9"/>
<text x="259.95" y="477.79" text-anchor="end" font-size="8.2" textLength="16.88" lengthAdjust="spacingAndGlyphs" >−20</text>
<line x1="263.15" y1="445.96" x2="265.95" y2="445.96" stroke="#333" stroke-width="0.9"/>
<text x="259.95" y="448.86" text-anchor="end" font-size="8.2" textLength="16.88" lengthAdjust="spacingAndGlyphs" >−15</text>
<line x1="263.15" y1="417.03" x2="265.95" y2="417.03" stroke="#333" stroke-width="0.9"/>
<text x="259.95" y="419.93" text-anchor="end" font-size="8.2" textLength="16.88" lengthAdjust="spacingAndGlyphs" >−10</text>
<line x1="263.15" y1="388.10" x2="265.95" y2="388.10" stroke="#333" stroke-width="0.9"/>
<text x="259.95" y="391.00" text-anchor="end" font-size="8.2" textLength="11.79" lengthAdjust="spacingAndGlyphs" >−5</text>
<text x="358.23" y="514.60" text-anchor="middle" font-size="8.2" textLength="63.53" lengthAdjust="spacingAndGlyphs" >Wavelength/nm</text>
<text transform="translate(238.90,427.60) rotate(-90)" x="0" y="0" text-anchor="middle" font-size="8.2" textLength="47.27" lengthAdjust="spacingAndGlyphs">Reflectance</text>
<text x="335.90" y="358.55" font-size="10.3" font-weight="normal" style="stroke-width:0.5px" textLength="54.90" lengthAdjust="spacingAndGlyphs">FDRL-LASSO</text>
<text x="266.60" y="357.70" font-size="14" font-weight="normal" style="stroke-width:0.45px">h</text>
<rect x="345.17" y="414.60" width="101.33" height="26.00" rx="1.6" fill="#fff" fill-opacity="0.8" stroke="#ccc" stroke-width="0.8"/>
<line x1="347.57" y1="421.20" x2="365.07" y2="421.20" stroke="#00f" stroke-width="1.5"/>
<circle cx="356.37" cy="433.80" r="3.0" fill="#f00"/>
<text x="371.57" y="424.20" text-anchor="start" font-size="8.2" textLength="20.78" lengthAdjust="spacingAndGlyphs" >FDRL</text>
<text x="371.57" y="435.80" text-anchor="start" font-size="8.2" textLength="71.33" lengthAdjust="spacingAndGlyphs" >Feature band 135</text>
<clipPath id="clipi"><rect x="497.75" y="363.80" width="184.55" height="127.60"/></clipPath>
<g clip-path="url(#clipi)">
<circle cx="507.43" cy="470.34" r="3.0" fill="#f00"/>
<circle cx="509.39" cy="478.07" r="3.0" fill="#f00"/>
<circle cx="511.36" cy="481.78" r="3.0" fill="#f00"/>
<circle cx="523.18" cy="482.99" r="3.0" fill="#f00"/>
<circle cx="528.52" cy="482.61" r="3.0" fill="#f00"/>
<circle cx="530.35" cy="481.57" r="3.0" fill="#f00"/>
<circle cx="532.18" cy="480.38" r="3.0" fill="#f00"/>
<circle cx="534.01" cy="478.36" r="3.0" fill="#f00"/>
<circle cx="542.31" cy="425.88" r="3.0" fill="#f00"/>
<circle cx="543.71" cy="418.19" r="3.0" fill="#f00"/>
<circle cx="544.79" cy="415.12" r="3.0" fill="#f00"/>
<circle cx="545.87" cy="413.20" r="3.0" fill="#f00"/>
<circle cx="546.95" cy="412.37" r="3.0" fill="#f00"/>
<circle cx="548.03" cy="411.75" r="3.0" fill="#f00"/>
<circle cx="549.10" cy="411.36" r="3.0" fill="#f00"/>
<circle cx="550.18" cy="411.25" r="3.0" fill="#f00"/>
<circle cx="551.26" cy="411.74" r="3.0" fill="#f00"/>
<circle cx="552.34" cy="412.80" r="3.0" fill="#f00"/>
<circle cx="553.42" cy="414.24" r="3.0" fill="#f00"/>
<circle cx="554.50" cy="416.09" r="3.0" fill="#f00"/>
<circle cx="555.57" cy="419.40" r="3.0" fill="#f00"/>
<circle cx="556.65" cy="423.30" r="3.0" fill="#f00"/>
<circle cx="557.73" cy="426.71" r="3.0" fill="#f00"/>
<circle cx="558.81" cy="430.09" r="3.0" fill="#f00"/>
<circle cx="559.89" cy="433.10" r="3.0" fill="#f00"/>
<circle cx="560.97" cy="435.26" r="3.0" fill="#f00"/>
<circle cx="562.04" cy="436.92" r="3.0" fill="#f00"/>
<circle cx="563.12" cy="438.37" r="3.0" fill="#f00"/>
<circle cx="564.20" cy="439.79" r="3.0" fill="#f00"/>
<circle cx="565.28" cy="441.06" r="3.0" fill="#f00"/>
<circle cx="566.36" cy="442.43" r="3.0" fill="#f00"/>
<circle cx="567.44" cy="444.31" r="3.0" fill="#f00"/>
<circle cx="568.51" cy="446.86" r="3.0" fill="#f00"/>
<circle cx="569.59" cy="449.28" r="3.0" fill="#f00"/>
<circle cx="570.67" cy="450.91" r="3.0" fill="#f00"/>
<circle cx="571.75" cy="452.10" r="3.0" fill="#f00"/>
<circle cx="572.83" cy="453.19" r="3.0" fill="#f00"/>
<circle cx="573.91" cy="454.49" r="3.0" fill="#f00"/>
<circle cx="574.98" cy="456.26" r="3.0" fill="#f00"/>
<circle cx="576.06" cy="458.39" r="3.0" fill="#f00"/>
<circle cx="577.14" cy="460.64" r="3.0" fill="#f00"/>
<circle cx="578.22" cy="462.80" r="3.0" fill="#f00"/>
<circle cx="579.30" cy="464.85" r="3.0" fill="#f00"/>
<circle cx="580.70" cy="467.63" r="3.0" fill="#f00"/>
<circle cx="581.91" cy="470.70" r="3.0" fill="#f00"/>
<circle cx="583.12" cy="474.15" r="3.0" fill="#f00"/>
<circle cx="584.33" cy="474.77" r="3.0" fill="#f00"/>
<circle cx="585.54" cy="473.84" r="3.0" fill="#f00"/>
<circle cx="586.75" cy="471.59" r="3.0" fill="#f00"/>
<circle cx="587.97" cy="466.21" r="3.0" fill="#f00"/>
<circle cx="588.88" cy="459.27" r="3.0" fill="#f00"/>
<circle cx="590.85" cy="433.23" r="3.0" fill="#f00"/>
<circle cx="591.77" cy="417.61" r="3.0" fill="#f00"/>
<circle cx="592.53" cy="405.46" r="3.0" fill="#f00"/>
<circle cx="594.26" cy="389.55" r="3.0" fill="#f00"/>
<circle cx="595.24" cy="384.05" r="3.0" fill="#f00"/>
<circle cx="596.50" cy="379.42" r="3.0" fill="#f00"/>
<circle cx="598.57" cy="374.83" r="3.0" fill="#f00"/>
<circle cx="599.65" cy="373.35" r="3.0" fill="#f00"/>
<circle cx="600.73" cy="372.38" r="3.0" fill="#f00"/>
<circle cx="601.81" cy="371.64" r="3.0" fill="#f00"/>
<circle cx="602.90" cy="371.21" r="3.0" fill="#f00"/>
<circle cx="603.98" cy="370.99" r="3.0" fill="#f00"/>
<circle cx="605.06" cy="370.80" r="3.0" fill="#f00"/>
<circle cx="606.14" cy="370.63" r="3.0" fill="#f00"/>
<circle cx="607.23" cy="370.49" r="3.0" fill="#f00"/>
<circle cx="608.31" cy="370.37" r="3.0" fill="#f00"/>
<circle cx="609.39" cy="370.28" r="3.0" fill="#f00"/>
<circle cx="610.47" cy="370.20" r="3.0" fill="#f00"/>
<circle cx="611.56" cy="370.15" r="3.0" fill="#f00"/>
<circle cx="612.64" cy="370.11" r="3.0" fill="#f00"/>
<circle cx="613.72" cy="370.09" r="3.0" fill="#f00"/>
<circle cx="614.81" cy="370.07" r="3.0" fill="#f00"/>
<circle cx="615.89" cy="370.05" r="3.0" fill="#f00"/>
<circle cx="616.97" cy="370.03" r="3.0" fill="#f00"/>
<circle cx="618.05" cy="370.02" r="3.0" fill="#f00"/>
<circle cx="619.14" cy="370.00" r="3.0" fill="#f00"/>
<circle cx="620.22" cy="369.99" r="3.0" fill="#f00"/>
<circle cx="621.30" cy="369.97" r="3.0" fill="#f00"/>
<circle cx="622.38" cy="369.96" r="3.0" fill="#f00"/>
<circle cx="623.47" cy="369.95" r="3.0" fill="#f00"/>
<circle cx="624.55" cy="369.94" r="3.0" fill="#f00"/>
<circle cx="625.63" cy="369.93" r="3.0" fill="#f00"/>
<circle cx="626.71" cy="369.92" r="3.0" fill="#f00"/>
<circle cx="627.80" cy="369.92" r="3.0" fill="#f00"/>
<circle cx="628.88" cy="369.91" r="3.0" fill="#f00"/>
<circle cx="629.96" cy="369.90" r="3.0" fill="#f00"/>
<circle cx="631.04" cy="369.90" r="3.0" fill="#f00"/>
<circle cx="632.13" cy="369.89" r="3.0" fill="#f00"/>
<circle cx="633.21" cy="369.88" r="3.0" fill="#f00"/>
<circle cx="634.29" cy="369.87" r="3.0" fill="#f00"/>
<circle cx="635.70" cy="369.87" r="3.0" fill="#f00"/>
<circle cx="636.96" cy="369.86" r="3.0" fill="#f00"/>
<circle cx="638.23" cy="369.85" r="3.0" fill="#f00"/>
<circle cx="645.26" cy="369.79" r="3.0" fill="#f00"/>
<circle cx="652.01" cy="369.72" r="3.0" fill="#f00"/>
<circle cx="653.42" cy="369.71" r="3.0" fill="#f00"/>
<circle cx="654.83" cy="369.70" r="3.0" fill="#f00"/>
<circle cx="661.72" cy="369.64" r="3.0" fill="#f00"/>
<circle cx="663.05" cy="369.63" r="3.0" fill="#f00"/>
<circle cx="664.39" cy="369.61" r="3.0" fill="#f00"/>
<circle cx="668.50" cy="369.58" r="3.0" fill="#f00"/>
<polyline points="506.19,455.70 506.47,460.34 506.75,464.38 507.03,467.47 507.31,469.60 507.59,471.35 507.88,472.80 508.16,474.03 508.44,475.09 508.72,476.07 509.00,476.95 509.28,477.76 509.56,478.50 509.84,479.15 510.13,479.73 510.41,480.25 510.69,480.72 510.97,481.18 511.25,481.61 511.53,482.02 511.81,482.41 512.09,482.76 512.38,483.09 512.66,483.39 512.94,483.66 513.22,483.90 513.50,484.11 513.78,484.30 514.06,484.48 514.35,484.66 514.63,484.83 514.91,484.99 515.19,485.14 515.47,485.27 515.75,485.38 516.03,485.48 516.31,485.54 516.60,485.58 516.88,485.59 517.16,485.55 517.44,485.46 517.72,485.33 518.00,485.17 518.28,484.99 518.56,484.79 518.85,484.59 519.13,484.39 519.41,484.20 519.69,484.04 519.97,483.90 520.25,483.80 520.53,483.69 520.82,483.59 521.10,483.49 521.38,483.39 521.66,483.30 521.94,483.21 522.22,483.14 522.50,483.08 522.78,483.03 523.07,483.00 523.35,482.99 523.63,483.00 523.91,483.01 524.19,483.04 524.47,483.07 524.75,483.11 525.03,483.15 525.32,483.18 525.60,483.22 525.88,483.25 526.16,483.27 526.44,483.28 526.72,483.27 527.00,483.24 527.28,483.17 527.57,483.07 527.85,482.96 528.13,482.82 528.41,482.68 528.69,482.52 528.97,482.35 529.25,482.19 529.54,482.02 529.82,481.86 530.10,481.71 530.38,481.56 530.66,481.40 530.94,481.23 531.22,481.06 531.50,480.87 531.79,480.68 532.07,480.47 532.35,480.24 532.63,479.99 532.91,479.72 533.19,479.43 533.47,479.10 533.75,478.73 534.04,478.32 534.32,477.86 534.60,477.34 534.88,476.76 535.16,476.12 535.44,475.42 535.72,474.64 536.01,473.73 536.29,472.44 536.57,470.84 536.85,469.05 537.13,467.15 537.41,465.24 537.69,463.29 537.97,461.17 538.26,458.95 538.54,456.67 538.82,454.41 539.10,452.15 539.38,449.86 539.66,447.53 539.94,445.19 540.22,442.85 540.51,440.47 540.79,437.99 541.07,435.47 541.35,433.01 541.63,430.69 541.91,428.60 542.19,426.66 542.48,424.74 542.76,422.92 543.04,421.24 543.32,419.78 543.60,418.58 543.88,417.65 544.16,416.80 544.44,416.01 544.73,415.28 545.01,414.63 545.29,414.07 545.57,413.60 545.85,413.22 546.13,412.96 546.41,412.74 546.69,412.54 546.98,412.35 547.26,412.17 547.54,412.00 547.82,411.85 548.10,411.71 548.38,411.59 548.66,411.48 548.95,411.40 549.23,411.33 549.51,411.28 549.79,411.25 550.07,411.25 550.35,411.28 550.63,411.37 550.91,411.51 551.20,411.69 551.48,411.91 551.76,412.17 552.04,412.46 552.32,412.78 552.60,413.13 552.88,413.49 553.16,413.88 553.45,414.28 553.73,414.70 554.01,415.12 554.29,415.62 554.57,416.27 554.85,417.04 555.13,417.90 555.41,418.84 555.70,419.84 555.98,420.86 556.26,421.89 556.54,422.90 556.82,423.87 557.10,424.79 557.38,425.64 557.67,426.51 557.95,427.39 558.23,428.28 558.51,429.16 558.79,430.03 559.07,430.88 559.35,431.69 559.63,432.45 559.92,433.16 560.20,433.81 560.48,434.38 560.76,434.90 561.04,435.39 561.32,435.85 561.60,436.28 561.88,436.69 562.17,437.09 562.45,437.47 562.73,437.85 563.01,438.22 563.29,438.60 563.57,438.98 563.85,439.36 564.14,439.71 564.42,440.05 564.70,440.38 564.98,440.71 565.26,441.04 565.54,441.37 565.82,441.72 566.10,442.08 566.39,442.47 566.67,442.89 566.95,443.35 567.23,443.88 567.51,444.48 567.79,445.11 568.07,445.78 568.35,446.47 568.64,447.15 568.92,447.82 569.20,448.46 569.48,449.06 569.76,449.59 570.04,450.05 570.32,450.46 570.61,450.83 570.89,451.17 571.17,451.49 571.45,451.79 571.73,452.08 572.01,452.36 572.29,452.64 572.57,452.92 572.86,453.22 573.14,453.53 573.42,453.86 573.70,454.21 573.98,454.60 574.26,455.02 574.54,455.48 574.82,455.97 575.11,456.49 575.39,457.03 575.67,457.58 575.95,458.16 576.23,458.74 576.51,459.33 576.79,459.92 577.08,460.51 577.36,461.09 577.64,461.66 577.92,462.22 578.20,462.76 578.48,463.30 578.76,463.84 579.04,464.37 579.33,464.91 579.61,465.45 579.89,465.99 580.17,466.55 580.45,467.11 580.73,467.69 581.01,468.28 581.29,468.92 581.58,469.68 581.86,470.53 582.14,471.42 582.42,472.30 582.70,473.13 582.98,473.85 583.26,474.41 583.54,474.78 583.83,474.89 584.11,474.85 584.39,474.75 584.67,474.59 584.95,474.39 585.23,474.15 585.51,473.87 585.80,473.57 586.08,473.21 586.36,472.64 586.64,471.91 586.92,471.06 587.20,470.03 587.48,468.80 587.76,467.36 588.05,465.74 588.33,463.92 588.61,461.87 588.89,459.19 589.17,455.97 589.45,452.42 589.73,448.73 590.01,445.08 590.30,441.26 590.58,437.24 590.86,433.05 591.14,428.74 591.42,423.99 591.70,418.87 591.98,413.78 592.27,409.12 592.55,405.28 592.83,401.99 593.11,398.98 593.39,396.27 593.67,393.83 593.95,391.68 594.23,389.72 594.52,387.91 594.80,386.26 595.08,384.80 595.36,383.53 595.64,382.41 595.92,381.36 596.20,380.39 596.48,379.48 596.77,378.65 597.05,377.89 597.33,377.20 597.61,376.58 597.89,376.03 598.17,375.50 598.45,375.01 598.74,374.56 599.02,374.14 599.30,373.76 599.58,373.42 599.86,373.13 600.14,372.87 600.42,372.63 600.70,372.40 600.99,372.18 601.27,371.98 601.55,371.79 601.83,371.63 602.11,371.48 602.39,371.36 602.67,371.26 602.95,371.19 603.24,371.13 603.52,371.08 603.80,371.02 604.08,370.97 604.36,370.92 604.64,370.87 604.92,370.82 605.21,370.77 605.49,370.73 605.77,370.69 606.05,370.64 606.33,370.61 606.61,370.57 606.89,370.53 607.17,370.50 607.46,370.46 607.74,370.43 608.02,370.40 608.30,370.37 608.58,370.35 608.86,370.32 609.14,370.30 609.42,370.27 609.71,370.25 609.99,370.23 610.27,370.22 610.55,370.20 610.83,370.18 611.11,370.17 611.39,370.15 611.67,370.14 611.96,370.13 612.24,370.12 612.52,370.11 612.80,370.11 613.08,370.10 613.36,370.10 613.64,370.09 613.93,370.09 614.21,370.08 614.49,370.07 614.77,370.07 615.05,370.06 615.33,370.06 615.61,370.05 615.89,370.05 616.18,370.04 616.46,370.04 616.74,370.04 617.02,370.03 617.30,370.03 617.58,370.02 617.86,370.02 618.14,370.01 618.43,370.01 618.71,370.01 618.99,370.00 619.27,370.00 619.55,370.00 619.83,369.99 620.11,369.99 620.40,369.98 620.68,369.98 620.96,369.98 621.24,369.97 621.52,369.97 621.80,369.97 622.08,369.97 622.36,369.96 622.65,369.96 622.93,369.96 623.21,369.95 623.49,369.95 623.77,369.95 624.05,369.95 624.33,369.94 624.61,369.94 624.90,369.94 625.18,369.94 625.46,369.93 625.74,369.93 626.02,369.93 626.30,369.93 626.58,369.93 626.87,369.92 627.15,369.92 627.43,369.92 627.71,369.92 627.99,369.92 628.27,369.91 628.55,369.91 628.83,369.91 629.12,369.91 629.40,369.91 629.68,369.90 629.96,369.90 630.24,369.90 630.52,369.90 630.80,369.90 631.08,369.89 631.37,369.89 631.65,369.89 631.93,369.89 632.21,369.89 632.49,369.89 632.77,369.88 633.05,369.88 633.34,369.88 633.62,369.88 633.90,369.88 634.18,369.88 634.46,369.87 634.74,369.87 635.02,369.87 635.30,369.87 635.59,369.87 635.87,369.86 636.15,369.86 636.43,369.86 636.71,369.86 636.99,369.86 637.27,369.86 637.55,369.85 637.84,369.85 638.12,369.85 638.40,369.85 638.68,369.85 638.96,369.84 639.24,369.84 639.52,369.84 639.80,369.84 640.09,369.83 640.37,369.83 640.65,369.83 640.93,369.83 641.21,369.82 641.49,369.82 641.77,369.82 642.06,369.82 642.34,369.81 642.62,369.81 642.90,369.81 643.18,369.81 643.46,369.80 643.74,369.80 644.02,369.80 644.31,369.80 644.59,369.79 644.87,369.79 645.15,369.79 645.43,369.79 645.71,369.78 645.99,369.78 646.27,369.78 646.56,369.78 646.84,369.77 647.12,369.77 647.40,369.77 647.68,369.76 647.96,369.76 648.24,369.76 648.53,369.76 648.81,369.75 649.09,369.75 649.37,369.75 649.65,369.75 649.93,369.74 650.21,369.74 650.49,369.74 650.78,369.74 651.06,369.73 651.34,369.73 651.62,369.73 651.90,369.73 652.18,369.72 652.46,369.72 652.74,369.72 653.03,369.72 653.31,369.71 653.59,369.71 653.87,369.71 654.15,369.71 654.43,369.70 654.71,369.70 655.00,369.70 655.28,369.70 655.56,369.69 655.84,369.69 656.12,369.69 656.40,369.69 656.68,369.68 656.96,369.68 657.25,369.68 657.53,369.68 657.81,369.67 658.09,369.67 658.37,369.67 658.65,369.66 658.93,369.66 659.21,369.66 659.50,369.66 659.78,369.65 660.06,369.65 660.34,369.65 660.62,369.65 660.90,369.64 661.18,369.64 661.47,369.64 661.75,369.64 662.03,369.63 662.31,369.63 662.59,369.63 662.87,369.63 663.15,369.63 663.43,369.62 663.72,369.62 664.00,369.62 664.28,369.62 664.56,369.61 664.84,369.61 665.12,369.61 665.40,369.61 665.68,369.60 665.97,369.60 666.25,369.60 666.53,369.60 666.81,369.59 667.09,369.59 667.37,369.59 667.65,369.59 667.93,369.58 668.22,369.58 668.50,369.58 668.78,369.58 669.06,369.57 669.34,369.57 669.62,369.57 669.90,369.57 670.19,369.56 670.47,369.56 670.75,369.56 671.03,369.56 671.31,369.55 671.59,369.55 671.87,369.55 672.15,369.55 672.44,369.54 672.72,369.54 673.00,369.54 673.28,369.54 673.56,369.54 673.84,369.53 674.12,369.53 674.40,369.53" fill="none" stroke="#00f" stroke-width="1.5" stroke-linejoin="round" stroke-linecap="square"/>
</g>
<rect x="497.75" y="363.80" width="184.55" height="127.60" fill="none" stroke="#444" stroke-width="1"/>
<line x1="506.30" y1="491.40" x2="506.30" y2="494.20" stroke="#333" stroke-width="0.9"/>
<text x="506.30" y="503.10" text-anchor="middle" font-size="8.2" textLength="15.27" lengthAdjust="spacingAndGlyphs" >400</text>
<line x1="534.43" y1="491.40" x2="534.43" y2="494.20" stroke="#333" stroke-width="0.9"/>
<text x="534.43" y="503.10" text-anchor="middle" font-size="8.2" textLength="15.27" lengthAdjust="spacingAndGlyphs" >500</text>
<line x1="562.56" y1="491.40" x2="562.56" y2="494.20" stroke="#333" stroke-width="0.9"/>
<text x="562.56" y="503.10" text-anchor="middle" font-size="8.2" textLength="15.27" lengthAdjust="spacingAndGlyphs" >600</text>
<line x1="590.69" y1="491.40" x2="590.69" y2="494.20" stroke="#333" stroke-width="0.9"/>
<text x="590.69" y="503.10" text-anchor="middle" font-size="8.2" textLength="15.27" lengthAdjust="spacingAndGlyphs" >700</text>
<line x1="618.82" y1="491.40" x2="618.82" y2="494.20" stroke="#333" stroke-width="0.9"/>
<text x="618.82" y="503.10" text-anchor="middle" font-size="8.2" textLength="15.27" lengthAdjust="spacingAndGlyphs" >800</text>
<line x1="646.95" y1="491.40" x2="646.95" y2="494.20" stroke="#333" stroke-width="0.9"/>
<text x="646.95" y="503.10" text-anchor="middle" font-size="8.2" textLength="15.27" lengthAdjust="spacingAndGlyphs" >900</text>
<line x1="675.08" y1="491.40" x2="675.08" y2="494.20" stroke="#333" stroke-width="0.9"/>
<text x="675.08" y="503.10" text-anchor="middle" font-size="8.2" textLength="20.36" lengthAdjust="spacingAndGlyphs" >1000</text>
<line x1="494.95" y1="474.89" x2="497.75" y2="474.89" stroke="#333" stroke-width="0.9"/>
<text x="491.75" y="477.79" text-anchor="end" font-size="8.2" textLength="16.88" lengthAdjust="spacingAndGlyphs" >−20</text>
<line x1="494.95" y1="445.96" x2="497.75" y2="445.96" stroke="#333" stroke-width="0.9"/>
<text x="491.75" y="448.86" text-anchor="end" font-size="8.2" textLength="16.88" lengthAdjust="spacingAndGlyphs" >−15</text>
<line x1="494.95" y1="417.03" x2="497.75" y2="417.03" stroke="#333" stroke-width="0.9"/>
<text x="491.75" y="419.93" text-anchor="end" font-size="8.2" textLength="16.88" lengthAdjust="spacingAndGlyphs" >−10</text>
<line x1="494.95" y1="388.10" x2="497.75" y2="388.10" stroke="#333" stroke-width="0.9"/>
<text x="491.75" y="391.00" text-anchor="end" font-size="8.2" textLength="11.79" lengthAdjust="spacingAndGlyphs" >−5</text>
<text x="590.02" y="514.60" text-anchor="middle" font-size="8.2" textLength="63.53" lengthAdjust="spacingAndGlyphs" >Wavelength/nm</text>
<text transform="translate(470.70,427.60) rotate(-90)" x="0" y="0" text-anchor="middle" font-size="8.2" textLength="47.27" lengthAdjust="spacingAndGlyphs">Reflectance</text>
<text x="568.20" y="358.55" font-size="10.3" font-weight="normal" style="stroke-width:0.5px" textLength="44.40" lengthAdjust="spacingAndGlyphs">FDRL-UVE</text>
<text x="502.30" y="357.70" font-size="14" font-weight="normal" style="stroke-width:0.45px">i</text>
<rect x="582.06" y="414.60" width="96.24" height="26.00" rx="1.6" fill="#fff" fill-opacity="0.8" stroke="#ccc" stroke-width="0.8"/>
<line x1="584.46" y1="421.20" x2="601.96" y2="421.20" stroke="#00f" stroke-width="1.5"/>
<circle cx="593.26" cy="433.80" r="3.0" fill="#f00"/>
<text x="608.46" y="424.20" text-anchor="start" font-size="8.2" textLength="20.78" lengthAdjust="spacingAndGlyphs" >FDRL</text>
<text x="608.46" y="435.80" text-anchor="start" font-size="8.2" textLength="66.24" lengthAdjust="spacingAndGlyphs" >Feature band 88</text>
<clipPath id="clipj"><rect x="34.25" y="537.60" width="184.55" height="127.50"/></clipPath>
<g clip-path="url(#clipj)">
<circle cx="43.95" cy="567.29" r="3.0" fill="#f00"/>
<circle cx="44.38" cy="561.76" r="3.0" fill="#f00"/>
<circle cx="45.24" cy="556.23" r="3.0" fill="#f00"/>
<circle cx="48.13" cy="548.21" r="3.0" fill="#f00"/>
<circle cx="49.32" cy="546.52" r="3.0" fill="#f00"/>
<circle cx="50.52" cy="545.07" r="3.0" fill="#f00"/>
<circle cx="57.30" cy="546.63" r="3.0" fill="#f00"/>
<circle cx="58.67" cy="547.56" r="3.0" fill="#f00"/>
<circle cx="60.05" cy="547.45" r="3.0" fill="#f00"/>
<circle cx="61.42" cy="547.19" r="3.0" fill="#f00"/>
<circle cx="62.80" cy="547.13" r="3.0" fill="#f00"/>
<circle cx="64.17" cy="547.97" r="3.0" fill="#f00"/>
<circle cx="65.55" cy="549.38" r="3.0" fill="#f00"/>
<circle cx="66.92" cy="550.76" r="3.0" fill="#f00"/>
<circle cx="68.30" cy="552.32" r="3.0" fill="#f00"/>
<circle cx="69.70" cy="554.55" r="3.0" fill="#f00"/>
<circle cx="70.91" cy="557.74" r="3.0" fill="#f00"/>
<circle cx="74.42" cy="582.31" r="3.0" fill="#f00"/>
<circle cx="76.89" cy="612.00" r="3.0" fill="#f00"/>
<circle cx="79.63" cy="632.51" r="3.0" fill="#f00"/>
<circle cx="84.69" cy="639.65" r="3.0" fill="#f00"/>
<circle cx="86.10" cy="639.65" r="3.0" fill="#f00"/>
<circle cx="87.51" cy="639.65" r="3.0" fill="#f00"/>
<circle cx="88.91" cy="638.78" r="3.0" fill="#f00"/>
<circle cx="94.40" cy="624.58" r="3.0" fill="#f00"/>
<circle cx="96.51" cy="619.23" r="3.0" fill="#f00"/>
<circle cx="98.03" cy="615.72" r="3.0" fill="#f00"/>
<circle cx="99.55" cy="612.66" r="3.0" fill="#f00"/>
<circle cx="101.07" cy="610.07" r="3.0" fill="#f00"/>
<circle cx="102.59" cy="607.38" r="3.0" fill="#f00"/>
<circle cx="106.64" cy="596.81" r="3.0" fill="#f00"/>
<circle cx="108.04" cy="593.78" r="3.0" fill="#f00"/>
<circle cx="109.45" cy="591.19" r="3.0" fill="#f00"/>
<circle cx="110.86" cy="588.42" r="3.0" fill="#f00"/>
<circle cx="112.26" cy="584.85" r="3.0" fill="#f00"/>
<circle cx="116.20" cy="572.11" r="3.0" fill="#f00"/>
<circle cx="117.37" cy="568.09" r="3.0" fill="#f00"/>
<circle cx="118.54" cy="564.62" r="3.0" fill="#f00"/>
<circle cx="119.72" cy="561.82" r="3.0" fill="#f00"/>
<circle cx="120.89" cy="563.10" r="3.0" fill="#f00"/>
<circle cx="122.06" cy="566.72" r="3.0" fill="#f00"/>
<circle cx="123.23" cy="572.81" r="3.0" fill="#f00"/>
<circle cx="124.50" cy="585.08" r="3.0" fill="#f00"/>
<circle cx="125.39" cy="600.10" r="3.0" fill="#f00"/>
<circle cx="126.51" cy="618.49" r="3.0" fill="#f00"/>
<circle cx="129.32" cy="649.50" r="3.0" fill="#f00"/>
<circle cx="136.45" cy="658.77" r="3.0" fill="#f00"/>
<circle cx="137.67" cy="658.82" r="3.0" fill="#f00"/>
<circle cx="138.89" cy="658.87" r="3.0" fill="#f00"/>
<circle cx="140.11" cy="658.91" r="3.0" fill="#f00"/>
<circle cx="141.33" cy="658.94" r="3.0" fill="#f00"/>
<circle cx="142.55" cy="658.96" r="3.0" fill="#f00"/>
<circle cx="143.77" cy="658.98" r="3.0" fill="#f00"/>
<circle cx="144.99" cy="658.99" r="3.0" fill="#f00"/>
<circle cx="146.21" cy="659.00" r="3.0" fill="#f00"/>
<circle cx="147.42" cy="659.00" r="3.0" fill="#f00"/>
<circle cx="148.64" cy="659.00" r="3.0" fill="#f00"/>
<circle cx="149.86" cy="659.00" r="3.0" fill="#f00"/>
<circle cx="151.08" cy="659.00" r="3.0" fill="#f00"/>
<circle cx="152.30" cy="659.00" r="3.0" fill="#f00"/>
<circle cx="153.52" cy="659.00" r="3.0" fill="#f00"/>
<circle cx="154.74" cy="659.00" r="3.0" fill="#f00"/>
<circle cx="155.96" cy="659.00" r="3.0" fill="#f00"/>
<circle cx="157.18" cy="659.00" r="3.0" fill="#f00"/>
<circle cx="158.40" cy="659.00" r="3.0" fill="#f00"/>
<circle cx="159.61" cy="659.00" r="3.0" fill="#f00"/>
<circle cx="160.83" cy="659.00" r="3.0" fill="#f00"/>
<circle cx="162.05" cy="659.00" r="3.0" fill="#f00"/>
<circle cx="163.27" cy="659.00" r="3.0" fill="#f00"/>
<circle cx="164.49" cy="659.00" r="3.0" fill="#f00"/>
<circle cx="165.71" cy="659.00" r="3.0" fill="#f00"/>
<circle cx="166.93" cy="659.00" r="3.0" fill="#f00"/>
<circle cx="168.15" cy="659.00" r="3.0" fill="#f00"/>
<circle cx="169.37" cy="659.00" r="3.0" fill="#f00"/>
<circle cx="170.59" cy="659.00" r="3.0" fill="#f00"/>
<circle cx="171.80" cy="659.00" r="3.0" fill="#f00"/>
<circle cx="173.02" cy="659.00" r="3.0" fill="#f00"/>
<circle cx="174.24" cy="659.00" r="3.0" fill="#f00"/>
<circle cx="175.46" cy="659.00" r="3.0" fill="#f00"/>
<circle cx="176.68" cy="659.00" r="3.0" fill="#f00"/>
<circle cx="181.18" cy="659.00" r="3.0" fill="#f00"/>
<circle cx="182.38" cy="659.00" r="3.0" fill="#f00"/>
<circle cx="183.58" cy="659.00" r="3.0" fill="#f00"/>
<circle cx="184.79" cy="659.00" r="3.0" fill="#f00"/>
<circle cx="185.99" cy="659.00" r="3.0" fill="#f00"/>
<circle cx="187.19" cy="659.00" r="3.0" fill="#f00"/>
<circle cx="188.39" cy="659.00" r="3.0" fill="#f00"/>
<circle cx="189.59" cy="659.00" r="3.0" fill="#f00"/>
<circle cx="190.80" cy="659.00" r="3.0" fill="#f00"/>
<circle cx="192.00" cy="659.00" r="3.0" fill="#f00"/>
<circle cx="193.20" cy="659.00" r="3.0" fill="#f00"/>
<circle cx="194.40" cy="659.00" r="3.0" fill="#f00"/>
<circle cx="195.60" cy="659.00" r="3.0" fill="#f00"/>
<circle cx="196.81" cy="659.00" r="3.0" fill="#f00"/>
<circle cx="198.01" cy="659.00" r="3.0" fill="#f00"/>
<circle cx="199.21" cy="659.00" r="3.0" fill="#f00"/>
<circle cx="200.41" cy="659.00" r="3.0" fill="#f00"/>
<circle cx="201.61" cy="659.00" r="3.0" fill="#f00"/>
<circle cx="202.82" cy="659.00" r="3.0" fill="#f00"/>
<circle cx="204.02" cy="659.00" r="3.0" fill="#f00"/>
<circle cx="205.22" cy="659.00" r="3.0" fill="#f00"/>
<circle cx="206.42" cy="659.00" r="3.0" fill="#f00"/>
<circle cx="207.62" cy="659.00" r="3.0" fill="#f00"/>
<polyline points="42.39,593.01 42.67,588.34 42.95,583.77 43.23,579.27 43.51,574.82 43.79,569.99 44.08,565.40 44.36,562.00 44.64,559.84 44.92,558.00 45.20,556.42 45.48,555.08 45.76,553.94 46.04,552.97 46.33,552.13 46.61,551.36 46.89,550.66 47.17,550.02 47.45,549.43 47.73,548.89 48.01,548.39 48.29,547.94 48.58,547.52 48.86,547.13 49.14,546.76 49.42,546.39 49.70,546.03 49.98,545.68 50.26,545.35 50.55,545.04 50.83,544.74 51.11,544.48 51.39,544.23 51.67,544.02 51.95,543.84 52.23,543.70 52.51,543.60 52.80,543.51 53.08,543.44 53.36,543.37 53.64,543.31 53.92,543.27 54.20,543.25 54.48,543.28 54.76,543.49 55.05,543.84 55.33,544.26 55.61,544.70 55.89,545.11 56.17,545.44 56.45,545.73 56.73,546.03 57.02,546.34 57.30,546.63 57.58,546.91 57.86,547.15 58.14,547.35 58.42,547.49 58.70,547.57 58.98,547.57 59.27,547.55 59.55,547.52 59.83,547.48 60.11,547.44 60.39,547.38 60.67,547.33 60.95,547.27 61.23,547.22 61.52,547.17 61.80,547.14 62.08,547.11 62.36,547.09 62.64,547.10 62.92,547.17 63.20,547.28 63.48,547.44 63.77,547.63 64.05,547.86 64.33,548.12 64.61,548.39 64.89,548.68 65.17,548.98 65.45,549.28 65.74,549.58 66.02,549.87 66.30,550.14 66.58,550.42 66.86,550.70 67.14,550.98 67.42,551.28 67.70,551.59 67.99,551.93 68.27,552.28 68.55,552.66 68.83,553.06 69.11,553.50 69.39,553.98 69.67,554.49 69.95,555.07 70.24,555.74 70.52,556.51 70.80,557.37 71.08,558.33 71.36,559.38 71.64,560.53 71.92,561.77 72.21,563.12 72.49,564.62 72.77,566.51 73.05,568.74 73.33,571.24 73.61,573.94 73.89,576.76 74.17,579.62 74.46,582.67 74.74,586.10 75.02,589.76 75.30,593.52 75.58,597.23 75.86,600.75 76.14,603.96 76.42,607.04 76.71,610.08 76.99,613.02 77.27,615.81 77.55,618.37 77.83,620.67 78.11,622.70 78.39,624.70 78.68,626.65 78.96,628.53 79.24,630.30 79.52,631.91 79.80,633.33 80.08,634.53 80.36,635.46 80.64,636.09 80.93,636.58 81.21,637.04 81.49,637.47 81.77,637.88 82.05,638.25 82.33,638.58 82.61,638.87 82.89,639.12 83.18,639.33 83.46,639.49 83.74,639.59 84.02,639.64 84.30,639.65 84.58,639.65 84.86,639.65 85.15,639.65 85.43,639.65 85.71,639.65 85.99,639.65 86.27,639.65 86.55,639.65 86.83,639.65 87.11,639.65 87.40,639.65 87.68,639.65 87.96,639.62 88.24,639.49 88.52,639.26 88.80,638.93 89.08,638.54 89.36,638.09 89.65,637.60 89.93,637.08 90.21,636.56 90.49,636.04 90.77,635.48 91.05,634.83 91.33,634.09 91.61,633.28 91.90,632.42 92.18,631.52 92.46,630.59 92.74,629.66 93.02,628.72 93.30,627.79 93.58,626.90 93.87,626.05 94.15,625.25 94.43,624.51 94.71,623.77 94.99,623.04 95.27,622.31 95.55,621.60 95.83,620.89 96.12,620.19 96.40,619.50 96.68,618.82 96.96,618.15 97.24,617.50 97.52,616.85 97.80,616.22 98.08,615.60 98.37,614.99 98.65,614.40 98.93,613.83 99.21,613.28 99.49,612.76 99.77,612.26 100.05,611.77 100.34,611.29 100.62,610.82 100.90,610.35 101.18,609.89 101.46,609.41 101.74,608.93 102.02,608.43 102.30,607.92 102.59,607.38 102.87,606.82 103.15,606.23 103.43,605.60 103.71,604.92 103.99,604.19 104.27,603.43 104.55,602.64 104.84,601.83 105.12,601.02 105.40,600.20 105.68,599.39 105.96,598.60 106.24,597.83 106.52,597.09 106.81,596.40 107.09,595.75 107.37,595.14 107.65,594.56 107.93,594.00 108.21,593.46 108.49,592.93 108.77,592.42 109.06,591.91 109.34,591.40 109.62,590.88 109.90,590.35 110.18,589.81 110.46,589.25 110.74,588.66 111.02,588.04 111.31,587.39 111.59,586.70 111.87,585.96 112.15,585.18 112.43,584.36 112.71,583.51 112.99,582.64 113.28,581.74 113.56,580.83 113.84,579.92 114.12,579.00 114.40,578.08 114.68,577.17 114.96,576.27 115.24,575.37 115.53,574.43 115.81,573.48 116.09,572.50 116.37,571.52 116.65,570.54 116.93,569.57 117.21,568.62 117.49,567.69 117.78,566.80 118.06,565.96 118.34,565.16 118.62,564.43 118.90,563.64 119.18,562.84 119.46,562.18 119.74,561.80 120.03,561.80 120.31,562.04 120.59,562.46 120.87,563.05 121.15,563.78 121.43,564.61 121.71,565.52 122.00,566.49 122.28,567.49 122.56,568.71 122.84,570.23 123.12,572.02 123.40,574.07 123.68,576.35 123.96,578.85 124.25,581.71 124.53,585.46 124.81,589.92 125.09,594.80 125.37,599.85 125.65,604.77 125.93,609.31 126.21,613.76 126.50,618.34 126.78,622.89 127.06,627.26 127.34,631.28 127.62,634.80 127.90,637.79 128.18,640.60 128.47,643.22 128.75,645.61 129.03,647.71 129.31,649.46 129.59,650.85 129.87,652.05 130.15,653.16 130.43,654.15 130.72,655.02 131.00,655.76 131.28,656.35 131.56,656.79 131.84,657.15 132.12,657.47 132.40,657.74 132.68,657.96 132.97,658.11 133.25,658.21 133.53,658.30 133.81,658.38 134.09,658.46 134.37,658.52 134.65,658.58 134.94,658.63 135.22,658.67 135.50,658.71 135.78,658.73 136.06,658.75 136.34,658.77 136.62,658.78 136.90,658.79 137.19,658.80 137.47,658.82 137.75,658.83 138.03,658.84 138.31,658.85 138.59,658.86 138.87,658.87 139.15,658.88 139.44,658.89 139.72,658.90 140.00,658.90 140.28,658.91 140.56,658.92 140.84,658.93 141.12,658.93 141.41,658.94 141.69,658.95 141.97,658.95 142.25,658.96 142.53,658.96 142.81,658.97 143.09,658.97 143.37,658.98 143.66,658.98 143.94,658.98 144.22,658.99 144.50,658.99 144.78,658.99 145.06,658.99 145.34,658.99 145.62,659.00 145.91,659.00 146.19,659.00 146.47,659.00 146.75,659.00 147.03,659.00 147.31,659.00 147.59,659.00 147.87,659.00 148.16,659.00 148.44,659.00 148.72,659.00 149.00,659.00 149.28,659.00 149.56,659.00 149.84,659.00 150.13,659.00 150.41,659.00 150.69,659.00 150.97,659.00 151.25,659.00 151.53,659.00 151.81,659.00 152.09,659.00 152.38,659.00 152.66,659.00 152.94,659.00 153.22,659.00 153.50,659.00 153.78,659.00 154.06,659.00 154.34,659.00 154.63,659.00 154.91,659.00 155.19,659.00 155.47,659.00 155.75,659.00 156.03,659.00 156.31,659.00 156.60,659.00 156.88,659.00 157.16,659.00 157.44,659.00 157.72,659.00 158.00,659.00 158.28,659.00 158.56,659.00 158.85,659.00 159.13,659.00 159.41,659.00 159.69,659.00 159.97,659.00 160.25,659.00 160.53,659.00 160.81,659.00 161.10,659.00 161.38,659.00 161.66,659.00 161.94,659.00 162.22,659.00 162.50,659.00 162.78,659.00 163.07,659.00 163.35,659.00 163.63,659.00 163.91,659.00 164.19,659.00 164.47,659.00 164.75,659.00 165.03,659.00 165.32,659.00 165.60,659.00 165.88,659.00 166.16,659.00 166.44,659.00 166.72,659.00 167.00,659.00 167.28,659.00 167.57,659.00 167.85,659.00 168.13,659.00 168.41,659.00 168.69,659.00 168.97,659.00 169.25,659.00 169.54,659.00 169.82,659.00 170.10,659.00 170.38,659.00 170.66,659.00 170.94,659.00 171.22,659.00 171.50,659.00 171.79,659.00 172.07,659.00 172.35,659.00 172.63,659.00 172.91,659.00 173.19,659.00 173.47,659.00 173.75,659.00 174.04,659.00 174.32,659.00 174.60,659.00 174.88,659.00 175.16,659.00 175.44,659.00 175.72,659.00 176.00,659.00 176.29,659.00 176.57,659.00 176.85,659.00 177.13,659.00 177.41,659.00 177.69,659.00 177.97,659.00 178.26,659.00 178.54,659.00 178.82,659.00 179.10,659.00 179.38,659.00 179.66,659.00 179.94,659.00 180.22,659.00 180.51,659.00 180.79,659.00 181.07,659.00 181.35,659.00 181.63,659.00 181.91,659.00 182.19,659.00 182.47,659.00 182.76,659.00 183.04,659.00 183.32,659.00 183.60,659.00 183.88,659.00 184.16,659.00 184.44,659.00 184.73,659.00 185.01,659.00 185.29,659.00 185.57,659.00 185.85,659.00 186.13,659.00 186.41,659.00 186.69,659.00 186.98,659.00 187.26,659.00 187.54,659.00 187.82,659.00 188.10,659.00 188.38,659.00 188.66,659.00 188.94,659.00 189.23,659.00 189.51,659.00 189.79,659.00 190.07,659.00 190.35,659.00 190.63,659.00 190.91,659.00 191.20,659.00 191.48,659.00 191.76,659.00 192.04,659.00 192.32,659.00 192.60,659.00 192.88,659.00 193.16,659.00 193.45,659.00 193.73,659.00 194.01,659.00 194.29,659.00 194.57,659.00 194.85,659.00 195.13,659.00 195.41,659.00 195.70,659.00 195.98,659.00 196.26,659.00 196.54,659.00 196.82,659.00 197.10,659.00 197.38,659.00 197.67,659.00 197.95,659.00 198.23,659.00 198.51,659.00 198.79,659.00 199.07,659.00 199.35,659.00 199.63,659.00 199.92,659.00 200.20,659.00 200.48,659.00 200.76,659.00 201.04,659.00 201.32,659.00 201.60,659.00 201.88,659.00 202.17,659.00 202.45,659.00 202.73,659.00 203.01,659.00 203.29,659.00 203.57,659.00 203.85,659.00 204.13,659.00 204.42,659.00 204.70,659.00 204.98,659.00 205.26,659.00 205.54,659.00 205.82,659.00 206.10,659.00 206.39,659.00 206.67,659.00 206.95,659.00 207.23,659.00 207.51,659.00 207.79,659.00 208.07,659.00 208.35,659.00 208.64,659.00 208.92,659.00 209.20,659.00 209.48,659.00 209.76,659.00 210.04,659.00 210.32,659.00 210.60,659.00" fill="none" stroke="#00f" stroke-width="1.5" stroke-linejoin="round" stroke-linecap="square"/>
</g>
<rect x="34.25" y="537.60" width="184.55" height="127.50" fill="none" stroke="#444" stroke-width="1"/>
<line x1="42.50" y1="665.10" x2="42.50" y2="667.90" stroke="#333" stroke-width="0.9"/>
<text x="42.50" y="676.80" text-anchor="middle" font-size="8.2" textLength="15.27" lengthAdjust="spacingAndGlyphs" >400</text>
<line x1="70.63" y1="665.10" x2="70.63" y2="667.90" stroke="#333" stroke-width="0.9"/>
<text x="70.63" y="676.80" text-anchor="middle" font-size="8.2" textLength="15.27" lengthAdjust="spacingAndGlyphs" >500</text>
<line x1="98.76" y1="665.10" x2="98.76" y2="667.90" stroke="#333" stroke-width="0.9"/>
<text x="98.76" y="676.80" text-anchor="middle" font-size="8.2" textLength="15.27" lengthAdjust="spacingAndGlyphs" >600</text>
<line x1="126.89" y1="665.10" x2="126.89" y2="667.90" stroke="#333" stroke-width="0.9"/>
<text x="126.89" y="676.80" text-anchor="middle" font-size="8.2" textLength="15.27" lengthAdjust="spacingAndGlyphs" >700</text>
<line x1="155.02" y1="665.10" x2="155.02" y2="667.90" stroke="#333" stroke-width="0.9"/>
<text x="155.02" y="676.80" text-anchor="middle" font-size="8.2" textLength="15.27" lengthAdjust="spacingAndGlyphs" >800</text>
<line x1="183.15" y1="665.10" x2="183.15" y2="667.90" stroke="#333" stroke-width="0.9"/>
<text x="183.15" y="676.80" text-anchor="middle" font-size="8.2" textLength="15.27" lengthAdjust="spacingAndGlyphs" >900</text>
<line x1="211.28" y1="665.10" x2="211.28" y2="667.90" stroke="#333" stroke-width="0.9"/>
<text x="211.28" y="676.80" text-anchor="middle" font-size="8.2" textLength="20.36" lengthAdjust="spacingAndGlyphs" >1000</text>
<line x1="31.45" y1="659.60" x2="34.25" y2="659.60" stroke="#333" stroke-width="0.9"/>
<text x="28.25" y="662.50" text-anchor="end" font-size="8.2" textLength="5.09" lengthAdjust="spacingAndGlyphs" >0</text>
<line x1="31.45" y1="635.56" x2="34.25" y2="635.56" stroke="#333" stroke-width="0.9"/>
<text x="28.25" y="638.46" text-anchor="end" font-size="8.2" textLength="15.27" lengthAdjust="spacingAndGlyphs" >100</text>
<line x1="31.45" y1="611.52" x2="34.25" y2="611.52" stroke="#333" stroke-width="0.9"/>
<text x="28.25" y="614.42" text-anchor="end" font-size="8.2" textLength="15.27" lengthAdjust="spacingAndGlyphs" >200</text>
<line x1="31.45" y1="587.48" x2="34.25" y2="587.48" stroke="#333" stroke-width="0.9"/>
<text x="28.25" y="590.38" text-anchor="end" font-size="8.2" textLength="15.27" lengthAdjust="spacingAndGlyphs" >300</text>
<line x1="31.45" y1="563.44" x2="34.25" y2="563.44" stroke="#333" stroke-width="0.9"/>
<text x="28.25" y="566.34" text-anchor="end" font-size="8.2" textLength="15.27" lengthAdjust="spacingAndGlyphs" >400</text>
<line x1="31.45" y1="539.40" x2="34.25" y2="539.40" stroke="#333" stroke-width="0.9"/>
<text x="28.25" y="542.30" text-anchor="end" font-size="8.2" textLength="15.27" lengthAdjust="spacingAndGlyphs" >500</text>
<text x="126.53" y="688.30" text-anchor="middle" font-size="8.2" textLength="63.53" lengthAdjust="spacingAndGlyphs" >Wavelength/nm</text>
<text transform="translate(8.00,601.35) rotate(-90)" x="0" y="0" text-anchor="middle" font-size="8.2" textLength="47.27" lengthAdjust="spacingAndGlyphs">Reflectance</text>
<text x="101.50" y="532.25" font-size="10.3" font-weight="normal" style="stroke-width:0.5px" textLength="49.00" lengthAdjust="spacingAndGlyphs">SDRL-CARS</text>
<text x="39.20" y="531.10" font-size="14" font-weight="normal" style="stroke-width:0.45px">j</text>
<rect x="118.56" y="588.35" width="96.24" height="26.00" rx="1.6" fill="#fff" fill-opacity="0.8" stroke="#ccc" stroke-width="0.8"/>
<line x1="120.96" y1="594.95" x2="138.46" y2="594.95" stroke="#00f" stroke-width="1.5"/>
<circle cx="129.76" cy="607.55" r="3.0" fill="#f00"/>
<text x="144.96" y="597.95" text-anchor="start" font-size="8.2" textLength="21.25" lengthAdjust="spacingAndGlyphs" >SDRL</text>
<text x="144.96" y="609.55" text-anchor="start" font-size="8.2" textLength="66.24" lengthAdjust="spacingAndGlyphs" >Feature band 77</text>
<clipPath id="clipk"><rect x="265.95" y="537.60" width="184.55" height="127.50"/></clipPath>
<g clip-path="url(#clipk)">
<circle cx="274.39" cy="593.01" r="3.0" fill="#f00"/>
<circle cx="275.24" cy="579.14" r="3.0" fill="#f00"/>
<circle cx="276.26" cy="562.96" r="3.0" fill="#f00"/>
<circle cx="277.28" cy="556.01" r="3.0" fill="#f00"/>
<circle cx="278.30" cy="552.19" r="3.0" fill="#f00"/>
<circle cx="279.32" cy="549.68" r="3.0" fill="#f00"/>
<circle cx="280.35" cy="547.86" r="3.0" fill="#f00"/>
<circle cx="281.37" cy="546.46" r="3.0" fill="#f00"/>
<circle cx="282.39" cy="545.21" r="3.0" fill="#f00"/>
<circle cx="283.41" cy="544.22" r="3.0" fill="#f00"/>
<circle cx="284.43" cy="543.62" r="3.0" fill="#f00"/>
<circle cx="285.45" cy="543.35" r="3.0" fill="#f00"/>
<circle cx="286.47" cy="543.28" r="3.0" fill="#f00"/>
<circle cx="287.49" cy="544.52" r="3.0" fill="#f00"/>
<circle cx="288.52" cy="545.79" r="3.0" fill="#f00"/>
<circle cx="289.54" cy="546.87" r="3.0" fill="#f00"/>
<circle cx="290.56" cy="547.54" r="3.0" fill="#f00"/>
<circle cx="291.58" cy="547.52" r="3.0" fill="#f00"/>
<circle cx="292.60" cy="547.34" r="3.0" fill="#f00"/>
<circle cx="293.62" cy="547.16" r="3.0" fill="#f00"/>
<circle cx="294.64" cy="547.10" r="3.0" fill="#f00"/>
<circle cx="295.66" cy="547.56" r="3.0" fill="#f00"/>
<circle cx="296.69" cy="548.47" r="3.0" fill="#f00"/>
<circle cx="297.71" cy="549.55" r="3.0" fill="#f00"/>
<circle cx="298.73" cy="550.56" r="3.0" fill="#f00"/>
<circle cx="299.75" cy="551.65" r="3.0" fill="#f00"/>
<circle cx="300.77" cy="552.97" r="3.0" fill="#f00"/>
<circle cx="301.79" cy="554.72" r="3.0" fill="#f00"/>
<circle cx="302.81" cy="557.41" r="3.0" fill="#f00"/>
<circle cx="303.83" cy="561.36" r="3.0" fill="#f00"/>
<circle cx="304.85" cy="567.16" r="3.0" fill="#f00"/>
<circle cx="305.88" cy="576.58" r="3.0" fill="#f00"/>
<circle cx="306.90" cy="588.16" r="3.0" fill="#f00"/>
<circle cx="307.92" cy="601.43" r="3.0" fill="#f00"/>
<circle cx="308.94" cy="612.53" r="3.0" fill="#f00"/>
<circle cx="309.96" cy="621.62" r="3.0" fill="#f00"/>
<circle cx="310.98" cy="628.70" r="3.0" fill="#f00"/>
<circle cx="312.00" cy="634.22" r="3.0" fill="#f00"/>
<circle cx="313.02" cy="636.74" r="3.0" fill="#f00"/>
<circle cx="314.05" cy="638.24" r="3.0" fill="#f00"/>
<circle cx="315.07" cy="639.25" r="3.0" fill="#f00"/>
<circle cx="316.09" cy="639.65" r="3.0" fill="#f00"/>
<circle cx="317.11" cy="639.65" r="3.0" fill="#f00"/>
<circle cx="318.13" cy="639.65" r="3.0" fill="#f00"/>
<circle cx="319.15" cy="639.65" r="3.0" fill="#f00"/>
<circle cx="320.17" cy="639.53" r="3.0" fill="#f00"/>
<circle cx="321.19" cy="638.37" r="3.0" fill="#f00"/>
<circle cx="322.22" cy="636.54" r="3.0" fill="#f00"/>
<circle cx="323.24" cy="634.35" r="3.0" fill="#f00"/>
<circle cx="324.26" cy="631.26" r="3.0" fill="#f00"/>
<circle cx="325.28" cy="627.87" r="3.0" fill="#f00"/>
<circle cx="326.30" cy="624.84" r="3.0" fill="#f00"/>
<circle cx="327.32" cy="622.19" r="3.0" fill="#f00"/>
<circle cx="328.34" cy="619.63" r="3.0" fill="#f00"/>
<circle cx="329.36" cy="617.21" r="3.0" fill="#f00"/>
<circle cx="330.38" cy="614.95" r="3.0" fill="#f00"/>
<circle cx="331.41" cy="612.92" r="3.0" fill="#f00"/>
<circle cx="332.43" cy="611.14" r="3.0" fill="#f00"/>
<circle cx="333.45" cy="609.43" r="3.0" fill="#f00"/>
<circle cx="334.47" cy="607.61" r="3.0" fill="#f00"/>
<circle cx="335.49" cy="605.46" r="3.0" fill="#f00"/>
<circle cx="336.51" cy="602.76" r="3.0" fill="#f00"/>
<circle cx="337.53" cy="599.81" r="3.0" fill="#f00"/>
<circle cx="338.55" cy="597.01" r="3.0" fill="#f00"/>
<circle cx="339.58" cy="594.71" r="3.0" fill="#f00"/>
<circle cx="340.60" cy="592.74" r="3.0" fill="#f00"/>
<circle cx="341.62" cy="590.88" r="3.0" fill="#f00"/>
<circle cx="342.64" cy="588.88" r="3.0" fill="#f00"/>
<circle cx="343.66" cy="586.51" r="3.0" fill="#f00"/>
<circle cx="344.68" cy="583.60" r="3.0" fill="#f00"/>
<circle cx="345.70" cy="580.36" r="3.0" fill="#f00"/>
<circle cx="346.72" cy="577.03" r="3.0" fill="#f00"/>
<circle cx="347.75" cy="573.69" r="3.0" fill="#f00"/>
<circle cx="348.77" cy="570.14" r="3.0" fill="#f00"/>
<circle cx="349.79" cy="566.77" r="3.0" fill="#f00"/>
<circle cx="350.81" cy="563.91" r="3.0" fill="#f00"/>
<circle cx="351.83" cy="561.76" r="3.0" fill="#f00"/>
<circle cx="352.85" cy="563.01" r="3.0" fill="#f00"/>
<circle cx="353.87" cy="566.06" r="3.0" fill="#f00"/>
<circle cx="354.89" cy="570.55" r="3.0" fill="#f00"/>
<circle cx="355.92" cy="578.40" r="3.0" fill="#f00"/>
<circle cx="356.94" cy="592.10" r="3.0" fill="#f00"/>
<circle cx="357.96" cy="609.68" r="3.0" fill="#f00"/>
<circle cx="358.98" cy="626.04" r="3.0" fill="#f00"/>
<circle cx="360.00" cy="638.78" r="3.0" fill="#f00"/>
<circle cx="361.02" cy="647.66" r="3.0" fill="#f00"/>
<circle cx="362.04" cy="652.74" r="3.0" fill="#f00"/>
<circle cx="363.06" cy="655.91" r="3.0" fill="#f00"/>
<circle cx="364.08" cy="657.43" r="3.0" fill="#f00"/>
<circle cx="365.11" cy="658.17" r="3.0" fill="#f00"/>
<circle cx="366.13" cy="658.46" r="3.0" fill="#f00"/>
<circle cx="367.15" cy="658.66" r="3.0" fill="#f00"/>
<circle cx="368.17" cy="658.76" r="3.0" fill="#f00"/>
<circle cx="369.19" cy="658.80" r="3.0" fill="#f00"/>
<circle cx="370.21" cy="658.84" r="3.0" fill="#f00"/>
<circle cx="371.23" cy="658.88" r="3.0" fill="#f00"/>
<circle cx="372.25" cy="658.91" r="3.0" fill="#f00"/>
<circle cx="373.28" cy="658.94" r="3.0" fill="#f00"/>
<circle cx="374.30" cy="658.96" r="3.0" fill="#f00"/>
<circle cx="375.32" cy="658.97" r="3.0" fill="#f00"/>
<circle cx="376.34" cy="658.99" r="3.0" fill="#f00"/>
<circle cx="377.36" cy="658.99" r="3.0" fill="#f00"/>
<circle cx="378.38" cy="659.00" r="3.0" fill="#f00"/>
<circle cx="379.40" cy="659.00" r="3.0" fill="#f00"/>
<circle cx="380.42" cy="659.00" r="3.0" fill="#f00"/>
<circle cx="381.45" cy="659.00" r="3.0" fill="#f00"/>
<circle cx="382.47" cy="659.00" r="3.0" fill="#f00"/>
<circle cx="383.49" cy="659.00" r="3.0" fill="#f00"/>
<circle cx="384.51" cy="659.00" r="3.0" fill="#f00"/>
<circle cx="385.53" cy="659.00" r="3.0" fill="#f00"/>
<circle cx="386.55" cy="659.00" r="3.0" fill="#f00"/>
<circle cx="387.57" cy="659.00" r="3.0" fill="#f00"/>
<circle cx="388.59" cy="659.00" r="3.0" fill="#f00"/>
<circle cx="389.61" cy="659.00" r="3.0" fill="#f00"/>
<circle cx="390.64" cy="659.00" r="3.0" fill="#f00"/>
<circle cx="391.66" cy="659.00" r="3.0" fill="#f00"/>
<circle cx="392.68" cy="659.00" r="3.0" fill="#f00"/>
<circle cx="393.70" cy="659.00" r="3.0" fill="#f00"/>
<circle cx="394.72" cy="659.00" r="3.0" fill="#f00"/>
<circle cx="395.74" cy="659.00" r="3.0" fill="#f00"/>
<circle cx="396.76" cy="659.00" r="3.0" fill="#f00"/>
<circle cx="397.78" cy="659.00" r="3.0" fill="#f00"/>
<circle cx="398.81" cy="659.00" r="3.0" fill="#f00"/>
<circle cx="399.83" cy="659.00" r="3.0" fill="#f00"/>
<circle cx="400.85" cy="659.00" r="3.0" fill="#f00"/>
<circle cx="401.87" cy="659.00" r="3.0" fill="#f00"/>
<circle cx="402.89" cy="659.00" r="3.0" fill="#f00"/>
<circle cx="403.91" cy="659.00" r="3.0" fill="#f00"/>
<circle cx="404.93" cy="659.00" r="3.0" fill="#f00"/>
<circle cx="405.95" cy="659.00" r="3.0" fill="#f00"/>
<circle cx="406.98" cy="659.00" r="3.0" fill="#f00"/>
<circle cx="408.00" cy="659.00" r="3.0" fill="#f00"/>
<circle cx="409.02" cy="659.00" r="3.0" fill="#f00"/>
<circle cx="410.04" cy="659.00" r="3.0" fill="#f00"/>
<circle cx="411.06" cy="659.00" r="3.0" fill="#f00"/>
<circle cx="412.08" cy="659.00" r="3.0" fill="#f00"/>
<circle cx="413.10" cy="659.00" r="3.0" fill="#f00"/>
<circle cx="414.12" cy="659.00" r="3.0" fill="#f00"/>
<circle cx="415.14" cy="659.00" r="3.0" fill="#f00"/>
<circle cx="416.17" cy="659.00" r="3.0" fill="#f00"/>
<circle cx="417.19" cy="659.00" r="3.0" fill="#f00"/>
<circle cx="418.21" cy="659.00" r="3.0" fill="#f00"/>
<circle cx="419.23" cy="659.00" r="3.0" fill="#f00"/>
<circle cx="420.25" cy="659.00" r="3.0" fill="#f00"/>
<circle cx="421.27" cy="659.00" r="3.0" fill="#f00"/>
<circle cx="422.29" cy="659.00" r="3.0" fill="#f00"/>
<circle cx="423.31" cy="659.00" r="3.0" fill="#f00"/>
<circle cx="424.34" cy="659.00" r="3.0" fill="#f00"/>
<circle cx="425.36" cy="659.00" r="3.0" fill="#f00"/>
<circle cx="426.38" cy="659.00" r="3.0" fill="#f00"/>
<circle cx="427.40" cy="659.00" r="3.0" fill="#f00"/>
<circle cx="428.42" cy="659.00" r="3.0" fill="#f00"/>
<circle cx="429.44" cy="659.00" r="3.0" fill="#f00"/>
<circle cx="430.46" cy="659.00" r="3.0" fill="#f00"/>
<circle cx="431.48" cy="659.00" r="3.0" fill="#f00"/>
<circle cx="432.51" cy="659.00" r="3.0" fill="#f00"/>
<circle cx="433.53" cy="659.00" r="3.0" fill="#f00"/>
<circle cx="434.55" cy="659.00" r="3.0" fill="#f00"/>
<circle cx="435.57" cy="659.00" r="3.0" fill="#f00"/>
<circle cx="436.59" cy="659.00" r="3.0" fill="#f00"/>
<circle cx="437.61" cy="659.00" r="3.0" fill="#f00"/>
<circle cx="438.63" cy="659.00" r="3.0" fill="#f00"/>
<circle cx="439.65" cy="659.00" r="3.0" fill="#f00"/>
<circle cx="440.67" cy="659.00" r="3.0" fill="#f00"/>
<circle cx="441.70" cy="659.00" r="3.0" fill="#f00"/>
<circle cx="442.72" cy="659.00" r="3.0" fill="#f00"/>
<polyline points="274.39,593.01 274.67,588.34 274.95,583.77 275.23,579.27 275.51,574.82 275.79,569.99 276.08,565.40 276.36,562.00 276.64,559.84 276.92,558.00 277.20,556.42 277.48,555.08 277.76,553.94 278.04,552.97 278.33,552.13 278.61,551.36 278.89,550.66 279.17,550.02 279.45,549.43 279.73,548.89 280.01,548.39 280.29,547.94 280.58,547.52 280.86,547.13 281.14,546.76 281.42,546.39 281.70,546.03 281.98,545.68 282.26,545.35 282.55,545.04 282.83,544.74 283.11,544.48 283.39,544.23 283.67,544.02 283.95,543.84 284.23,543.70 284.51,543.60 284.80,543.51 285.08,543.44 285.36,543.37 285.64,543.31 285.92,543.27 286.20,543.25 286.48,543.28 286.76,543.49 287.05,543.84 287.33,544.26 287.61,544.70 287.89,545.11 288.17,545.44 288.45,545.73 288.73,546.03 289.02,546.34 289.30,546.63 289.58,546.91 289.86,547.15 290.14,547.35 290.42,547.49 290.70,547.57 290.98,547.57 291.27,547.55 291.55,547.52 291.83,547.48 292.11,547.44 292.39,547.38 292.67,547.33 292.95,547.27 293.23,547.22 293.52,547.17 293.80,547.14 294.08,547.11 294.36,547.09 294.64,547.10 294.92,547.17 295.20,547.28 295.48,547.44 295.77,547.63 296.05,547.86 296.33,548.12 296.61,548.39 296.89,548.68 297.17,548.98 297.45,549.28 297.74,549.58 298.02,549.87 298.30,550.14 298.58,550.42 298.86,550.70 299.14,550.98 299.42,551.28 299.70,551.59 299.99,551.93 300.27,552.28 300.55,552.66 300.83,553.06 301.11,553.50 301.39,553.98 301.67,554.49 301.95,555.07 302.24,555.74 302.52,556.51 302.80,557.37 303.08,558.33 303.36,559.38 303.64,560.53 303.92,561.77 304.21,563.12 304.49,564.62 304.77,566.51 305.05,568.74 305.33,571.24 305.61,573.94 305.89,576.76 306.17,579.62 306.46,582.67 306.74,586.10 307.02,589.76 307.30,593.52 307.58,597.23 307.86,600.75 308.14,603.96 308.42,607.04 308.71,610.08 308.99,613.02 309.27,615.81 309.55,618.37 309.83,620.67 310.11,622.70 310.39,624.70 310.68,626.65 310.96,628.53 311.24,630.30 311.52,631.91 311.80,633.33 312.08,634.53 312.36,635.46 312.64,636.09 312.93,636.58 313.21,637.04 313.49,637.47 313.77,637.88 314.05,638.25 314.33,638.58 314.61,638.87 314.89,639.12 315.18,639.33 315.46,639.49 315.74,639.59 316.02,639.64 316.30,639.65 316.58,639.65 316.86,639.65 317.15,639.65 317.43,639.65 317.71,639.65 317.99,639.65 318.27,639.65 318.55,639.65 318.83,639.65 319.11,639.65 319.40,639.65 319.68,639.65 319.96,639.62 320.24,639.49 320.52,639.26 320.80,638.93 321.08,638.54 321.36,638.09 321.65,637.60 321.93,637.08 322.21,636.56 322.49,636.04 322.77,635.48 323.05,634.83 323.33,634.09 323.61,633.28 323.90,632.42 324.18,631.52 324.46,630.59 324.74,629.66 325.02,628.72 325.30,627.79 325.58,626.90 325.87,626.05 326.15,625.25 326.43,624.51 326.71,623.77 326.99,623.04 327.27,622.31 327.55,621.60 327.83,620.89 328.12,620.19 328.40,619.50 328.68,618.82 328.96,618.15 329.24,617.50 329.52,616.85 329.80,616.22 330.08,615.60 330.37,614.99 330.65,614.40 330.93,613.83 331.21,613.28 331.49,612.76 331.77,612.26 332.05,611.77 332.34,611.29 332.62,610.82 332.90,610.35 333.18,609.89 333.46,609.41 333.74,608.93 334.02,608.43 334.30,607.92 334.59,607.38 334.87,606.82 335.15,606.23 335.43,605.60 335.71,604.92 335.99,604.19 336.27,603.43 336.55,602.64 336.84,601.83 337.12,601.02 337.40,600.20 337.68,599.39 337.96,598.60 338.24,597.83 338.52,597.09 338.81,596.40 339.09,595.75 339.37,595.14 339.65,594.56 339.93,594.00 340.21,593.46 340.49,592.93 340.77,592.42 341.06,591.91 341.34,591.40 341.62,590.88 341.90,590.35 342.18,589.81 342.46,589.25 342.74,588.66 343.02,588.04 343.31,587.39 343.59,586.70 343.87,585.96 344.15,585.18 344.43,584.36 344.71,583.51 344.99,582.64 345.28,581.74 345.56,580.83 345.84,579.92 346.12,579.00 346.40,578.08 346.68,577.17 346.96,576.27 347.24,575.37 347.53,574.43 347.81,573.48 348.09,572.50 348.37,571.52 348.65,570.54 348.93,569.57 349.21,568.62 349.49,567.69 349.78,566.80 350.06,565.96 350.34,565.16 350.62,564.43 350.90,563.64 351.18,562.84 351.46,562.18 351.74,561.80 352.03,561.80 352.31,562.04 352.59,562.46 352.87,563.05 353.15,563.78 353.43,564.61 353.71,565.52 354.00,566.49 354.28,567.49 354.56,568.71 354.84,570.23 355.12,572.02 355.40,574.07 355.68,576.35 355.96,578.85 356.25,581.71 356.53,585.46 356.81,589.92 357.09,594.80 357.37,599.85 357.65,604.77 357.93,609.31 358.21,613.76 358.50,618.34 358.78,622.89 359.06,627.26 359.34,631.28 359.62,634.80 359.90,637.79 360.18,640.60 360.47,643.22 360.75,645.61 361.03,647.71 361.31,649.46 361.59,650.85 361.87,652.05 362.15,653.16 362.43,654.15 362.72,655.02 363.00,655.76 363.28,656.35 363.56,656.79 363.84,657.15 364.12,657.47 364.40,657.74 364.68,657.96 364.97,658.11 365.25,658.21 365.53,658.30 365.81,658.38 366.09,658.46 366.37,658.52 366.65,658.58 366.94,658.63 367.22,658.67 367.50,658.71 367.78,658.73 368.06,658.75 368.34,658.77 368.62,658.78 368.90,658.79 369.19,658.80 369.47,658.82 369.75,658.83 370.03,658.84 370.31,658.85 370.59,658.86 370.87,658.87 371.15,658.88 371.44,658.89 371.72,658.90 372.00,658.90 372.28,658.91 372.56,658.92 372.84,658.93 373.12,658.93 373.41,658.94 373.69,658.95 373.97,658.95 374.25,658.96 374.53,658.96 374.81,658.97 375.09,658.97 375.37,658.98 375.66,658.98 375.94,658.98 376.22,658.99 376.50,658.99 376.78,658.99 377.06,658.99 377.34,658.99 377.62,659.00 377.91,659.00 378.19,659.00 378.47,659.00 378.75,659.00 379.03,659.00 379.31,659.00 379.59,659.00 379.87,659.00 380.16,659.00 380.44,659.00 380.72,659.00 381.00,659.00 381.28,659.00 381.56,659.00 381.84,659.00 382.13,659.00 382.41,659.00 382.69,659.00 382.97,659.00 383.25,659.00 383.53,659.00 383.81,659.00 384.09,659.00 384.38,659.00 384.66,659.00 384.94,659.00 385.22,659.00 385.50,659.00 385.78,659.00 386.06,659.00 386.34,659.00 386.63,659.00 386.91,659.00 387.19,659.00 387.47,659.00 387.75,659.00 388.03,659.00 388.31,659.00 388.60,659.00 388.88,659.00 389.16,659.00 389.44,659.00 389.72,659.00 390.00,659.00 390.28,659.00 390.56,659.00 390.85,659.00 391.13,659.00 391.41,659.00 391.69,659.00 391.97,659.00 392.25,659.00 392.53,659.00 392.81,659.00 393.10,659.00 393.38,659.00 393.66,659.00 393.94,659.00 394.22,659.00 394.50,659.00 394.78,659.00 395.07,659.00 395.35,659.00 395.63,659.00 395.91,659.00 396.19,659.00 396.47,659.00 396.75,659.00 397.03,659.00 397.32,659.00 397.60,659.00 397.88,659.00 398.16,659.00 398.44,659.00 398.72,659.00 399.00,659.00 399.28,659.00 399.57,659.00 399.85,659.00 400.13,659.00 400.41,659.00 400.69,659.00 400.97,659.00 401.25,659.00 401.54,659.00 401.82,659.00 402.10,659.00 402.38,659.00 402.66,659.00 402.94,659.00 403.22,659.00 403.50,659.00 403.79,659.00 404.07,659.00 404.35,659.00 404.63,659.00 404.91,659.00 405.19,659.00 405.47,659.00 405.75,659.00 406.04,659.00 406.32,659.00 406.60,659.00 406.88,659.00 407.16,659.00 407.44,659.00 407.72,659.00 408.00,659.00 408.29,659.00 408.57,659.00 408.85,659.00 409.13,659.00 409.41,659.00 409.69,659.00 409.97,659.00 410.26,659.00 410.54,659.00 410.82,659.00 411.10,659.00 411.38,659.00 411.66,659.00 411.94,659.00 412.22,659.00 412.51,659.00 412.79,659.00 413.07,659.00 413.35,659.00 413.63,659.00 413.91,659.00 414.19,659.00 414.47,659.00 414.76,659.00 415.04,659.00 415.32,659.00 415.60,659.00 415.88,659.00 416.16,659.00 416.44,659.00 416.73,659.00 417.01,659.00 417.29,659.00 417.57,659.00 417.85,659.00 418.13,659.00 418.41,659.00 418.69,659.00 418.98,659.00 419.26,659.00 419.54,659.00 419.82,659.00 420.10,659.00 420.38,659.00 420.66,659.00 420.94,659.00 421.23,659.00 421.51,659.00 421.79,659.00 422.07,659.00 422.35,659.00 422.63,659.00 422.91,659.00 423.20,659.00 423.48,659.00 423.76,659.00 424.04,659.00 424.32,659.00 424.60,659.00 424.88,659.00 425.16,659.00 425.45,659.00 425.73,659.00 426.01,659.00 426.29,659.00 426.57,659.00 426.85,659.00 427.13,659.00 427.41,659.00 427.70,659.00 427.98,659.00 428.26,659.00 428.54,659.00 428.82,659.00 429.10,659.00 429.38,659.00 429.67,659.00 429.95,659.00 430.23,659.00 430.51,659.00 430.79,659.00 431.07,659.00 431.35,659.00 431.63,659.00 431.92,659.00 432.20,659.00 432.48,659.00 432.76,659.00 433.04,659.00 433.32,659.00 433.60,659.00 433.88,659.00 434.17,659.00 434.45,659.00 434.73,659.00 435.01,659.00 435.29,659.00 435.57,659.00 435.85,659.00 436.13,659.00 436.42,659.00 436.70,659.00 436.98,659.00 437.26,659.00 437.54,659.00 437.82,659.00 438.10,659.00 438.39,659.00 438.67,659.00 438.95,659.00 439.23,659.00 439.51,659.00 439.79,659.00 440.07,659.00 440.35,659.00 440.64,659.00 440.92,659.00 441.20,659.00 441.48,659.00 441.76,659.00 442.04,659.00 442.32,659.00 442.60,659.00" fill="none" stroke="#00f" stroke-width="1.5" stroke-linejoin="round" stroke-linecap="square"/>
</g>
<rect x="265.95" y="537.60" width="184.55" height="127.50" fill="none" stroke="#444" stroke-width="1"/>
<line x1="274.50" y1="665.10" x2="274.50" y2="667.90" stroke="#333" stroke-width="0.9"/>
<text x="274.50" y="676.80" text-anchor="middle" font-size="8.2" textLength="15.27" lengthAdjust="spacingAndGlyphs" >400</text>
<line x1="302.63" y1="665.10" x2="302.63" y2="667.90" stroke="#333" stroke-width="0.9"/>
<text x="302.63" y="676.80" text-anchor="middle" font-size="8.2" textLength="15.27" lengthAdjust="spacingAndGlyphs" >500</text>
<line x1="330.76" y1="665.10" x2="330.76" y2="667.90" stroke="#333" stroke-width="0.9"/>
<text x="330.76" y="676.80" text-anchor="middle" font-size="8.2" textLength="15.27" lengthAdjust="spacingAndGlyphs" >600</text>
<line x1="358.89" y1="665.10" x2="358.89" y2="667.90" stroke="#333" stroke-width="0.9"/>
<text x="358.89" y="676.80" text-anchor="middle" font-size="8.2" textLength="15.27" lengthAdjust="spacingAndGlyphs" >700</text>
<line x1="387.02" y1="665.10" x2="387.02" y2="667.90" stroke="#333" stroke-width="0.9"/>
<text x="387.02" y="676.80" text-anchor="middle" font-size="8.2" textLength="15.27" lengthAdjust="spacingAndGlyphs" >800</text>
<line x1="415.15" y1="665.10" x2="415.15" y2="667.90" stroke="#333" stroke-width="0.9"/>
<text x="415.15" y="676.80" text-anchor="middle" font-size="8.2" textLength="15.27" lengthAdjust="spacingAndGlyphs" >900</text>
<line x1="443.28" y1="665.10" x2="443.28" y2="667.90" stroke="#333" stroke-width="0.9"/>
<text x="443.28" y="676.80" text-anchor="middle" font-size="8.2" textLength="20.36" lengthAdjust="spacingAndGlyphs" >1000</text>
<line x1="263.15" y1="659.60" x2="265.95" y2="659.60" stroke="#333" stroke-width="0.9"/>
<text x="259.95" y="662.50" text-anchor="end" font-size="8.2" textLength="5.09" lengthAdjust="spacingAndGlyphs" >0</text>
<line x1="263.15" y1="635.56" x2="265.95" y2="635.56" stroke="#333" stroke-width="0.9"/>
<text x="259.95" y="638.46" text-anchor="end" font-size="8.2" textLength="15.27" lengthAdjust="spacingAndGlyphs" >100</text>
<line x1="263.15" y1="611.52" x2="265.95" y2="611.52" stroke="#333" stroke-width="0.9"/>
<text x="259.95" y="614.42" text-anchor="end" font-size="8.2" textLength="15.27" lengthAdjust="spacingAndGlyphs" >200</text>
<line x1="263.15" y1="587.48" x2="265.95" y2="587.48" stroke="#333" stroke-width="0.9"/>
<text x="259.95" y="590.38" text-anchor="end" font-size="8.2" textLength="15.27" lengthAdjust="spacingAndGlyphs" >300</text>
<line x1="263.15" y1="563.44" x2="265.95" y2="563.44" stroke="#333" stroke-width="0.9"/>
<text x="259.95" y="566.34" text-anchor="end" font-size="8.2" textLength="15.27" lengthAdjust="spacingAndGlyphs" >400</text>
<line x1="263.15" y1="539.40" x2="265.95" y2="539.40" stroke="#333" stroke-width="0.9"/>
<text x="259.95" y="542.30" text-anchor="end" font-size="8.2" textLength="15.27" lengthAdjust="spacingAndGlyphs" >500</text>
<text x="358.23" y="688.30" text-anchor="middle" font-size="8.2" textLength="63.53" lengthAdjust="spacingAndGlyphs" >Wavelength/nm</text>
<text transform="translate(239.70,601.35) rotate(-90)" x="0" y="0" text-anchor="middle" font-size="8.2" textLength="47.27" lengthAdjust="spacingAndGlyphs">Reflectance</text>
<text x="331.50" y="532.25" font-size="10.3" font-weight="normal" style="stroke-width:0.5px" textLength="54.90" lengthAdjust="spacingAndGlyphs">SDRL-LASSO</text>
<text x="268.60" y="531.60" font-size="14" font-weight="normal" style="stroke-width:0.45px">k</text>
<rect x="345.17" y="588.35" width="101.33" height="26.00" rx="1.6" fill="#fff" fill-opacity="0.8" stroke="#ccc" stroke-width="0.8"/>
<line x1="347.57" y1="594.95" x2="365.07" y2="594.95" stroke="#00f" stroke-width="1.5"/>
<circle cx="356.37" cy="607.55" r="3.0" fill="#f00"/>
<text x="371.57" y="597.95" text-anchor="start" font-size="8.2" textLength="21.25" lengthAdjust="spacingAndGlyphs" >SDRL</text>
<text x="371.57" y="609.55" text-anchor="start" font-size="8.2" textLength="71.33" lengthAdjust="spacingAndGlyphs" >Feature band 165</text>
<clipPath id="clipl"><rect x="497.75" y="537.60" width="184.55" height="127.50"/></clipPath>
<g clip-path="url(#clipl)">
<circle cx="510.21" cy="551.89" r="3.0" fill="#f00"/>
<circle cx="512.99" cy="546.68" r="3.0" fill="#f00"/>
<circle cx="521.41" cy="546.94" r="3.0" fill="#f00"/>
<circle cx="532.46" cy="552.82" r="3.0" fill="#f00"/>
<circle cx="534.91" cy="558.43" r="3.0" fill="#f00"/>
<circle cx="538.22" cy="582.31" r="3.0" fill="#f00"/>
<circle cx="542.62" cy="627.63" r="3.0" fill="#f00"/>
<circle cx="543.71" cy="633.84" r="3.0" fill="#f00"/>
<circle cx="544.84" cy="636.77" r="3.0" fill="#f00"/>
<circle cx="545.96" cy="638.39" r="3.0" fill="#f00"/>
<circle cx="547.09" cy="639.40" r="3.0" fill="#f00"/>
<circle cx="548.21" cy="639.65" r="3.0" fill="#f00"/>
<circle cx="549.34" cy="639.65" r="3.0" fill="#f00"/>
<circle cx="550.46" cy="639.65" r="3.0" fill="#f00"/>
<circle cx="551.59" cy="639.65" r="3.0" fill="#f00"/>
<circle cx="552.71" cy="638.78" r="3.0" fill="#f00"/>
<circle cx="553.84" cy="636.87" r="3.0" fill="#f00"/>
<circle cx="554.96" cy="634.54" r="3.0" fill="#f00"/>
<circle cx="556.09" cy="631.15" r="3.0" fill="#f00"/>
<circle cx="556.09" cy="631.15" r="3.0" fill="#f00"/>
<circle cx="557.36" cy="626.99" r="3.0" fill="#f00"/>
<circle cx="558.62" cy="623.47" r="3.0" fill="#f00"/>
<circle cx="560.03" cy="619.91" r="3.0" fill="#f00"/>
<circle cx="561.43" cy="616.60" r="3.0" fill="#f00"/>
<circle cx="562.84" cy="613.61" r="3.0" fill="#f00"/>
<circle cx="564.25" cy="611.10" r="3.0" fill="#f00"/>
<circle cx="565.65" cy="608.73" r="3.0" fill="#f00"/>
<circle cx="569.59" cy="599.07" r="3.0" fill="#f00"/>
<circle cx="571.00" cy="595.50" r="3.0" fill="#f00"/>
<circle cx="572.41" cy="592.73" r="3.0" fill="#f00"/>
<circle cx="573.81" cy="590.14" r="3.0" fill="#f00"/>
<circle cx="575.22" cy="587.12" r="3.0" fill="#f00"/>
<circle cx="576.62" cy="583.16" r="3.0" fill="#f00"/>
<circle cx="580.70" cy="569.67" r="3.0" fill="#f00"/>
<circle cx="582.08" cy="565.34" r="3.0" fill="#f00"/>
<circle cx="583.45" cy="561.89" r="3.0" fill="#f00"/>
<circle cx="584.82" cy="563.42" r="3.0" fill="#f00"/>
<circle cx="586.19" cy="567.94" r="3.0" fill="#f00"/>
<circle cx="588.30" cy="585.08" r="3.0" fill="#f00"/>
<circle cx="590.31" cy="618.49" r="3.0" fill="#f00"/>
<circle cx="592.35" cy="643.97" r="3.0" fill="#f00"/>
<circle cx="594.35" cy="654.52" r="3.0" fill="#f00"/>
<circle cx="595.47" cy="656.94" r="3.0" fill="#f00"/>
<circle cx="596.60" cy="658.03" r="3.0" fill="#f00"/>
<circle cx="597.72" cy="658.41" r="3.0" fill="#f00"/>
<circle cx="598.85" cy="658.65" r="3.0" fill="#f00"/>
<circle cx="599.97" cy="658.76" r="3.0" fill="#f00"/>
<circle cx="601.10" cy="658.81" r="3.0" fill="#f00"/>
<circle cx="602.22" cy="658.85" r="3.0" fill="#f00"/>
<circle cx="603.35" cy="658.89" r="3.0" fill="#f00"/>
<circle cx="604.47" cy="658.92" r="3.0" fill="#f00"/>
<circle cx="605.60" cy="658.95" r="3.0" fill="#f00"/>
<circle cx="606.72" cy="658.97" r="3.0" fill="#f00"/>
<circle cx="607.85" cy="658.98" r="3.0" fill="#f00"/>
<circle cx="608.97" cy="658.99" r="3.0" fill="#f00"/>
<circle cx="610.10" cy="659.00" r="3.0" fill="#f00"/>
<circle cx="611.22" cy="659.00" r="3.0" fill="#f00"/>
<circle cx="612.35" cy="659.00" r="3.0" fill="#f00"/>
<circle cx="613.48" cy="659.00" r="3.0" fill="#f00"/>
<circle cx="614.60" cy="659.00" r="3.0" fill="#f00"/>
<circle cx="615.73" cy="659.00" r="3.0" fill="#f00"/>
<circle cx="616.85" cy="659.00" r="3.0" fill="#f00"/>
<circle cx="617.98" cy="659.00" r="3.0" fill="#f00"/>
<circle cx="619.10" cy="659.00" r="3.0" fill="#f00"/>
<circle cx="620.23" cy="659.00" r="3.0" fill="#f00"/>
<circle cx="621.35" cy="659.00" r="3.0" fill="#f00"/>
<circle cx="622.48" cy="659.00" r="3.0" fill="#f00"/>
<circle cx="623.60" cy="659.00" r="3.0" fill="#f00"/>
<circle cx="624.73" cy="659.00" r="3.0" fill="#f00"/>
<circle cx="625.85" cy="659.00" r="3.0" fill="#f00"/>
<circle cx="626.98" cy="659.00" r="3.0" fill="#f00"/>
<circle cx="628.10" cy="659.00" r="3.0" fill="#f00"/>
<circle cx="632.88" cy="659.00" r="3.0" fill="#f00"/>
<circle cx="634.67" cy="659.00" r="3.0" fill="#f00"/>
<circle cx="636.45" cy="659.00" r="3.0" fill="#f00"/>
<circle cx="638.23" cy="659.00" r="3.0" fill="#f00"/>
<circle cx="647.79" cy="659.00" r="3.0" fill="#f00"/>
<circle cx="649.48" cy="659.00" r="3.0" fill="#f00"/>
<circle cx="651.17" cy="659.00" r="3.0" fill="#f00"/>
<circle cx="652.86" cy="659.00" r="3.0" fill="#f00"/>
<circle cx="654.55" cy="659.00" r="3.0" fill="#f00"/>
<circle cx="656.23" cy="659.00" r="3.0" fill="#f00"/>
<circle cx="660.45" cy="659.00" r="3.0" fill="#f00"/>
<circle cx="662.14" cy="659.00" r="3.0" fill="#f00"/>
<circle cx="663.83" cy="659.00" r="3.0" fill="#f00"/>
<circle cx="665.52" cy="659.00" r="3.0" fill="#f00"/>
<circle cx="667.20" cy="659.00" r="3.0" fill="#f00"/>
<circle cx="668.89" cy="659.00" r="3.0" fill="#f00"/>
<circle cx="670.58" cy="659.00" r="3.0" fill="#f00"/>
<circle cx="672.27" cy="659.00" r="3.0" fill="#f00"/>
<circle cx="673.95" cy="659.00" r="3.0" fill="#f00"/>
<polyline points="506.19,593.01 506.47,588.34 506.75,583.77 507.03,579.27 507.31,574.82 507.59,569.99 507.88,565.40 508.16,562.00 508.44,559.84 508.72,558.00 509.00,556.42 509.28,555.08 509.56,553.94 509.84,552.97 510.13,552.13 510.41,551.36 510.69,550.66 510.97,550.02 511.25,549.43 511.53,548.89 511.81,548.39 512.09,547.94 512.38,547.52 512.66,547.13 512.94,546.76 513.22,546.39 513.50,546.03 513.78,545.68 514.06,545.35 514.35,545.04 514.63,544.74 514.91,544.48 515.19,544.23 515.47,544.02 515.75,543.84 516.03,543.70 516.31,543.60 516.60,543.51 516.88,543.44 517.16,543.37 517.44,543.31 517.72,543.27 518.00,543.25 518.28,543.28 518.56,543.49 518.85,543.84 519.13,544.26 519.41,544.70 519.69,545.11 519.97,545.44 520.25,545.73 520.53,546.03 520.82,546.34 521.10,546.63 521.38,546.91 521.66,547.15 521.94,547.35 522.22,547.49 522.50,547.57 522.78,547.57 523.07,547.55 523.35,547.52 523.63,547.48 523.91,547.44 524.19,547.38 524.47,547.33 524.75,547.27 525.03,547.22 525.32,547.17 525.60,547.14 525.88,547.11 526.16,547.09 526.44,547.10 526.72,547.17 527.00,547.28 527.28,547.44 527.57,547.63 527.85,547.86 528.13,548.12 528.41,548.39 528.69,548.68 528.97,548.98 529.25,549.28 529.54,549.58 529.82,549.87 530.10,550.14 530.38,550.42 530.66,550.70 530.94,550.98 531.22,551.28 531.50,551.59 531.79,551.93 532.07,552.28 532.35,552.66 532.63,553.06 532.91,553.50 533.19,553.98 533.47,554.49 533.75,555.07 534.04,555.74 534.32,556.51 534.60,557.37 534.88,558.33 535.16,559.38 535.44,560.53 535.72,561.77 536.01,563.12 536.29,564.62 536.57,566.51 536.85,568.74 537.13,571.24 537.41,573.94 537.69,576.76 537.97,579.62 538.26,582.67 538.54,586.10 538.82,589.76 539.10,593.52 539.38,597.23 539.66,600.75 539.94,603.96 540.22,607.04 540.51,610.08 540.79,613.02 541.07,615.81 541.35,618.37 541.63,620.67 541.91,622.70 542.19,624.70 542.48,626.65 542.76,628.53 543.04,630.30 543.32,631.91 543.60,633.33 543.88,634.53 544.16,635.46 544.44,636.09 544.73,636.58 545.01,637.04 545.29,637.47 545.57,637.88 545.85,638.25 546.13,638.58 546.41,638.87 546.69,639.12 546.98,639.33 547.26,639.49 547.54,639.59 547.82,639.64 548.10,639.65 548.38,639.65 548.66,639.65 548.95,639.65 549.23,639.65 549.51,639.65 549.79,639.65 550.07,639.65 550.35,639.65 550.63,639.65 550.91,639.65 551.20,639.65 551.48,639.65 551.76,639.62 552.04,639.49 552.32,639.26 552.60,638.93 552.88,638.54 553.16,638.09 553.45,637.60 553.73,637.08 554.01,636.56 554.29,636.04 554.57,635.48 554.85,634.83 555.13,634.09 555.41,633.28 555.70,632.42 555.98,631.52 556.26,630.59 556.54,629.66 556.82,628.72 557.10,627.79 557.38,626.90 557.67,626.05 557.95,625.25 558.23,624.51 558.51,623.77 558.79,623.04 559.07,622.31 559.35,621.60 559.63,620.89 559.92,620.19 560.20,619.50 560.48,618.82 560.76,618.15 561.04,617.50 561.32,616.85 561.60,616.22 561.88,615.60 562.17,614.99 562.45,614.40 562.73,613.83 563.01,613.28 563.29,612.76 563.57,612.26 563.85,611.77 564.14,611.29 564.42,610.82 564.70,610.35 564.98,609.89 565.26,609.41 565.54,608.93 565.82,608.43 566.10,607.92 566.39,607.38 566.67,606.82 566.95,606.23 567.23,605.60 567.51,604.92 567.79,604.19 568.07,603.43 568.35,602.64 568.64,601.83 568.92,601.02 569.20,600.20 569.48,599.39 569.76,598.60 570.04,597.83 570.32,597.09 570.61,596.40 570.89,595.75 571.17,595.14 571.45,594.56 571.73,594.00 572.01,593.46 572.29,592.93 572.57,592.42 572.86,591.91 573.14,591.40 573.42,590.88 573.70,590.35 573.98,589.81 574.26,589.25 574.54,588.66 574.82,588.04 575.11,587.39 575.39,586.70 575.67,585.96 575.95,585.18 576.23,584.36 576.51,583.51 576.79,582.64 577.08,581.74 577.36,580.83 577.64,579.92 577.92,579.00 578.20,578.08 578.48,577.17 578.76,576.27 579.04,575.37 579.33,574.43 579.61,573.48 579.89,572.50 580.17,571.52 580.45,570.54 580.73,569.57 581.01,568.62 581.29,567.69 581.58,566.80 581.86,565.96 582.14,565.16 582.42,564.43 582.70,563.64 582.98,562.84 583.26,562.18 583.54,561.80 583.83,561.80 584.11,562.04 584.39,562.46 584.67,563.05 584.95,563.78 585.23,564.61 585.51,565.52 585.80,566.49 586.08,567.49 586.36,568.71 586.64,570.23 586.92,572.02 587.20,574.07 587.48,576.35 587.76,578.85 588.05,581.71 588.33,585.46 588.61,589.92 588.89,594.80 589.17,599.85 589.45,604.77 589.73,609.31 590.01,613.76 590.30,618.34 590.58,622.89 590.86,627.26 591.14,631.28 591.42,634.80 591.70,637.79 591.98,640.60 592.27,643.22 592.55,645.61 592.83,647.71 593.11,649.46 593.39,650.85 593.67,652.05 593.95,653.16 594.23,654.15 594.52,655.02 594.80,655.76 595.08,656.35 595.36,656.79 595.64,657.15 595.92,657.47 596.20,657.74 596.48,657.96 596.77,658.11 597.05,658.21 597.33,658.30 597.61,658.38 597.89,658.46 598.17,658.52 598.45,658.58 598.74,658.63 599.02,658.67 599.30,658.71 599.58,658.73 599.86,658.75 600.14,658.77 600.42,658.78 600.70,658.79 600.99,658.80 601.27,658.82 601.55,658.83 601.83,658.84 602.11,658.85 602.39,658.86 602.67,658.87 602.95,658.88 603.24,658.89 603.52,658.90 603.80,658.90 604.08,658.91 604.36,658.92 604.64,658.93 604.92,658.93 605.21,658.94 605.49,658.95 605.77,658.95 606.05,658.96 606.33,658.96 606.61,658.97 606.89,658.97 607.17,658.98 607.46,658.98 607.74,658.98 608.02,658.99 608.30,658.99 608.58,658.99 608.86,658.99 609.14,658.99 609.42,659.00 609.71,659.00 609.99,659.00 610.27,659.00 610.55,659.00 610.83,659.00 611.11,659.00 611.39,659.00 611.67,659.00 611.96,659.00 612.24,659.00 612.52,659.00 612.80,659.00 613.08,659.00 613.36,659.00 613.64,659.00 613.93,659.00 614.21,659.00 614.49,659.00 614.77,659.00 615.05,659.00 615.33,659.00 615.61,659.00 615.89,659.00 616.18,659.00 616.46,659.00 616.74,659.00 617.02,659.00 617.30,659.00 617.58,659.00 617.86,659.00 618.14,659.00 618.43,659.00 618.71,659.00 618.99,659.00 619.27,659.00 619.55,659.00 619.83,659.00 620.11,659.00 620.40,659.00 620.68,659.00 620.96,659.00 621.24,659.00 621.52,659.00 621.80,659.00 622.08,659.00 622.36,659.00 622.65,659.00 622.93,659.00 623.21,659.00 623.49,659.00 623.77,659.00 624.05,659.00 624.33,659.00 624.61,659.00 624.90,659.00 625.18,659.00 625.46,659.00 625.74,659.00 626.02,659.00 626.30,659.00 626.58,659.00 626.87,659.00 627.15,659.00 627.43,659.00 627.71,659.00 627.99,659.00 628.27,659.00 628.55,659.00 628.83,659.00 629.12,659.00 629.40,659.00 629.68,659.00 629.96,659.00 630.24,659.00 630.52,659.00 630.80,659.00 631.08,659.00 631.37,659.00 631.65,659.00 631.93,659.00 632.21,659.00 632.49,659.00 632.77,659.00 633.05,659.00 633.34,659.00 633.62,659.00 633.90,659.00 634.18,659.00 634.46,659.00 634.74,659.00 635.02,659.00 635.30,659.00 635.59,659.00 635.87,659.00 636.15,659.00 636.43,659.00 636.71,659.00 636.99,659.00 637.27,659.00 637.55,659.00 637.84,659.00 638.12,659.00 638.40,659.00 638.68,659.00 638.96,659.00 639.24,659.00 639.52,659.00 639.80,659.00 640.09,659.00 640.37,659.00 640.65,659.00 640.93,659.00 641.21,659.00 641.49,659.00 641.77,659.00 642.06,659.00 642.34,659.00 642.62,659.00 642.90,659.00 643.18,659.00 643.46,659.00 643.74,659.00 644.02,659.00 644.31,659.00 644.59,659.00 644.87,659.00 645.15,659.00 645.43,659.00 645.71,659.00 645.99,659.00 646.27,659.00 646.56,659.00 646.84,659.00 647.12,659.00 647.40,659.00 647.68,659.00 647.96,659.00 648.24,659.00 648.53,659.00 648.81,659.00 649.09,659.00 649.37,659.00 649.65,659.00 649.93,659.00 650.21,659.00 650.49,659.00 650.78,659.00 651.06,659.00 651.34,659.00 651.62,659.00 651.90,659.00 652.18,659.00 652.46,659.00 652.74,659.00 653.03,659.00 653.31,659.00 653.59,659.00 653.87,659.00 654.15,659.00 654.43,659.00 654.71,659.00 655.00,659.00 655.28,659.00 655.56,659.00 655.84,659.00 656.12,659.00 656.40,659.00 656.68,659.00 656.96,659.00 657.25,659.00 657.53,659.00 657.81,659.00 658.09,659.00 658.37,659.00 658.65,659.00 658.93,659.00 659.21,659.00 659.50,659.00 659.78,659.00 660.06,659.00 660.34,659.00 660.62,659.00 660.90,659.00 661.18,659.00 661.47,659.00 661.75,659.00 662.03,659.00 662.31,659.00 662.59,659.00 662.87,659.00 663.15,659.00 663.43,659.00 663.72,659.00 664.00,659.00 664.28,659.00 664.56,659.00 664.84,659.00 665.12,659.00 665.40,659.00 665.68,659.00 665.97,659.00 666.25,659.00 666.53,659.00 666.81,659.00 667.09,659.00 667.37,659.00 667.65,659.00 667.93,659.00 668.22,659.00 668.50,659.00 668.78,659.00 669.06,659.00 669.34,659.00 669.62,659.00 669.90,659.00 670.19,659.00 670.47,659.00 670.75,659.00 671.03,659.00 671.31,659.00 671.59,659.00 671.87,659.00 672.15,659.00 672.44,659.00 672.72,659.00 673.00,659.00 673.28,659.00 673.56,659.00 673.84,659.00 674.12,659.00 674.40,659.00" fill="none" stroke="#00f" stroke-width="1.5" stroke-linejoin="round" stroke-linecap="square"/>
</g>
<rect x="497.75" y="537.60" width="184.55" height="127.50" fill="none" stroke="#444" stroke-width="1"/>
<line x1="506.30" y1="665.10" x2="506.30" y2="667.90" stroke="#333" stroke-width="0.9"/>
<text x="506.30" y="676.80" text-anchor="middle" font-size="8.2" textLength="15.27" lengthAdjust="spacingAndGlyphs" >400</text>
<line x1="534.43" y1="665.10" x2="534.43" y2="667.90" stroke="#333" stroke-width="0.9"/>
<text x="534.43" y="676.80" text-anchor="middle" font-size="8.2" textLength="15.27" lengthAdjust="spacingAndGlyphs" >500</text>
<line x1="562.56" y1="665.10" x2="562.56" y2="667.90" stroke="#333" stroke-width="0.9"/>
<text x="562.56" y="676.80" text-anchor="middle" font-size="8.2" textLength="15.27" lengthAdjust="spacingAndGlyphs" >600</text>
<line x1="590.69" y1="665.10" x2="590.69" y2="667.90" stroke="#333" stroke-width="0.9"/>
<text x="590.69" y="676.80" text-anchor="middle" font-size="8.2" textLength="15.27" lengthAdjust="spacingAndGlyphs" >700</text>
<line x1="618.82" y1="665.10" x2="618.82" y2="667.90" stroke="#333" stroke-width="0.9"/>
<text x="618.82" y="676.80" text-anchor="middle" font-size="8.2" textLength="15.27" lengthAdjust="spacingAndGlyphs" >800</text>
<line x1="646.95" y1="665.10" x2="646.95" y2="667.90" stroke="#333" stroke-width="0.9"/>
<text x="646.95" y="676.80" text-anchor="middle" font-size="8.2" textLength="15.27" lengthAdjust="spacingAndGlyphs" >900</text>
<line x1="675.08" y1="665.10" x2="675.08" y2="667.90" stroke="#333" stroke-width="0.9"/>
<text x="675.08" y="676.80" text-anchor="middle" font-size="8.2" textLength="20.36" lengthAdjust="spacingAndGlyphs" >1000</text>
<line x1="494.95" y1="659.60" x2="497.75" y2="659.60" stroke="#333" stroke-width="0.9"/>
<text x="491.75" y="662.50" text-anchor="end" font-size="8.2" textLength="5.09" lengthAdjust="spacingAndGlyphs" >0</text>
<line x1="494.95" y1="635.56" x2="497.75" y2="635.56" stroke="#333" stroke-width="0.9"/>
<text x="491.75" y="638.46" text-anchor="end" font-size="8.2" textLength="15.27" lengthAdjust="spacingAndGlyphs" >100</text>
<line x1="494.95" y1="611.52" x2="497.75" y2="611.52" stroke="#333" stroke-width="0.9"/>
<text x="491.75" y="614.42" text-anchor="end" font-size="8.2" textLength="15.27" lengthAdjust="spacingAndGlyphs" >200</text>
<line x1="494.95" y1="587.48" x2="497.75" y2="587.48" stroke="#333" stroke-width="0.9"/>
<text x="491.75" y="590.38" text-anchor="end" font-size="8.2" textLength="15.27" lengthAdjust="spacingAndGlyphs" >300</text>
<line x1="494.95" y1="563.44" x2="497.75" y2="563.44" stroke="#333" stroke-width="0.9"/>
<text x="491.75" y="566.34" text-anchor="end" font-size="8.2" textLength="15.27" lengthAdjust="spacingAndGlyphs" >400</text>
<line x1="494.95" y1="539.40" x2="497.75" y2="539.40" stroke="#333" stroke-width="0.9"/>
<text x="491.75" y="542.30" text-anchor="end" font-size="8.2" textLength="15.27" lengthAdjust="spacingAndGlyphs" >500</text>
<text x="590.02" y="688.30" text-anchor="middle" font-size="8.2" textLength="63.53" lengthAdjust="spacingAndGlyphs" >Wavelength/nm</text>
<text transform="translate(471.50,601.35) rotate(-90)" x="0" y="0" text-anchor="middle" font-size="8.2" textLength="47.27" lengthAdjust="spacingAndGlyphs">Reflectance</text>
<text x="568.80" y="532.25" font-size="10.3" font-weight="normal" style="stroke-width:0.5px" textLength="43.80" lengthAdjust="spacingAndGlyphs">SDRL-UVE</text>
<text x="502.50" y="531.60" font-size="14" font-weight="normal" style="stroke-width:0.45px">l</text>
<rect x="582.06" y="588.35" width="96.24" height="26.00" rx="1.6" fill="#fff" fill-opacity="0.8" stroke="#ccc" stroke-width="0.8"/>
<line x1="584.46" y1="594.95" x2="601.96" y2="594.95" stroke="#00f" stroke-width="1.5"/>
<circle cx="593.26" cy="607.55" r="3.0" fill="#f00"/>
<text x="608.46" y="597.95" text-anchor="start" font-size="8.2" textLength="21.25" lengthAdjust="spacingAndGlyphs" >SDRL</text>
<text x="608.46" y="609.55" text-anchor="start" font-size="8.2" textLength="66.24" lengthAdjust="spacingAndGlyphs" >Feature band 81</text>
</svg>
</body></html>
